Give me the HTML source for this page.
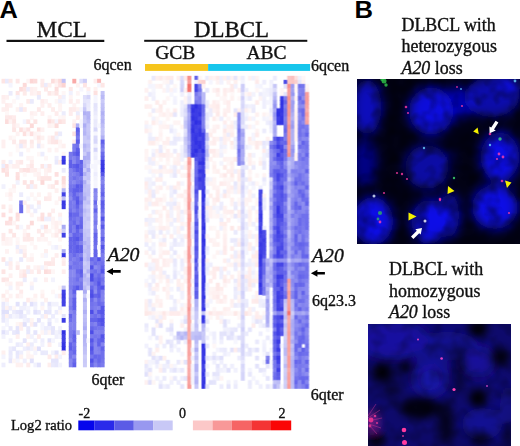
<!DOCTYPE html>
<html><head><meta charset="utf-8"><title>A20 loss</title><style>
html,body{margin:0;padding:0;background:#fff;width:520px;height:446px;overflow:hidden}
svg{position:absolute;left:0;top:0;display:block}
.s{font-family:"Liberation Serif",serif;fill:#111;stroke:#111;stroke-width:0.35px}
.b{font-family:"Liberation Sans",sans-serif;font-weight:bold;fill:#000}
</style></head><body>
<svg width="520" height="446" viewBox="0 0 520 446">
<defs>
<filter id="hb" x="-5%" y="-5%" width="110%" height="110%"><feGaussianBlur stdDeviation="0.75"/></filter>
<filter id="bl1" x="-30%" y="-30%" width="160%" height="160%"><feGaussianBlur stdDeviation="6"/></filter>
<filter id="bl2" x="-30%" y="-30%" width="160%" height="160%"><feGaussianBlur stdDeviation="7"/></filter>
<filter id="bl3" x="-30%" y="-30%" width="160%" height="160%"><feGaussianBlur stdDeviation="4.5"/></filter>
<filter id="dot" x="-100%" y="-100%" width="300%" height="300%"><feGaussianBlur stdDeviation="0.75"/></filter>
<filter id="tex" x="0" y="0" width="100%" height="100%"><feTurbulence type="fractalNoise" baseFrequency="0.07" numOctaves="2" seed="11"/><feColorMatrix type="matrix" values="0 0 0 0 0  0 0 0 0 0  0 0 0 0 0  1.8 0 0 0 -0.75"/></filter>
<clipPath id="c1"><rect x="357" y="79" width="163" height="165"/></clipPath>
<clipPath id="c2"><rect x="368" y="324" width="143" height="122"/></clipPath>
</defs>
<g filter="url(#hb)">
<g transform="translate(1.50,78.80) scale(3.5410,4.0549)">
<rect x="0" y="0" width="1.12" height="1.15" fill="#fde5e4"/>
<rect x="0" y="4" width="1.12" height="1.15" fill="#feeeee"/>
<rect x="0" y="5" width="1.12" height="1.15" fill="#fef1f1"/>
<rect x="0" y="7" width="1.12" height="1.15" fill="#feefef"/>
<rect x="0" y="15" width="1.12" height="2.15" fill="#fef0f0"/>
<rect x="0" y="20" width="1.12" height="1.15" fill="#feeceb"/>
<rect x="0" y="21" width="1.12" height="1.15" fill="#ececfc"/>
<rect x="0" y="22" width="1.12" height="1.15" fill="#fddfde"/>
<rect x="0" y="26" width="1.12" height="1.15" fill="#f1f1fd"/>
<rect x="0" y="31" width="1.12" height="1.15" fill="#fde9e8"/>
<rect x="0" y="33" width="1.12" height="1.15" fill="#fddede"/>
<rect x="0" y="38" width="1.12" height="1.15" fill="#fdeaea"/>
<rect x="0" y="39" width="1.12" height="1.15" fill="#fdeae9"/>
<rect x="0" y="40" width="1.12" height="1.15" fill="#fef6f6"/>
<rect x="0" y="44" width="1.12" height="1.15" fill="#fde5e4"/>
<rect x="0" y="47" width="1.12" height="1.15" fill="#fde5e4"/>
<rect x="0" y="49" width="1.12" height="1.15" fill="#fde5e5"/>
<rect x="0" y="53" width="1.12" height="1.15" fill="#fde9e8"/>
<rect x="0" y="54" width="1.12" height="1.15" fill="#fef8f7"/>
<rect x="0" y="55" width="1.12" height="1.15" fill="#e8e8fc"/>
<rect x="0" y="56" width="1.12" height="1.15" fill="#e9e9fc"/>
<rect x="0" y="57" width="1.12" height="1.15" fill="#e0e0fb"/>
<rect x="0" y="58" width="1.12" height="1.15" fill="#e7e7fc"/>
<rect x="0" y="59" width="1.12" height="1.15" fill="#e8e8fc"/>
<rect x="0" y="61" width="1.12" height="1.15" fill="#f5f5fe"/>
<rect x="0" y="62" width="1.12" height="1.15" fill="#e1e1fb"/>
<rect x="0" y="63" width="1.12" height="1.15" fill="#f2f2fd"/>
<rect x="0" y="67" width="1.12" height="1.15" fill="#fef0ef"/>
<rect x="0" y="68" width="1.12" height="1.15" fill="#f4f4fe"/>
<rect x="0" y="70" width="1.12" height="1.15" fill="#eeeefd"/>
<rect x="1" y="0" width="1.12" height="1.15" fill="#eaeafc"/>
<rect x="1" y="4" width="1.12" height="1.15" fill="#fef1f1"/>
<rect x="1" y="6" width="1.12" height="1.15" fill="#feecec"/>
<rect x="1" y="7" width="1.12" height="1.15" fill="#feeeed"/>
<rect x="1" y="8" width="1.12" height="1.15" fill="#fef7f7"/>
<rect x="1" y="9" width="1.12" height="1.15" fill="#fde9e9"/>
<rect x="1" y="10" width="1.12" height="1.15" fill="#fcdddc"/>
<rect x="1" y="21" width="1.12" height="1.15" fill="#fde1e1"/>
<rect x="1" y="22" width="1.12" height="1.15" fill="#fde7e7"/>
<rect x="1" y="23" width="1.12" height="1.15" fill="#fde1e0"/>
<rect x="1" y="28" width="1.12" height="1.15" fill="#fef7f7"/>
<rect x="1" y="35" width="1.12" height="1.15" fill="#fde0e0"/>
<rect x="1" y="39" width="1.12" height="1.15" fill="#fef2f2"/>
<rect x="1" y="40" width="1.12" height="1.15" fill="#fef3f3"/>
<rect x="1" y="42" width="1.12" height="1.15" fill="#fef2f2"/>
<rect x="1" y="45" width="1.12" height="1.15" fill="#f0f0fd"/>
<rect x="1" y="49" width="1.12" height="1.15" fill="#fde8e7"/>
<rect x="1" y="50" width="1.12" height="1.15" fill="#fef6f6"/>
<rect x="1" y="52" width="1.12" height="1.15" fill="#fef5f5"/>
<rect x="1" y="54" width="1.12" height="1.15" fill="#feefef"/>
<rect x="1" y="55" width="1.12" height="1.15" fill="#f5f5fe"/>
<rect x="1" y="56" width="1.12" height="1.15" fill="#fef2f1"/>
<rect x="1" y="57" width="1.12" height="1.15" fill="#e1e1fb"/>
<rect x="1" y="58" width="1.12" height="1.15" fill="#fef1f1"/>
<rect x="1" y="59" width="1.12" height="1.15" fill="#f3f3fd"/>
<rect x="1" y="60" width="1.12" height="1.15" fill="#f5f5fe"/>
<rect x="1" y="62" width="1.12" height="1.15" fill="#efeffd"/>
<rect x="2" y="0" width="1.12" height="1.15" fill="#fde9e8"/>
<rect x="2" y="1" width="1.12" height="1.15" fill="#f4f4fe"/>
<rect x="2" y="3" width="1.12" height="1.15" fill="#ebebfc"/>
<rect x="2" y="6" width="1.12" height="1.15" fill="#fef0f0"/>
<rect x="2" y="9" width="1.12" height="1.15" fill="#fde7e7"/>
<rect x="2" y="10" width="1.12" height="1.15" fill="#fef3f3"/>
<rect x="2" y="14" width="1.12" height="1.15" fill="#fef3f3"/>
<rect x="2" y="18" width="1.12" height="1.15" fill="#fef7f7"/>
<rect x="2" y="20" width="1.12" height="1.15" fill="#f1f1fd"/>
<rect x="2" y="21" width="1.12" height="1.15" fill="#fef7f7"/>
<rect x="2" y="27" width="1.12" height="1.15" fill="#fef6f5"/>
<rect x="2" y="28" width="1.12" height="1.15" fill="#feedec"/>
<rect x="2" y="29" width="1.12" height="1.15" fill="#fef4f4"/>
<rect x="2" y="31" width="1.12" height="1.15" fill="#fef3f2"/>
<rect x="2" y="32" width="1.12" height="1.15" fill="#feebeb"/>
<rect x="2" y="34" width="1.12" height="1.15" fill="#fcdad9"/>
<rect x="2" y="35" width="1.12" height="1.15" fill="#fde3e3"/>
<rect x="2" y="37" width="1.12" height="1.15" fill="#fde6e5"/>
<rect x="2" y="39" width="1.12" height="2.15" fill="#fef5f5"/>
<rect x="2" y="44" width="1.12" height="1.15" fill="#f2f2fd"/>
<rect x="2" y="45" width="1.12" height="1.15" fill="#feedec"/>
<rect x="2" y="46" width="1.12" height="1.15" fill="#feefef"/>
<rect x="2" y="48" width="1.12" height="1.15" fill="#fef0f0"/>
<rect x="2" y="50" width="1.12" height="1.15" fill="#fef2f2"/>
<rect x="2" y="51" width="1.12" height="1.15" fill="#f3f3fd"/>
<rect x="2" y="53" width="1.12" height="1.15" fill="#fef3f3"/>
<rect x="2" y="56" width="1.12" height="1.15" fill="#ededfd"/>
<rect x="2" y="58" width="1.12" height="1.15" fill="#ebebfc"/>
<rect x="2" y="61" width="1.12" height="1.15" fill="#eaeafc"/>
<rect x="2" y="64" width="1.12" height="1.15" fill="#f2f2fd"/>
<rect x="2" y="66" width="1.12" height="1.15" fill="#eeeefd"/>
<rect x="2" y="67" width="1.12" height="1.15" fill="#e9e9fc"/>
<rect x="2" y="68" width="1.12" height="1.15" fill="#ebebfc"/>
<rect x="2" y="69" width="1.12" height="1.15" fill="#e5e5fb"/>
<rect x="3" y="5" width="1.12" height="1.15" fill="#fef8f8"/>
<rect x="3" y="9" width="1.12" height="1.15" fill="#feebeb"/>
<rect x="3" y="10" width="1.12" height="1.15" fill="#fde5e4"/>
<rect x="3" y="11" width="1.12" height="1.15" fill="#feebeb"/>
<rect x="3" y="12" width="1.12" height="1.15" fill="#fde6e5"/>
<rect x="3" y="14" width="1.12" height="1.15" fill="#fef8f7"/>
<rect x="3" y="15" width="1.12" height="1.15" fill="#fdeaea"/>
<rect x="3" y="21" width="1.12" height="1.15" fill="#feefef"/>
<rect x="3" y="26" width="1.12" height="1.15" fill="#feeeee"/>
<rect x="3" y="27" width="1.12" height="1.15" fill="#fef7f7"/>
<rect x="3" y="35" width="1.12" height="1.15" fill="#fef4f4"/>
<rect x="3" y="38" width="1.12" height="1.15" fill="#fde6e5"/>
<rect x="3" y="56" width="1.12" height="1.15" fill="#fef7f7"/>
<rect x="3" y="57" width="1.12" height="1.15" fill="#ececfc"/>
<rect x="3" y="58" width="1.12" height="1.15" fill="#f5f5fe"/>
<rect x="3" y="62" width="1.12" height="1.15" fill="#e9e9fc"/>
<rect x="3" y="66" width="1.12" height="1.15" fill="#e7e7fc"/>
<rect x="3" y="69" width="1.12" height="1.15" fill="#fef6f5"/>
<rect x="4" y="0" width="1.12" height="1.15" fill="#fde7e7"/>
<rect x="4" y="3" width="1.12" height="1.15" fill="#fde5e5"/>
<rect x="4" y="4" width="1.12" height="1.15" fill="#f5f5fe"/>
<rect x="4" y="7" width="1.12" height="1.15" fill="#fef2f1"/>
<rect x="4" y="11" width="1.12" height="1.15" fill="#fef4f4"/>
<rect x="4" y="13" width="1.12" height="1.15" fill="#fef2f2"/>
<rect x="4" y="16" width="1.12" height="1.15" fill="#fef6f6"/>
<rect x="4" y="17" width="1.12" height="1.15" fill="#fef8f8"/>
<rect x="4" y="20" width="1.12" height="1.15" fill="#feeeee"/>
<rect x="4" y="21" width="1.12" height="1.15" fill="#feefee"/>
<rect x="4" y="23" width="1.12" height="1.15" fill="#fde1e0"/>
<rect x="4" y="24" width="1.12" height="1.15" fill="#fddedd"/>
<rect x="4" y="25" width="1.12" height="1.15" fill="#f2f2fd"/>
<rect x="4" y="33" width="1.12" height="1.15" fill="#fddedd"/>
<rect x="4" y="34" width="1.12" height="1.15" fill="#fde2e1"/>
<rect x="4" y="36" width="1.12" height="1.15" fill="#fde8e8"/>
<rect x="4" y="39" width="1.12" height="1.15" fill="#fef7f7"/>
<rect x="4" y="40" width="1.12" height="1.15" fill="#fef5f5"/>
<rect x="4" y="41" width="1.12" height="1.15" fill="#ededfd"/>
<rect x="4" y="42" width="1.12" height="1.15" fill="#fef2f2"/>
<rect x="4" y="45" width="1.12" height="1.15" fill="#fef4f4"/>
<rect x="4" y="46" width="1.12" height="1.15" fill="#fde7e7"/>
<rect x="4" y="50" width="1.12" height="1.15" fill="#feedec"/>
<rect x="4" y="51" width="1.12" height="1.15" fill="#fef2f2"/>
<rect x="4" y="53" width="1.12" height="1.15" fill="#feeeee"/>
<rect x="4" y="55" width="1.12" height="1.15" fill="#e2e2fb"/>
<rect x="4" y="57" width="1.12" height="1.15" fill="#e6e6fc"/>
<rect x="4" y="58" width="1.12" height="1.15" fill="#f1f1fd"/>
<rect x="4" y="60" width="1.12" height="1.15" fill="#fef6f5"/>
<rect x="4" y="61" width="1.12" height="1.15" fill="#e5e5fc"/>
<rect x="4" y="62" width="1.12" height="1.15" fill="#e4e4fb"/>
<rect x="4" y="63" width="1.12" height="1.15" fill="#feefef"/>
<rect x="4" y="65" width="1.12" height="1.15" fill="#ebebfc"/>
<rect x="4" y="67" width="1.12" height="1.15" fill="#e7e7fc"/>
<rect x="4" y="68" width="1.12" height="1.15" fill="#e9e9fc"/>
<rect x="4" y="69" width="1.12" height="1.15" fill="#f6f6fe"/>
<rect x="4" y="70" width="1.12" height="1.15" fill="#fef1f0"/>
<rect x="5" y="2" width="1.12" height="1.15" fill="#fcdddc"/>
<rect x="5" y="6" width="1.12" height="1.15" fill="#fef3f3"/>
<rect x="5" y="7" width="1.12" height="1.15" fill="#e9e9fc"/>
<rect x="5" y="12" width="1.12" height="1.15" fill="#fde0df"/>
<rect x="5" y="15" width="1.12" height="1.15" fill="#fde7e6"/>
<rect x="5" y="16" width="1.12" height="1.15" fill="#eaeafc"/>
<rect x="5" y="18" width="1.12" height="1.15" fill="#ececfc"/>
<rect x="5" y="20" width="1.12" height="1.15" fill="#fde9e9"/>
<rect x="5" y="22" width="1.12" height="1.15" fill="#fdeae9"/>
<rect x="5" y="28" width="1.12" height="1.15" fill="#ebebfc"/>
<rect x="5" y="30" width="1.12" height="1.15" fill="#7d7dee"/>
<rect x="5" y="31" width="1.12" height="2.15" fill="#6c6ceb"/>
<rect x="5" y="36" width="1.12" height="1.15" fill="#f6f6fe"/>
<rect x="5" y="41" width="1.12" height="1.15" fill="#fef5f5"/>
<rect x="5" y="42" width="1.12" height="1.15" fill="#ececfd"/>
<rect x="5" y="44" width="1.12" height="1.15" fill="#e9e9fc"/>
<rect x="5" y="47" width="1.12" height="1.15" fill="#fef1f1"/>
<rect x="5" y="48" width="1.12" height="1.15" fill="#feeded"/>
<rect x="5" y="50" width="1.12" height="1.15" fill="#feeeed"/>
<rect x="5" y="52" width="1.12" height="1.15" fill="#feebeb"/>
<rect x="5" y="53" width="1.12" height="1.15" fill="#fef5f5"/>
<rect x="5" y="56" width="1.12" height="1.15" fill="#f0f0fd"/>
<rect x="5" y="57" width="1.12" height="1.15" fill="#e2e2fb"/>
<rect x="5" y="58" width="1.12" height="1.15" fill="#e6e6fc"/>
<rect x="5" y="60" width="1.12" height="1.15" fill="#feeeed"/>
<rect x="5" y="61" width="1.12" height="1.15" fill="#feefef"/>
<rect x="5" y="65" width="1.12" height="1.15" fill="#efeffd"/>
<rect x="5" y="67" width="1.12" height="1.15" fill="#eeeefd"/>
<rect x="5" y="68" width="1.12" height="1.15" fill="#fef2f1"/>
<rect x="5" y="70" width="1.12" height="1.15" fill="#fef1f1"/>
<rect x="6" y="1" width="1.12" height="1.15" fill="#fcdad9"/>
<rect x="6" y="2" width="1.12" height="1.15" fill="#fde5e4"/>
<rect x="6" y="3" width="1.12" height="1.15" fill="#fdeae9"/>
<rect x="6" y="7" width="1.12" height="1.15" fill="#feeceb"/>
<rect x="6" y="10" width="1.12" height="1.15" fill="#f4f4fe"/>
<rect x="6" y="12" width="1.12" height="1.15" fill="#fef0f0"/>
<rect x="6" y="13" width="1.12" height="1.15" fill="#fde0df"/>
<rect x="6" y="15" width="1.12" height="1.15" fill="#fde8e7"/>
<rect x="6" y="16" width="1.12" height="1.15" fill="#feefef"/>
<rect x="6" y="22" width="1.12" height="1.15" fill="#fde2e2"/>
<rect x="6" y="23" width="1.12" height="1.15" fill="#fef7f7"/>
<rect x="6" y="25" width="1.12" height="1.15" fill="#fde4e3"/>
<rect x="6" y="30" width="1.12" height="1.15" fill="#feefef"/>
<rect x="6" y="37" width="1.12" height="1.15" fill="#fef5f5"/>
<rect x="6" y="38" width="1.12" height="1.15" fill="#fef0f0"/>
<rect x="6" y="39" width="1.12" height="1.15" fill="#fde9e9"/>
<rect x="6" y="41" width="1.12" height="1.15" fill="#fef5f4"/>
<rect x="6" y="42" width="1.12" height="1.15" fill="#fef0f0"/>
<rect x="6" y="43" width="1.12" height="1.15" fill="#fde9e8"/>
<rect x="6" y="47" width="1.12" height="1.15" fill="#fdeae9"/>
<rect x="6" y="48" width="1.12" height="1.15" fill="#fde3e3"/>
<rect x="6" y="49" width="1.12" height="1.15" fill="#ececfc"/>
<rect x="6" y="55" width="1.12" height="1.15" fill="#e8e8fc"/>
<rect x="6" y="56" width="1.12" height="1.15" fill="#f0f0fd"/>
<rect x="6" y="58" width="1.12" height="1.15" fill="#ededfd"/>
<rect x="6" y="59" width="1.12" height="1.15" fill="#f2f2fd"/>
<rect x="6" y="60" width="1.12" height="1.15" fill="#e1e1fb"/>
<rect x="6" y="64" width="1.12" height="1.15" fill="#e4e4fb"/>
<rect x="6" y="66" width="1.12" height="1.15" fill="#efeffd"/>
<rect x="6" y="69" width="1.12" height="1.15" fill="#efeffd"/>
<rect x="7" y="0" width="1.12" height="1.15" fill="#fef4f4"/>
<rect x="7" y="2" width="1.12" height="1.15" fill="#ededfd"/>
<rect x="7" y="5" width="1.12" height="1.15" fill="#fdeae9"/>
<rect x="7" y="10" width="1.12" height="1.15" fill="#fde5e4"/>
<rect x="7" y="12" width="1.12" height="1.15" fill="#fde3e3"/>
<rect x="7" y="13" width="1.12" height="1.15" fill="#fef7f7"/>
<rect x="7" y="17" width="1.12" height="1.15" fill="#fef6f5"/>
<rect x="7" y="19" width="1.12" height="1.15" fill="#fef4f4"/>
<rect x="7" y="21" width="1.12" height="1.15" fill="#fef2f2"/>
<rect x="7" y="22" width="1.12" height="1.15" fill="#fde2e1"/>
<rect x="7" y="26" width="1.12" height="1.15" fill="#fde5e5"/>
<rect x="7" y="29" width="1.12" height="1.15" fill="#f7f7fe"/>
<rect x="7" y="31" width="1.12" height="1.15" fill="#fdeaea"/>
<rect x="7" y="32" width="1.12" height="1.15" fill="#feefef"/>
<rect x="7" y="36" width="1.12" height="1.15" fill="#fde9e9"/>
<rect x="7" y="38" width="1.12" height="1.15" fill="#fde6e5"/>
<rect x="7" y="39" width="1.12" height="1.15" fill="#fde8e7"/>
<rect x="7" y="44" width="1.12" height="1.15" fill="#fef3f2"/>
<rect x="7" y="46" width="1.12" height="1.15" fill="#fdebea"/>
<rect x="7" y="47" width="1.12" height="1.15" fill="#efeffd"/>
<rect x="7" y="54" width="1.12" height="1.15" fill="#feebeb"/>
<rect x="7" y="56" width="1.12" height="1.15" fill="#f5f5fe"/>
<rect x="7" y="57" width="1.12" height="1.15" fill="#f0f0fd"/>
<rect x="7" y="59" width="1.12" height="1.15" fill="#ededfd"/>
<rect x="7" y="61" width="1.12" height="1.15" fill="#eaeafc"/>
<rect x="7" y="62" width="1.12" height="1.15" fill="#e7e7fc"/>
<rect x="7" y="63" width="1.12" height="1.15" fill="#fef2f2"/>
<rect x="7" y="65" width="1.12" height="1.15" fill="#feefef"/>
<rect x="7" y="66" width="1.12" height="1.15" fill="#e9e9fc"/>
<rect x="7" y="67" width="1.12" height="1.15" fill="#fef6f6"/>
<rect x="7" y="68" width="1.12" height="1.15" fill="#fef3f3"/>
<rect x="7" y="70" width="1.12" height="1.15" fill="#feecec"/>
<rect x="8" y="0" width="1.12" height="1.15" fill="#fcd6d5"/>
<rect x="8" y="2" width="1.12" height="2.15" fill="#feefef"/>
<rect x="8" y="5" width="1.12" height="1.15" fill="#eaeafc"/>
<rect x="8" y="8" width="1.12" height="1.15" fill="#feefef"/>
<rect x="8" y="9" width="1.12" height="1.15" fill="#fef6f6"/>
<rect x="8" y="11" width="1.12" height="1.15" fill="#fcdad9"/>
<rect x="8" y="13" width="1.12" height="1.15" fill="#fddfdf"/>
<rect x="8" y="15" width="1.12" height="1.15" fill="#fde9e8"/>
<rect x="8" y="16" width="1.12" height="1.15" fill="#feefee"/>
<rect x="8" y="19" width="1.12" height="1.15" fill="#fef6f6"/>
<rect x="8" y="20" width="1.12" height="1.15" fill="#feeeed"/>
<rect x="8" y="21" width="1.12" height="1.15" fill="#fde7e7"/>
<rect x="8" y="22" width="1.12" height="1.15" fill="#feeeee"/>
<rect x="8" y="25" width="1.12" height="1.15" fill="#fde4e4"/>
<rect x="8" y="26" width="1.12" height="1.15" fill="#f0f0fd"/>
<rect x="8" y="28" width="1.12" height="1.15" fill="#fef5f5"/>
<rect x="8" y="31" width="1.12" height="1.15" fill="#eeeefd"/>
<rect x="8" y="33" width="1.12" height="1.15" fill="#fef4f4"/>
<rect x="8" y="35" width="1.12" height="1.15" fill="#fcdad9"/>
<rect x="8" y="39" width="1.12" height="1.15" fill="#fdeae9"/>
<rect x="8" y="40" width="1.12" height="1.15" fill="#fef7f7"/>
<rect x="8" y="43" width="1.12" height="1.15" fill="#fef7f7"/>
<rect x="8" y="44" width="1.12" height="1.15" fill="#feeeee"/>
<rect x="8" y="47" width="1.12" height="1.15" fill="#feeeee"/>
<rect x="8" y="50" width="1.12" height="1.15" fill="#fef4f4"/>
<rect x="8" y="51" width="1.12" height="1.15" fill="#efeffd"/>
<rect x="8" y="54" width="1.12" height="1.15" fill="#fef6f6"/>
<rect x="8" y="55" width="1.12" height="1.15" fill="#e1e1fb"/>
<rect x="8" y="59" width="1.12" height="1.15" fill="#fef5f4"/>
<rect x="8" y="60" width="1.12" height="1.15" fill="#feefef"/>
<rect x="8" y="63" width="1.12" height="1.15" fill="#f2f2fd"/>
<rect x="8" y="65" width="1.12" height="1.15" fill="#ececfc"/>
<rect x="8" y="66" width="1.12" height="1.15" fill="#f2f2fd"/>
<rect x="8" y="68" width="1.12" height="1.15" fill="#fef3f3"/>
<rect x="8" y="69" width="1.12" height="1.15" fill="#e2e2fb"/>
<rect x="9" y="0" width="1.12" height="1.15" fill="#fcdcdb"/>
<rect x="9" y="2" width="1.12" height="1.15" fill="#fef2f1"/>
<rect x="9" y="3" width="1.12" height="1.15" fill="#fef3f3"/>
<rect x="9" y="8" width="1.12" height="1.15" fill="#fef3f3"/>
<rect x="9" y="10" width="1.12" height="1.15" fill="#fde5e4"/>
<rect x="9" y="13" width="1.12" height="1.15" fill="#fef4f4"/>
<rect x="9" y="14" width="1.12" height="1.15" fill="#fef6f6"/>
<rect x="9" y="22" width="1.12" height="1.15" fill="#feedec"/>
<rect x="9" y="23" width="1.12" height="1.15" fill="#fef5f5"/>
<rect x="9" y="26" width="1.12" height="1.15" fill="#feedec"/>
<rect x="9" y="29" width="1.12" height="1.15" fill="#fef8f8"/>
<rect x="9" y="32" width="1.12" height="1.15" fill="#ededfd"/>
<rect x="9" y="41" width="1.12" height="1.15" fill="#fef4f4"/>
<rect x="9" y="46" width="1.12" height="1.15" fill="#fef4f4"/>
<rect x="9" y="49" width="1.12" height="1.15" fill="#f1f1fd"/>
<rect x="9" y="53" width="1.12" height="1.15" fill="#fef1f1"/>
<rect x="9" y="54" width="1.12" height="1.15" fill="#fef8f7"/>
<rect x="9" y="55" width="1.12" height="1.15" fill="#ededfd"/>
<rect x="9" y="56" width="1.12" height="1.15" fill="#f2f2fd"/>
<rect x="9" y="57" width="1.12" height="1.15" fill="#e2e2fb"/>
<rect x="9" y="60" width="1.12" height="1.15" fill="#e5e5fc"/>
<rect x="9" y="62" width="1.12" height="1.15" fill="#e5e5fc"/>
<rect x="9" y="64" width="1.12" height="1.15" fill="#f2f2fd"/>
<rect x="9" y="66" width="1.12" height="1.15" fill="#fef4f4"/>
<rect x="9" y="67" width="1.12" height="1.15" fill="#f4f4fe"/>
<rect x="9" y="70" width="1.12" height="1.15" fill="#f2f2fd"/>
<rect x="10" y="3" width="1.12" height="1.15" fill="#fdeae9"/>
<rect x="10" y="4" width="1.12" height="1.15" fill="#eaeafc"/>
<rect x="10" y="7" width="1.12" height="1.15" fill="#fde9e9"/>
<rect x="10" y="12" width="1.12" height="1.15" fill="#fde0df"/>
<rect x="10" y="13" width="1.12" height="1.15" fill="#fef7f7"/>
<rect x="10" y="14" width="1.12" height="1.15" fill="#fde6e5"/>
<rect x="10" y="15" width="1.12" height="1.15" fill="#feefee"/>
<rect x="10" y="16" width="1.12" height="1.15" fill="#eaeafc"/>
<rect x="10" y="18" width="1.12" height="1.15" fill="#fef7f7"/>
<rect x="10" y="22" width="1.12" height="1.15" fill="#fef8f8"/>
<rect x="10" y="23" width="1.12" height="1.15" fill="#fef1f1"/>
<rect x="10" y="24" width="1.12" height="1.15" fill="#feeeed"/>
<rect x="10" y="28" width="1.12" height="1.15" fill="#fef3f2"/>
<rect x="10" y="30" width="1.12" height="1.15" fill="#fde9e9"/>
<rect x="10" y="31" width="1.12" height="1.15" fill="#f2f2fd"/>
<rect x="10" y="34" width="1.12" height="1.15" fill="#feefef"/>
<rect x="10" y="37" width="1.12" height="1.15" fill="#fdeaea"/>
<rect x="10" y="39" width="1.12" height="1.15" fill="#fef1f1"/>
<rect x="10" y="46" width="1.12" height="1.15" fill="#fef0ef"/>
<rect x="10" y="47" width="1.12" height="1.15" fill="#fde9e8"/>
<rect x="10" y="57" width="1.12" height="1.15" fill="#eaeafc"/>
<rect x="10" y="59" width="1.12" height="1.15" fill="#e3e3fb"/>
<rect x="10" y="63" width="1.12" height="1.15" fill="#feecec"/>
<rect x="10" y="66" width="1.12" height="1.15" fill="#e0e0fb"/>
<rect x="10" y="70" width="1.12" height="1.15" fill="#e3e3fb"/>
<rect x="11" y="0" width="1.12" height="1.15" fill="#feecec"/>
<rect x="11" y="1" width="1.12" height="1.15" fill="#fdeaea"/>
<rect x="11" y="5" width="1.12" height="1.15" fill="#feecec"/>
<rect x="11" y="6" width="1.12" height="1.15" fill="#fef0f0"/>
<rect x="11" y="8" width="1.12" height="1.15" fill="#feeeee"/>
<rect x="11" y="12" width="1.12" height="1.15" fill="#fef1f1"/>
<rect x="11" y="14" width="1.12" height="1.15" fill="#fef1f0"/>
<rect x="11" y="16" width="1.12" height="1.15" fill="#fef5f5"/>
<rect x="11" y="18" width="1.12" height="1.15" fill="#ededfd"/>
<rect x="11" y="21" width="1.12" height="1.15" fill="#fde6e5"/>
<rect x="11" y="24" width="1.12" height="1.15" fill="#fde5e4"/>
<rect x="11" y="25" width="1.12" height="1.15" fill="#fcd9d8"/>
<rect x="11" y="33" width="1.12" height="1.15" fill="#fde1e0"/>
<rect x="11" y="34" width="1.12" height="1.15" fill="#fddedd"/>
<rect x="11" y="36" width="1.12" height="1.15" fill="#f1f1fd"/>
<rect x="11" y="38" width="1.12" height="1.15" fill="#fde8e8"/>
<rect x="11" y="39" width="1.12" height="1.15" fill="#fef5f5"/>
<rect x="11" y="43" width="1.12" height="1.15" fill="#fef7f7"/>
<rect x="11" y="46" width="1.12" height="1.15" fill="#f4f4fd"/>
<rect x="11" y="52" width="1.12" height="1.15" fill="#fef6f5"/>
<rect x="11" y="53" width="1.12" height="1.15" fill="#feefee"/>
<rect x="11" y="55" width="1.12" height="1.15" fill="#efeffd"/>
<rect x="11" y="56" width="1.12" height="1.15" fill="#fef5f5"/>
<rect x="11" y="58" width="1.12" height="1.15" fill="#f0f0fd"/>
<rect x="11" y="60" width="1.12" height="1.15" fill="#f4f4fe"/>
<rect x="11" y="61" width="1.12" height="1.15" fill="#f5f5fe"/>
<rect x="11" y="62" width="1.12" height="1.15" fill="#fef5f5"/>
<rect x="11" y="64" width="1.12" height="1.15" fill="#eeeefd"/>
<rect x="11" y="65" width="1.12" height="1.15" fill="#f2f2fd"/>
<rect x="11" y="67" width="1.12" height="1.15" fill="#e9e9fc"/>
<rect x="12" y="1" width="1.12" height="1.15" fill="#ececfc"/>
<rect x="12" y="2" width="1.12" height="1.15" fill="#fdeaea"/>
<rect x="12" y="5" width="1.12" height="1.15" fill="#fef3f3"/>
<rect x="12" y="19" width="1.12" height="1.15" fill="#fef6f6"/>
<rect x="12" y="21" width="1.12" height="1.15" fill="#f5f5fe"/>
<rect x="12" y="22" width="1.12" height="1.15" fill="#fef2f1"/>
<rect x="12" y="23" width="1.12" height="1.15" fill="#fef3f3"/>
<rect x="12" y="24" width="1.12" height="1.15" fill="#fde6e5"/>
<rect x="12" y="29" width="1.12" height="1.15" fill="#fdeaea"/>
<rect x="12" y="34" width="1.12" height="1.15" fill="#efeffd"/>
<rect x="12" y="36" width="1.12" height="1.15" fill="#fddfde"/>
<rect x="12" y="37" width="1.12" height="1.15" fill="#fef1f0"/>
<rect x="12" y="39" width="1.12" height="1.15" fill="#fef3f3"/>
<rect x="12" y="42" width="1.12" height="1.15" fill="#feefee"/>
<rect x="12" y="43" width="1.12" height="1.15" fill="#f6f6fe"/>
<rect x="12" y="45" width="1.12" height="1.15" fill="#fde7e6"/>
<rect x="12" y="46" width="1.12" height="1.15" fill="#fef5f5"/>
<rect x="12" y="47" width="1.12" height="1.15" fill="#fcdddc"/>
<rect x="12" y="49" width="1.12" height="1.15" fill="#fef0f0"/>
<rect x="12" y="54" width="1.12" height="1.15" fill="#fef1f0"/>
<rect x="12" y="57" width="1.12" height="1.15" fill="#e5e5fb"/>
<rect x="12" y="58" width="1.12" height="1.15" fill="#feefef"/>
<rect x="12" y="61" width="1.12" height="1.15" fill="#ededfd"/>
<rect x="12" y="62" width="1.12" height="1.15" fill="#f1f1fd"/>
<rect x="12" y="67" width="1.12" height="1.15" fill="#eaeafc"/>
<rect x="13" y="1" width="1.12" height="1.15" fill="#feefee"/>
<rect x="13" y="3" width="1.12" height="1.15" fill="#fde8e7"/>
<rect x="13" y="6" width="1.12" height="1.15" fill="#feeeed"/>
<rect x="13" y="9" width="1.12" height="1.15" fill="#fef4f4"/>
<rect x="13" y="10" width="1.12" height="1.15" fill="#fcdddd"/>
<rect x="13" y="11" width="1.12" height="1.15" fill="#fef2f2"/>
<rect x="13" y="14" width="1.12" height="1.15" fill="#fef2f2"/>
<rect x="13" y="15" width="1.12" height="1.15" fill="#feefee"/>
<rect x="13" y="17" width="1.12" height="1.15" fill="#fef3f3"/>
<rect x="13" y="21" width="1.12" height="1.15" fill="#fde6e6"/>
<rect x="13" y="22" width="1.12" height="1.15" fill="#feeceb"/>
<rect x="13" y="24" width="1.12" height="1.15" fill="#fde5e4"/>
<rect x="13" y="26" width="1.12" height="1.15" fill="#fef1f1"/>
<rect x="13" y="28" width="1.12" height="1.15" fill="#fef0f0"/>
<rect x="13" y="29" width="1.12" height="1.15" fill="#feeceb"/>
<rect x="13" y="33" width="1.12" height="1.15" fill="#fde5e4"/>
<rect x="13" y="34" width="1.12" height="1.15" fill="#f0f0fd"/>
<rect x="13" y="37" width="1.12" height="1.15" fill="#fef6f5"/>
<rect x="13" y="40" width="1.12" height="1.15" fill="#fef7f7"/>
<rect x="13" y="45" width="1.12" height="1.15" fill="#fde6e5"/>
<rect x="13" y="47" width="1.12" height="1.15" fill="#fde3e2"/>
<rect x="13" y="55" width="1.12" height="1.15" fill="#e4e4fb"/>
<rect x="13" y="56" width="1.12" height="1.15" fill="#ececfc"/>
<rect x="13" y="57" width="1.12" height="1.15" fill="#e7e7fc"/>
<rect x="13" y="59" width="1.12" height="1.15" fill="#ececfc"/>
<rect x="13" y="60" width="1.12" height="1.15" fill="#e1e1fb"/>
<rect x="13" y="61" width="1.12" height="1.15" fill="#efeffd"/>
<rect x="13" y="62" width="1.12" height="1.15" fill="#fef5f5"/>
<rect x="13" y="64" width="1.12" height="1.15" fill="#e3e3fb"/>
<rect x="13" y="65" width="1.12" height="1.15" fill="#feeded"/>
<rect x="13" y="68" width="1.12" height="1.15" fill="#feebeb"/>
<rect x="13" y="70" width="1.12" height="1.15" fill="#feeeed"/>
<rect x="14" y="0" width="1.12" height="1.15" fill="#fcdddc"/>
<rect x="14" y="3" width="1.12" height="1.15" fill="#fef1f0"/>
<rect x="14" y="7" width="1.12" height="1.15" fill="#feedec"/>
<rect x="14" y="10" width="1.12" height="1.15" fill="#fde8e7"/>
<rect x="14" y="11" width="1.12" height="1.15" fill="#fef5f4"/>
<rect x="14" y="14" width="1.12" height="2.15" fill="#fde7e7"/>
<rect x="14" y="26" width="1.12" height="1.15" fill="#fdebea"/>
<rect x="14" y="32" width="1.12" height="1.15" fill="#feefef"/>
<rect x="14" y="34" width="1.12" height="2.15" fill="#fef4f4"/>
<rect x="14" y="36" width="1.12" height="1.15" fill="#fef7f7"/>
<rect x="14" y="38" width="1.12" height="1.15" fill="#fef5f4"/>
<rect x="14" y="41" width="1.12" height="1.15" fill="#f6f6fe"/>
<rect x="14" y="44" width="1.12" height="1.15" fill="#feecec"/>
<rect x="14" y="45" width="1.12" height="1.15" fill="#fdeae9"/>
<rect x="14" y="47" width="1.12" height="1.15" fill="#fef6f6"/>
<rect x="14" y="49" width="1.12" height="1.15" fill="#f3f3fd"/>
<rect x="14" y="52" width="1.12" height="1.15" fill="#fef7f7"/>
<rect x="14" y="55" width="1.12" height="1.15" fill="#f2f2fd"/>
<rect x="14" y="58" width="1.12" height="1.15" fill="#ededfd"/>
<rect x="14" y="61" width="1.12" height="2.15" fill="#e6e6fc"/>
<rect x="14" y="64" width="1.12" height="1.15" fill="#f5f5fe"/>
<rect x="14" y="67" width="1.12" height="1.15" fill="#f3f3fd"/>
<rect x="14" y="69" width="1.12" height="1.15" fill="#e5e5fc"/>
<rect x="14" y="70" width="1.12" height="1.15" fill="#eaeafc"/>
<rect x="15" y="0" width="1.12" height="1.15" fill="#feeceb"/>
<rect x="15" y="1" width="1.12" height="1.15" fill="#fef3f3"/>
<rect x="15" y="2" width="1.12" height="1.15" fill="#fcdedd"/>
<rect x="15" y="3" width="1.12" height="1.15" fill="#fde5e4"/>
<rect x="15" y="5" width="1.12" height="1.15" fill="#fef6f6"/>
<rect x="15" y="8" width="1.12" height="1.15" fill="#feecec"/>
<rect x="15" y="10" width="1.12" height="1.15" fill="#f5f5fe"/>
<rect x="15" y="11" width="1.12" height="1.15" fill="#fcdddc"/>
<rect x="15" y="13" width="1.12" height="1.15" fill="#fde8e8"/>
<rect x="15" y="14" width="1.12" height="1.15" fill="#f3f3fd"/>
<rect x="15" y="15" width="1.12" height="1.15" fill="#fde5e4"/>
<rect x="15" y="17" width="1.12" height="1.15" fill="#fef3f3"/>
<rect x="15" y="19" width="1.12" height="1.15" fill="#eeeefd"/>
<rect x="15" y="20" width="1.12" height="1.15" fill="#e9e9fc"/>
<rect x="15" y="23" width="1.12" height="1.15" fill="#fddfdf"/>
<rect x="15" y="25" width="1.12" height="1.15" fill="#fde1e0"/>
<rect x="15" y="27" width="1.12" height="1.15" fill="#fef0ef"/>
<rect x="15" y="30" width="1.12" height="1.15" fill="#fef5f5"/>
<rect x="15" y="35" width="1.12" height="1.15" fill="#feefef"/>
<rect x="15" y="36" width="1.12" height="1.15" fill="#feefee"/>
<rect x="15" y="37" width="1.12" height="1.15" fill="#fef3f3"/>
<rect x="15" y="38" width="1.12" height="1.15" fill="#fdeaea"/>
<rect x="15" y="41" width="1.12" height="1.15" fill="#efeffd"/>
<rect x="15" y="43" width="1.12" height="1.15" fill="#feeeee"/>
<rect x="15" y="53" width="1.12" height="1.15" fill="#f6f6fe"/>
<rect x="15" y="55" width="1.12" height="1.15" fill="#f2f2fd"/>
<rect x="15" y="57" width="1.12" height="1.15" fill="#ededfd"/>
<rect x="15" y="59" width="1.12" height="1.15" fill="#f6f6fe"/>
<rect x="15" y="62" width="1.12" height="1.15" fill="#f3f3fd"/>
<rect x="15" y="63" width="1.12" height="1.15" fill="#f0f0fd"/>
<rect x="15" y="67" width="1.12" height="1.15" fill="#e2e2fb"/>
<rect x="15" y="68" width="1.12" height="1.15" fill="#feeded"/>
<rect x="15" y="69" width="1.12" height="1.15" fill="#e5e5fc"/>
<rect x="15" y="70" width="1.12" height="1.15" fill="#e7e7fc"/>
<rect x="16" y="0" width="1.12" height="1.15" fill="#fcdbda"/>
<rect x="16" y="1" width="1.12" height="1.15" fill="#fde2e2"/>
<rect x="16" y="4" width="1.12" height="1.15" fill="#feeded"/>
<rect x="16" y="5" width="1.12" height="1.15" fill="#f0f0fd"/>
<rect x="16" y="6" width="1.12" height="1.15" fill="#fef3f2"/>
<rect x="16" y="7" width="1.12" height="1.15" fill="#fef4f4"/>
<rect x="16" y="9" width="1.12" height="1.15" fill="#fef7f7"/>
<rect x="16" y="10" width="1.12" height="1.15" fill="#fde1e0"/>
<rect x="16" y="13" width="1.12" height="1.15" fill="#ebebfc"/>
<rect x="16" y="15" width="1.12" height="1.15" fill="#fef5f4"/>
<rect x="16" y="16" width="1.12" height="1.15" fill="#fef7f7"/>
<rect x="16" y="20" width="1.12" height="1.15" fill="#feebeb"/>
<rect x="16" y="29" width="1.12" height="1.15" fill="#feeeee"/>
<rect x="16" y="33" width="1.12" height="1.15" fill="#feefef"/>
<rect x="16" y="34" width="1.12" height="1.15" fill="#f7f7fe"/>
<rect x="16" y="35" width="1.12" height="1.15" fill="#fef4f3"/>
<rect x="16" y="37" width="1.12" height="1.15" fill="#fde8e8"/>
<rect x="16" y="39" width="1.12" height="1.15" fill="#fef5f4"/>
<rect x="16" y="41" width="1.12" height="1.15" fill="#fef8f7"/>
<rect x="16" y="51" width="1.12" height="1.15" fill="#fef7f6"/>
<rect x="16" y="53" width="1.12" height="1.15" fill="#feedec"/>
<rect x="16" y="56" width="1.12" height="1.15" fill="#eeeefd"/>
<rect x="16" y="57" width="1.12" height="1.15" fill="#fef7f6"/>
<rect x="16" y="61" width="1.12" height="1.15" fill="#f1f1fd"/>
<rect x="16" y="62" width="1.12" height="1.15" fill="#ebebfc"/>
<rect x="16" y="63" width="1.12" height="1.15" fill="#f5f5fe"/>
<rect x="16" y="65" width="1.12" height="1.15" fill="#f0f0fd"/>
<rect x="16" y="68" width="1.12" height="1.15" fill="#f2f2fd"/>
<rect x="16" y="70" width="1.12" height="1.15" fill="#f3f3fd"/>
<rect x="17" y="0" width="1.12" height="1.15" fill="#c2c2f7"/>
<rect x="17" y="1" width="1.12" height="1.15" fill="#fcd4d2"/>
<rect x="17" y="3" width="1.12" height="1.15" fill="#fef6f6"/>
<rect x="17" y="4" width="1.12" height="1.15" fill="#f0f0fd"/>
<rect x="17" y="5" width="1.12" height="1.15" fill="#f6f6fe"/>
<rect x="17" y="8" width="1.12" height="1.15" fill="#ececfc"/>
<rect x="17" y="9" width="1.12" height="1.15" fill="#fef4f4"/>
<rect x="17" y="10" width="1.12" height="1.15" fill="#fde8e7"/>
<rect x="17" y="16" width="1.12" height="1.15" fill="#fef0ef"/>
<rect x="17" y="18" width="1.12" height="1.15" fill="#fef6f6"/>
<rect x="17" y="19" width="1.12" height="1.15" fill="#4141e6"/>
<rect x="17" y="20" width="1.12" height="1.15" fill="#3636e4"/>
<rect x="17" y="22" width="1.12" height="1.15" fill="#eaeafc"/>
<rect x="17" y="24" width="1.12" height="1.15" fill="#fcd9d8"/>
<rect x="17" y="25" width="1.12" height="1.15" fill="#fcdddc"/>
<rect x="17" y="26" width="1.12" height="1.15" fill="#fde8e7"/>
<rect x="17" y="27" width="1.12" height="1.15" fill="#b9b9f6"/>
<rect x="17" y="28" width="1.12" height="1.15" fill="#4343e6"/>
<rect x="17" y="29" width="1.12" height="1.15" fill="#bfbff6"/>
<rect x="17" y="30" width="1.12" height="1.15" fill="#3838e4"/>
<rect x="17" y="31" width="1.12" height="1.15" fill="#3c3ce5"/>
<rect x="17" y="36" width="1.12" height="1.15" fill="#aaaaf4"/>
<rect x="17" y="37" width="1.12" height="1.15" fill="#ccccf8"/>
<rect x="17" y="38" width="1.12" height="1.15" fill="#4343e6"/>
<rect x="17" y="42" width="1.12" height="1.15" fill="#afaff4"/>
<rect x="17" y="43" width="1.12" height="1.15" fill="#3939e5"/>
<rect x="17" y="44" width="1.12" height="1.15" fill="#feeeee"/>
<rect x="17" y="45" width="1.12" height="1.15" fill="#fdeaea"/>
<rect x="17" y="47" width="1.12" height="1.15" fill="#feeded"/>
<rect x="17" y="51" width="1.12" height="1.15" fill="#c3c3f7"/>
<rect x="17" y="52" width="1.12" height="1.15" fill="#4343e6"/>
<rect x="17" y="53" width="1.12" height="1.15" fill="#3a3ae5"/>
<rect x="17" y="54" width="1.12" height="1.15" fill="#4343e6"/>
<rect x="17" y="55" width="1.12" height="1.15" fill="#4242e6"/>
<rect x="17" y="58" width="1.12" height="1.15" fill="#e3e3fb"/>
<rect x="17" y="59" width="1.12" height="1.15" fill="#3b3be5"/>
<rect x="17" y="62" width="1.12" height="1.15" fill="#3232e4"/>
<rect x="17" y="63" width="1.12" height="1.15" fill="#4141e6"/>
<rect x="17" y="64" width="1.12" height="1.15" fill="#3f3fe5"/>
<rect x="17" y="65" width="1.12" height="1.15" fill="#3636e4"/>
<rect x="17" y="66" width="1.12" height="1.15" fill="#2f2fe3"/>
<rect x="17" y="67" width="1.12" height="1.15" fill="#feedec"/>
<rect x="19" y="2" width="1.12" height="1.15" fill="#fde8e7"/>
<rect x="19" y="3" width="1.12" height="1.15" fill="#f0f0fd"/>
<rect x="19" y="4" width="1.12" height="1.15" fill="#fef4f4"/>
<rect x="19" y="5" width="1.12" height="1.15" fill="#feeded"/>
<rect x="19" y="7" width="1.12" height="1.15" fill="#fdebea"/>
<rect x="19" y="8" width="1.12" height="1.15" fill="#feecec"/>
<rect x="19" y="18" width="1.12" height="1.15" fill="#7777ed"/>
<rect x="19" y="19" width="1.12" height="1.15" fill="#7a7aed"/>
<rect x="19" y="20" width="1.12" height="1.15" fill="#6262ea"/>
<rect x="19" y="21" width="1.12" height="1.15" fill="#5f5fea"/>
<rect x="19" y="22" width="1.12" height="1.15" fill="#8383ee"/>
<rect x="19" y="23" width="1.12" height="1.15" fill="#8282ee"/>
<rect x="19" y="24" width="1.12" height="1.15" fill="#8080ee"/>
<rect x="19" y="25" width="1.12" height="1.15" fill="#7f7fee"/>
<rect x="19" y="26" width="1.12" height="1.15" fill="#7474ec"/>
<rect x="19" y="27" width="1.12" height="1.15" fill="#6f6fec"/>
<rect x="19" y="28" width="1.12" height="1.15" fill="#7e7eee"/>
<rect x="19" y="29" width="1.12" height="1.15" fill="#8a8aef"/>
<rect x="19" y="30" width="1.12" height="1.15" fill="#7777ed"/>
<rect x="19" y="31" width="1.12" height="1.15" fill="#7979ed"/>
<rect x="19" y="32" width="1.12" height="1.15" fill="#7171ec"/>
<rect x="19" y="33" width="1.12" height="1.15" fill="#5f5fea"/>
<rect x="19" y="34" width="1.12" height="1.15" fill="#6b6beb"/>
<rect x="19" y="35" width="1.12" height="1.15" fill="#7373ec"/>
<rect x="19" y="36" width="1.12" height="1.15" fill="#6e6eec"/>
<rect x="19" y="37" width="1.12" height="1.15" fill="#6c6ceb"/>
<rect x="19" y="38" width="1.12" height="1.15" fill="#8888ef"/>
<rect x="19" y="39" width="1.12" height="1.15" fill="#6262ea"/>
<rect x="19" y="40" width="1.12" height="1.15" fill="#6767eb"/>
<rect x="19" y="41" width="1.12" height="1.15" fill="#6363ea"/>
<rect x="19" y="42" width="1.12" height="1.15" fill="#6666eb"/>
<rect x="19" y="43" width="1.12" height="2.15" fill="#7878ed"/>
<rect x="19" y="45" width="1.12" height="1.15" fill="#8585ef"/>
<rect x="19" y="46" width="1.12" height="1.15" fill="#6d6dec"/>
<rect x="19" y="47" width="1.12" height="2.15" fill="#8787ef"/>
<rect x="19" y="49" width="1.12" height="1.15" fill="#8181ee"/>
<rect x="19" y="50" width="1.12" height="1.15" fill="#8383ee"/>
<rect x="19" y="51" width="1.12" height="1.15" fill="#7b7bed"/>
<rect x="19" y="52" width="1.12" height="1.15" fill="#8888ef"/>
<rect x="19" y="53" width="1.12" height="1.15" fill="#8a8aef"/>
<rect x="19" y="54" width="1.12" height="1.15" fill="#8383ee"/>
<rect x="19" y="55" width="1.12" height="1.15" fill="#8585ef"/>
<rect x="19" y="56" width="1.12" height="1.15" fill="#7a7aed"/>
<rect x="19" y="57" width="1.12" height="1.15" fill="#8989ef"/>
<rect x="19" y="58" width="1.12" height="1.15" fill="#6363ea"/>
<rect x="19" y="59" width="1.12" height="1.15" fill="#6e6eec"/>
<rect x="19" y="60" width="1.12" height="1.15" fill="#8383ef"/>
<rect x="19" y="61" width="1.12" height="1.15" fill="#7f7fee"/>
<rect x="19" y="62" width="1.12" height="2.15" fill="#7a7aed"/>
<rect x="19" y="64" width="1.12" height="1.15" fill="#8484ef"/>
<rect x="19" y="65" width="1.12" height="1.15" fill="#6464ea"/>
<rect x="19" y="66" width="1.12" height="1.15" fill="#5d5de9"/>
<rect x="19" y="67" width="1.12" height="1.15" fill="#7575ed"/>
<rect x="19" y="68" width="1.12" height="1.15" fill="#7474ec"/>
<rect x="19" y="69" width="1.12" height="1.15" fill="#8686ef"/>
<rect x="19" y="70" width="1.12" height="1.15" fill="#8585ef"/>
<rect x="20" y="0" width="1.12" height="1.15" fill="#f9aaa8"/>
<rect x="20" y="6" width="1.12" height="1.15" fill="#fef3f3"/>
<rect x="20" y="7" width="1.12" height="1.15" fill="#feecec"/>
<rect x="20" y="10" width="1.12" height="1.15" fill="#fef2f1"/>
<rect x="20" y="11" width="1.12" height="1.15" fill="#fde3e3"/>
<rect x="20" y="13" width="1.12" height="1.15" fill="#fde1e0"/>
<rect x="20" y="15" width="1.12" height="1.15" fill="#feeceb"/>
<rect x="20" y="16" width="1.12" height="1.15" fill="#7b7bed"/>
<rect x="20" y="17" width="1.12" height="1.15" fill="#7e7eee"/>
<rect x="20" y="18" width="1.12" height="1.15" fill="#6565ea"/>
<rect x="20" y="19" width="1.12" height="1.15" fill="#8383ee"/>
<rect x="20" y="20" width="1.12" height="1.15" fill="#8989ef"/>
<rect x="20" y="21" width="1.12" height="1.15" fill="#5f5fea"/>
<rect x="20" y="22" width="1.12" height="1.15" fill="#7272ec"/>
<rect x="20" y="23" width="1.12" height="1.15" fill="#8383ef"/>
<rect x="20" y="24" width="1.12" height="1.15" fill="#7272ec"/>
<rect x="20" y="25" width="1.12" height="1.15" fill="#8989ef"/>
<rect x="20" y="26" width="1.12" height="1.15" fill="#7272ec"/>
<rect x="20" y="27" width="1.12" height="1.15" fill="#5e5eea"/>
<rect x="20" y="28" width="1.12" height="1.15" fill="#6363ea"/>
<rect x="20" y="29" width="1.12" height="1.15" fill="#6b6beb"/>
<rect x="20" y="30" width="1.12" height="1.15" fill="#7e7eee"/>
<rect x="20" y="31" width="1.12" height="1.15" fill="#7979ed"/>
<rect x="20" y="32" width="1.12" height="1.15" fill="#8282ee"/>
<rect x="20" y="33" width="1.12" height="1.15" fill="#6767eb"/>
<rect x="20" y="34" width="1.12" height="1.15" fill="#7272ec"/>
<rect x="20" y="35" width="1.12" height="1.15" fill="#6767eb"/>
<rect x="20" y="36" width="1.12" height="1.15" fill="#7b7bed"/>
<rect x="20" y="37" width="1.12" height="1.15" fill="#8080ee"/>
<rect x="20" y="38" width="1.12" height="1.15" fill="#6565eb"/>
<rect x="20" y="39" width="1.12" height="1.15" fill="#5e5ee9"/>
<rect x="20" y="40" width="1.12" height="1.15" fill="#6464ea"/>
<rect x="20" y="41" width="1.12" height="1.15" fill="#6666eb"/>
<rect x="20" y="42" width="1.12" height="1.15" fill="#6565ea"/>
<rect x="20" y="43" width="1.12" height="1.15" fill="#6969eb"/>
<rect x="20" y="44" width="1.12" height="1.15" fill="#8080ee"/>
<rect x="20" y="45" width="1.12" height="1.15" fill="#7373ec"/>
<rect x="20" y="46" width="1.12" height="1.15" fill="#7a7aed"/>
<rect x="20" y="47" width="1.12" height="2.15" fill="#8989ef"/>
<rect x="20" y="49" width="1.12" height="1.15" fill="#7d7dee"/>
<rect x="20" y="50" width="1.12" height="1.15" fill="#7e7eee"/>
<rect x="20" y="51" width="1.12" height="1.15" fill="#6b6beb"/>
<rect x="20" y="52" width="1.12" height="1.15" fill="#5f5fea"/>
<rect x="20" y="53" width="1.12" height="1.15" fill="#7676ed"/>
<rect x="20" y="54" width="1.12" height="1.15" fill="#6060ea"/>
<rect x="20" y="55" width="1.12" height="1.15" fill="#5e5ee9"/>
<rect x="20" y="56" width="1.12" height="1.15" fill="#5f5fea"/>
<rect x="20" y="57" width="1.12" height="1.15" fill="#7a7aed"/>
<rect x="20" y="58" width="1.12" height="2.15" fill="#8080ee"/>
<rect x="20" y="60" width="1.12" height="2.15" fill="#8181ee"/>
<rect x="20" y="62" width="1.12" height="1.15" fill="#6e6eec"/>
<rect x="20" y="63" width="1.12" height="1.15" fill="#6161ea"/>
<rect x="20" y="64" width="1.12" height="1.15" fill="#6464ea"/>
<rect x="20" y="65" width="1.12" height="1.15" fill="#7474ed"/>
<rect x="20" y="66" width="1.12" height="1.15" fill="#6d6deb"/>
<rect x="20" y="67" width="1.12" height="1.15" fill="#6666eb"/>
<rect x="20" y="68" width="1.12" height="1.15" fill="#8686ef"/>
<rect x="20" y="69" width="1.12" height="1.15" fill="#6c6ceb"/>
<rect x="20" y="70" width="1.12" height="1.15" fill="#6161ea"/>
<rect x="21" y="1" width="1.12" height="1.15" fill="#fef3f2"/>
<rect x="21" y="3" width="1.12" height="1.15" fill="#fef4f4"/>
<rect x="21" y="5" width="1.12" height="1.15" fill="#fef0f0"/>
<rect x="21" y="7" width="1.12" height="1.15" fill="#fef2f1"/>
<rect x="21" y="8" width="1.12" height="1.15" fill="#ececfc"/>
<rect x="21" y="9" width="1.12" height="1.15" fill="#feeceb"/>
<rect x="21" y="11" width="1.12" height="1.15" fill="#b1b1f5"/>
<rect x="21" y="12" width="1.12" height="1.15" fill="#5f5fea"/>
<rect x="21" y="13" width="1.12" height="1.15" fill="#6b6beb"/>
<rect x="21" y="14" width="1.12" height="1.15" fill="#7979ed"/>
<rect x="21" y="15" width="1.12" height="1.15" fill="#5d5de9"/>
<rect x="21" y="16" width="1.12" height="1.15" fill="#7272ec"/>
<rect x="21" y="17" width="1.12" height="1.15" fill="#5d5de9"/>
<rect x="21" y="18" width="1.12" height="1.15" fill="#5555e8"/>
<rect x="21" y="19" width="1.12" height="2.15" fill="#6f6fec"/>
<rect x="21" y="21" width="1.12" height="1.15" fill="#5656e9"/>
<rect x="21" y="22" width="1.12" height="1.15" fill="#6060ea"/>
<rect x="21" y="23" width="1.12" height="1.15" fill="#7979ed"/>
<rect x="21" y="24" width="1.12" height="1.15" fill="#7b7bed"/>
<rect x="21" y="25" width="1.12" height="1.15" fill="#7a7aed"/>
<rect x="21" y="26" width="1.12" height="1.15" fill="#5858e9"/>
<rect x="21" y="27" width="1.12" height="1.15" fill="#5d5de9"/>
<rect x="21" y="28" width="1.12" height="1.15" fill="#7a7aed"/>
<rect x="21" y="29" width="1.12" height="1.15" fill="#5c5ce9"/>
<rect x="21" y="30" width="1.12" height="1.15" fill="#5555e8"/>
<rect x="21" y="31" width="1.12" height="1.15" fill="#6363ea"/>
<rect x="21" y="32" width="1.12" height="1.15" fill="#7171ec"/>
<rect x="21" y="33" width="1.12" height="1.15" fill="#6868eb"/>
<rect x="21" y="34" width="1.12" height="1.15" fill="#7b7bed"/>
<rect x="21" y="35" width="1.12" height="1.15" fill="#8080ee"/>
<rect x="21" y="36" width="1.12" height="1.15" fill="#5555e8"/>
<rect x="21" y="37" width="1.12" height="1.15" fill="#6464ea"/>
<rect x="21" y="38" width="1.12" height="1.15" fill="#6969eb"/>
<rect x="21" y="39" width="1.12" height="1.15" fill="#5757e9"/>
<rect x="21" y="40" width="1.12" height="1.15" fill="#6d6dec"/>
<rect x="21" y="41" width="1.12" height="1.15" fill="#5a5ae9"/>
<rect x="21" y="42" width="1.12" height="1.15" fill="#5c5ce9"/>
<rect x="21" y="43" width="1.12" height="1.15" fill="#7878ed"/>
<rect x="21" y="44" width="1.12" height="1.15" fill="#7676ed"/>
<rect x="21" y="45" width="1.12" height="1.15" fill="#7474ec"/>
<rect x="21" y="46" width="1.12" height="1.15" fill="#7676ed"/>
<rect x="21" y="47" width="1.12" height="1.15" fill="#6767eb"/>
<rect x="21" y="48" width="1.12" height="1.15" fill="#7575ed"/>
<rect x="21" y="49" width="1.12" height="1.15" fill="#6e6eec"/>
<rect x="21" y="50" width="1.12" height="1.15" fill="#7b7bed"/>
<rect x="21" y="51" width="1.12" height="1.15" fill="#5858e9"/>
<rect x="21" y="62" width="1.12" height="1.15" fill="#bebef6"/>
<rect x="22" y="0" width="1.12" height="1.15" fill="#e0e0fb"/>
<rect x="22" y="2" width="1.12" height="1.15" fill="#f6f6fe"/>
<rect x="22" y="7" width="1.12" height="1.15" fill="#f6f6fe"/>
<rect x="22" y="10" width="1.12" height="1.15" fill="#f6f6fe"/>
<rect x="22" y="11" width="1.12" height="1.15" fill="#f5f5fe"/>
<rect x="22" y="16" width="1.12" height="1.15" fill="#f7f7fe"/>
<rect x="22" y="20" width="1.12" height="1.15" fill="#6060ea"/>
<rect x="22" y="21" width="1.12" height="1.15" fill="#6b6beb"/>
<rect x="22" y="22" width="1.12" height="1.15" fill="#6363ea"/>
<rect x="22" y="23" width="1.12" height="1.15" fill="#6060ea"/>
<rect x="22" y="24" width="1.12" height="1.15" fill="#7e7eee"/>
<rect x="22" y="25" width="1.12" height="1.15" fill="#7171ec"/>
<rect x="22" y="26" width="1.12" height="1.15" fill="#6060ea"/>
<rect x="22" y="27" width="1.12" height="1.15" fill="#6464ea"/>
<rect x="22" y="28" width="1.12" height="1.15" fill="#8484ef"/>
<rect x="22" y="29" width="1.12" height="1.15" fill="#8585ef"/>
<rect x="22" y="30" width="1.12" height="1.15" fill="#7676ed"/>
<rect x="22" y="31" width="1.12" height="1.15" fill="#8787ef"/>
<rect x="22" y="32" width="1.12" height="1.15" fill="#7f7fee"/>
<rect x="22" y="33" width="1.12" height="1.15" fill="#8787ef"/>
<rect x="22" y="34" width="1.12" height="1.15" fill="#6c6ceb"/>
<rect x="22" y="35" width="1.12" height="1.15" fill="#6767eb"/>
<rect x="22" y="36" width="1.12" height="1.15" fill="#6262ea"/>
<rect x="22" y="37" width="1.12" height="1.15" fill="#8383ee"/>
<rect x="22" y="38" width="1.12" height="1.15" fill="#6a6aeb"/>
<rect x="22" y="39" width="1.12" height="1.15" fill="#6c6ceb"/>
<rect x="22" y="40" width="1.12" height="1.15" fill="#8484ef"/>
<rect x="22" y="41" width="1.12" height="1.15" fill="#6262ea"/>
<rect x="22" y="42" width="1.12" height="1.15" fill="#5e5eea"/>
<rect x="22" y="43" width="1.12" height="1.15" fill="#8080ee"/>
<rect x="22" y="44" width="1.12" height="1.15" fill="#5f5fea"/>
<rect x="22" y="45" width="1.12" height="1.15" fill="#7878ed"/>
<rect x="22" y="46" width="1.12" height="1.15" fill="#7474ec"/>
<rect x="22" y="47" width="1.12" height="1.15" fill="#5d5de9"/>
<rect x="22" y="48" width="1.12" height="1.15" fill="#6565ea"/>
<rect x="22" y="49" width="1.12" height="1.15" fill="#8383ee"/>
<rect x="22" y="50" width="1.12" height="1.15" fill="#7777ed"/>
<rect x="22" y="51" width="1.12" height="1.15" fill="#7373ec"/>
<rect x="23" y="0" width="1.12" height="1.15" fill="#cdcdf8"/>
<rect x="23" y="1" width="1.12" height="1.15" fill="#fde4e4"/>
<rect x="23" y="4" width="1.12" height="1.15" fill="#dfdffb"/>
<rect x="23" y="5" width="1.12" height="1.15" fill="#e4e4fb"/>
<rect x="23" y="6" width="1.12" height="1.15" fill="#d9d9fa"/>
<rect x="23" y="7" width="1.12" height="1.15" fill="#c8c8f8"/>
<rect x="23" y="8" width="1.12" height="1.15" fill="#b0b0f4"/>
<rect x="23" y="9" width="1.12" height="1.15" fill="#c4c4f7"/>
<rect x="23" y="10" width="1.12" height="1.15" fill="#c8c8f8"/>
<rect x="23" y="11" width="1.12" height="1.15" fill="#acacf4"/>
<rect x="23" y="12" width="1.12" height="1.15" fill="#b9b9f6"/>
<rect x="23" y="13" width="1.12" height="1.15" fill="#b4b4f5"/>
<rect x="23" y="14" width="1.12" height="1.15" fill="#cacaf8"/>
<rect x="23" y="15" width="1.12" height="1.15" fill="#cbcbf8"/>
<rect x="23" y="16" width="1.12" height="1.15" fill="#b5b5f5"/>
<rect x="23" y="17" width="1.12" height="1.15" fill="#bebef6"/>
<rect x="23" y="18" width="1.12" height="1.15" fill="#cbcbf8"/>
<rect x="23" y="19" width="1.12" height="1.15" fill="#acacf4"/>
<rect x="23" y="20" width="1.12" height="1.15" fill="#b7b7f5"/>
<rect x="23" y="21" width="1.12" height="1.15" fill="#b1b1f5"/>
<rect x="23" y="22" width="1.12" height="1.15" fill="#cacaf8"/>
<rect x="23" y="23" width="1.12" height="1.15" fill="#afaff4"/>
<rect x="23" y="24" width="1.12" height="1.15" fill="#cbcbf8"/>
<rect x="23" y="25" width="1.12" height="1.15" fill="#aeaef4"/>
<rect x="23" y="26" width="1.12" height="1.15" fill="#bdbdf6"/>
<rect x="23" y="27" width="1.12" height="1.15" fill="#c1c1f7"/>
<rect x="23" y="28" width="1.12" height="1.15" fill="#babaf6"/>
<rect x="23" y="29" width="1.12" height="1.15" fill="#acacf4"/>
<rect x="23" y="30" width="1.12" height="1.15" fill="#c4c4f7"/>
<rect x="23" y="31" width="1.12" height="1.15" fill="#c9c9f8"/>
<rect x="23" y="32" width="1.12" height="1.15" fill="#bbbbf6"/>
<rect x="23" y="33" width="1.12" height="1.15" fill="#c5c5f7"/>
<rect x="23" y="34" width="1.12" height="1.15" fill="#cacaf8"/>
<rect x="23" y="35" width="1.12" height="1.15" fill="#c8c8f8"/>
<rect x="23" y="36" width="1.12" height="1.15" fill="#ccccf8"/>
<rect x="23" y="37" width="1.12" height="1.15" fill="#c6c6f7"/>
<rect x="23" y="38" width="1.12" height="1.15" fill="#c2c2f7"/>
<rect x="23" y="39" width="1.12" height="1.15" fill="#c3c3f7"/>
<rect x="23" y="40" width="1.12" height="1.15" fill="#b2b2f5"/>
<rect x="23" y="41" width="1.12" height="1.15" fill="#c3c3f7"/>
<rect x="23" y="42" width="1.12" height="1.15" fill="#bbbbf6"/>
<rect x="23" y="43" width="1.12" height="1.15" fill="#c7c7f8"/>
<rect x="23" y="44" width="1.12" height="1.15" fill="#c1c1f7"/>
<rect x="23" y="45" width="1.12" height="1.15" fill="#cdcdf8"/>
<rect x="23" y="46" width="1.12" height="1.15" fill="#c4c4f7"/>
<rect x="23" y="47" width="1.12" height="1.15" fill="#cdcdf8"/>
<rect x="23" y="48" width="1.12" height="1.15" fill="#b3b3f5"/>
<rect x="23" y="49" width="1.12" height="1.15" fill="#babaf6"/>
<rect x="23" y="50" width="1.12" height="1.15" fill="#c7c7f7"/>
<rect x="23" y="51" width="1.12" height="1.15" fill="#bcbcf6"/>
<rect x="23" y="52" width="1.12" height="1.15" fill="#acacf4"/>
<rect x="23" y="53" width="1.12" height="1.15" fill="#cacaf8"/>
<rect x="23" y="54" width="1.12" height="1.15" fill="#b0b0f4"/>
<rect x="23" y="55" width="1.12" height="1.15" fill="#bebef6"/>
<rect x="23" y="56" width="1.12" height="1.15" fill="#bcbcf6"/>
<rect x="23" y="57" width="1.12" height="1.15" fill="#afaff4"/>
<rect x="23" y="58" width="1.12" height="1.15" fill="#bfbff7"/>
<rect x="23" y="59" width="1.12" height="1.15" fill="#bbbbf6"/>
<rect x="23" y="60" width="1.12" height="1.15" fill="#b5b5f5"/>
<rect x="23" y="61" width="1.12" height="1.15" fill="#aaaaf4"/>
<rect x="23" y="62" width="1.12" height="1.15" fill="#c1c1f7"/>
<rect x="23" y="63" width="1.12" height="1.15" fill="#b0b0f4"/>
<rect x="23" y="64" width="1.12" height="1.15" fill="#b4b4f5"/>
<rect x="23" y="65" width="1.12" height="1.15" fill="#b7b7f5"/>
<rect x="23" y="66" width="1.12" height="1.15" fill="#bfbff6"/>
<rect x="23" y="67" width="1.12" height="1.15" fill="#c1c1f7"/>
<rect x="23" y="68" width="1.12" height="1.15" fill="#ccccf8"/>
<rect x="23" y="69" width="1.12" height="1.15" fill="#c9c9f8"/>
<rect x="23" y="70" width="1.12" height="1.15" fill="#cbcbf8"/>
<rect x="24" y="2" width="1.12" height="1.15" fill="#feeded"/>
<rect x="24" y="3" width="1.12" height="1.15" fill="#f4f4fe"/>
<rect x="24" y="4" width="1.12" height="1.15" fill="#d5d5f9"/>
<rect x="24" y="5" width="1.12" height="1.15" fill="#e6e6fc"/>
<rect x="24" y="6" width="1.12" height="1.15" fill="#e9e9fc"/>
<rect x="24" y="7" width="1.12" height="1.15" fill="#ececfc"/>
<rect x="24" y="8" width="1.12" height="1.15" fill="#b4b4f5"/>
<rect x="24" y="9" width="1.12" height="1.15" fill="#b3b3f5"/>
<rect x="24" y="10" width="1.12" height="1.15" fill="#babaf6"/>
<rect x="24" y="11" width="1.12" height="1.15" fill="#c8c8f8"/>
<rect x="24" y="12" width="1.12" height="1.15" fill="#c9c9f8"/>
<rect x="24" y="13" width="1.12" height="1.15" fill="#c7c7f8"/>
<rect x="24" y="14" width="1.12" height="1.15" fill="#c1c1f7"/>
<rect x="24" y="15" width="1.12" height="1.15" fill="#ccccf8"/>
<rect x="24" y="16" width="1.12" height="1.15" fill="#c2c2f7"/>
<rect x="24" y="17" width="1.12" height="1.15" fill="#c9c9f8"/>
<rect x="24" y="18" width="1.12" height="2.15" fill="#afaff4"/>
<rect x="24" y="20" width="1.12" height="1.15" fill="#bebef6"/>
<rect x="24" y="21" width="1.12" height="1.15" fill="#c9c9f8"/>
<rect x="24" y="22" width="1.12" height="1.15" fill="#afaff4"/>
<rect x="24" y="23" width="1.12" height="1.15" fill="#c7c7f8"/>
<rect x="24" y="24" width="1.12" height="1.15" fill="#c5c5f7"/>
<rect x="24" y="25" width="1.12" height="1.15" fill="#d2d2f9"/>
<rect x="24" y="26" width="1.12" height="1.15" fill="#c4c4f7"/>
<rect x="24" y="27" width="1.12" height="1.15" fill="#c1c1f7"/>
<rect x="24" y="28" width="1.12" height="1.15" fill="#c0c0f7"/>
<rect x="24" y="29" width="1.12" height="1.15" fill="#cbcbf8"/>
<rect x="24" y="30" width="1.12" height="1.15" fill="#c0c0f7"/>
<rect x="24" y="31" width="1.12" height="1.15" fill="#d2d2f9"/>
<rect x="24" y="32" width="1.12" height="1.15" fill="#c8c8f8"/>
<rect x="24" y="33" width="1.12" height="1.15" fill="#cfcff9"/>
<rect x="24" y="34" width="1.12" height="1.15" fill="#c4c4f7"/>
<rect x="24" y="35" width="1.12" height="1.15" fill="#d0d0f9"/>
<rect x="24" y="36" width="1.12" height="1.15" fill="#d1d1f9"/>
<rect x="24" y="37" width="1.12" height="1.15" fill="#c7c7f8"/>
<rect x="24" y="38" width="1.12" height="1.15" fill="#cacaf8"/>
<rect x="24" y="39" width="1.12" height="1.15" fill="#bdbdf6"/>
<rect x="24" y="40" width="1.12" height="1.15" fill="#bfbff6"/>
<rect x="24" y="41" width="1.12" height="1.15" fill="#b7b7f5"/>
<rect x="24" y="42" width="1.12" height="1.15" fill="#babaf6"/>
<rect x="24" y="43" width="1.12" height="1.15" fill="#b8b8f6"/>
<rect x="24" y="44" width="1.12" height="1.15" fill="#b2b2f5"/>
<rect x="24" y="45" width="1.12" height="1.15" fill="#c4c4f7"/>
<rect x="24" y="46" width="1.12" height="1.15" fill="#c6c6f7"/>
<rect x="24" y="47" width="1.12" height="1.15" fill="#afaff4"/>
<rect x="24" y="48" width="1.12" height="1.15" fill="#cdcdf8"/>
<rect x="24" y="49" width="1.12" height="1.15" fill="#b8b8f6"/>
<rect x="24" y="50" width="1.12" height="1.15" fill="#bbbbf6"/>
<rect x="24" y="51" width="1.12" height="1.15" fill="#d0d0f9"/>
<rect x="24" y="53" width="1.12" height="1.15" fill="#f7f7fe"/>
<rect x="24" y="64" width="1.12" height="1.15" fill="#f7f7fe"/>
<rect x="25" y="21" width="1.12" height="1.15" fill="#f6f6fe"/>
<rect x="25" y="44" width="1.12" height="1.15" fill="#6868eb"/>
<rect x="25" y="45" width="1.12" height="1.15" fill="#7b7bed"/>
<rect x="25" y="46" width="1.12" height="1.15" fill="#5151e8"/>
<rect x="25" y="47" width="1.12" height="1.15" fill="#7676ed"/>
<rect x="25" y="48" width="1.12" height="1.15" fill="#4c4ce7"/>
<rect x="25" y="49" width="1.12" height="1.15" fill="#4e4ee7"/>
<rect x="25" y="50" width="1.12" height="1.15" fill="#8080ee"/>
<rect x="25" y="51" width="1.12" height="1.15" fill="#6868eb"/>
<rect x="25" y="52" width="1.12" height="1.15" fill="#5555e8"/>
<rect x="25" y="53" width="1.12" height="1.15" fill="#4d4de7"/>
<rect x="25" y="54" width="1.12" height="1.15" fill="#6969eb"/>
<rect x="25" y="55" width="1.12" height="1.15" fill="#7272ec"/>
<rect x="25" y="56" width="1.12" height="1.15" fill="#7676ed"/>
<rect x="25" y="57" width="1.12" height="1.15" fill="#4e4ee7"/>
<rect x="25" y="58" width="1.12" height="1.15" fill="#7676ed"/>
<rect x="25" y="59" width="1.12" height="1.15" fill="#6262ea"/>
<rect x="25" y="60" width="1.12" height="1.15" fill="#7979ed"/>
<rect x="25" y="61" width="1.12" height="1.15" fill="#6565ea"/>
<rect x="25" y="62" width="1.12" height="1.15" fill="#4e4ee7"/>
<rect x="25" y="63" width="1.12" height="1.15" fill="#7a7aed"/>
<rect x="25" y="64" width="1.12" height="1.15" fill="#5555e8"/>
<rect x="25" y="65" width="1.12" height="1.15" fill="#6666eb"/>
<rect x="25" y="66" width="1.12" height="1.15" fill="#5151e8"/>
<rect x="25" y="67" width="1.12" height="1.15" fill="#5b5be9"/>
<rect x="25" y="68" width="1.12" height="1.15" fill="#7575ed"/>
<rect x="25" y="69" width="1.12" height="1.15" fill="#5151e8"/>
<rect x="25" y="70" width="1.12" height="1.15" fill="#6767eb"/>
<rect x="26" y="0" width="1.12" height="1.15" fill="#feeded"/>
<rect x="26" y="2" width="1.12" height="1.15" fill="#fef1f0"/>
<rect x="26" y="3" width="1.12" height="1.15" fill="#fde1e0"/>
<rect x="26" y="4" width="1.12" height="1.15" fill="#f5f5fe"/>
<rect x="26" y="5" width="1.12" height="1.15" fill="#f6f6fe"/>
<rect x="26" y="6" width="1.12" height="1.15" fill="#e4e4fb"/>
<rect x="26" y="7" width="1.12" height="1.15" fill="#e6e6fc"/>
<rect x="26" y="8" width="1.12" height="1.15" fill="#ebebfc"/>
<rect x="26" y="9" width="1.12" height="1.15" fill="#f1f1fd"/>
<rect x="26" y="10" width="1.12" height="1.15" fill="#eaeafc"/>
<rect x="26" y="11" width="1.12" height="1.15" fill="#ebebfc"/>
<rect x="26" y="12" width="1.12" height="1.15" fill="#d8d8fa"/>
<rect x="26" y="13" width="1.12" height="1.15" fill="#f6f6fe"/>
<rect x="26" y="14" width="1.12" height="1.15" fill="#dbdbfa"/>
<rect x="26" y="15" width="1.12" height="1.15" fill="#d8d8fa"/>
<rect x="26" y="16" width="1.12" height="1.15" fill="#f2f2fd"/>
<rect x="26" y="17" width="1.12" height="1.15" fill="#d5d5f9"/>
<rect x="26" y="18" width="1.12" height="1.15" fill="#f1f1fd"/>
<rect x="26" y="19" width="1.12" height="1.15" fill="#eeeefd"/>
<rect x="26" y="20" width="1.12" height="1.15" fill="#f7f7fe"/>
<rect x="26" y="21" width="1.12" height="2.15" fill="#f5f5fe"/>
<rect x="26" y="23" width="1.12" height="1.15" fill="#ededfd"/>
<rect x="26" y="24" width="1.12" height="1.15" fill="#f3f3fd"/>
<rect x="26" y="25" width="1.12" height="1.15" fill="#f6f6fe"/>
<rect x="26" y="26" width="1.12" height="1.15" fill="#f5f5fe"/>
<rect x="26" y="27" width="1.12" height="1.15" fill="#8282ee"/>
<rect x="26" y="28" width="1.12" height="1.15" fill="#8c8cf0"/>
<rect x="26" y="29" width="1.12" height="1.15" fill="#8a8aef"/>
<rect x="26" y="30" width="1.12" height="1.15" fill="#6969eb"/>
<rect x="26" y="31" width="1.12" height="1.15" fill="#8282ee"/>
<rect x="26" y="32" width="1.12" height="1.15" fill="#6464ea"/>
<rect x="26" y="33" width="1.12" height="1.15" fill="#8383ef"/>
<rect x="26" y="34" width="1.12" height="1.15" fill="#8383ee"/>
<rect x="26" y="35" width="1.12" height="1.15" fill="#7878ed"/>
<rect x="26" y="36" width="1.12" height="1.15" fill="#8686ef"/>
<rect x="26" y="37" width="1.12" height="1.15" fill="#7e7eee"/>
<rect x="26" y="38" width="1.12" height="1.15" fill="#6363ea"/>
<rect x="26" y="39" width="1.12" height="1.15" fill="#6767eb"/>
<rect x="26" y="40" width="1.12" height="1.15" fill="#6a6aeb"/>
<rect x="26" y="41" width="1.12" height="1.15" fill="#7272ec"/>
<rect x="26" y="42" width="1.12" height="1.15" fill="#6565eb"/>
<rect x="26" y="43" width="1.12" height="1.15" fill="#6464ea"/>
<rect x="26" y="44" width="1.12" height="1.15" fill="#7676ed"/>
<rect x="26" y="45" width="1.12" height="1.15" fill="#6e6eec"/>
<rect x="26" y="46" width="1.12" height="1.15" fill="#8c8cf0"/>
<rect x="26" y="47" width="1.12" height="1.15" fill="#6e6eec"/>
<rect x="26" y="48" width="1.12" height="1.15" fill="#7a7aed"/>
<rect x="26" y="49" width="1.12" height="1.15" fill="#6d6deb"/>
<rect x="26" y="50" width="1.12" height="1.15" fill="#7171ec"/>
<rect x="26" y="51" width="1.12" height="1.15" fill="#8282ee"/>
<rect x="26" y="52" width="1.12" height="1.15" fill="#8c8cf0"/>
<rect x="26" y="53" width="1.12" height="1.15" fill="#6565ea"/>
<rect x="26" y="54" width="1.12" height="1.15" fill="#8989ef"/>
<rect x="26" y="55" width="1.12" height="1.15" fill="#7979ed"/>
<rect x="26" y="56" width="1.12" height="1.15" fill="#7f7fee"/>
<rect x="26" y="57" width="1.12" height="1.15" fill="#8181ee"/>
<rect x="26" y="58" width="1.12" height="1.15" fill="#6d6dec"/>
<rect x="26" y="59" width="1.12" height="1.15" fill="#6363ea"/>
<rect x="26" y="60" width="1.12" height="1.15" fill="#8383ee"/>
<rect x="26" y="61" width="1.12" height="1.15" fill="#7171ec"/>
<rect x="26" y="62" width="1.12" height="1.15" fill="#8181ee"/>
<rect x="26" y="63" width="1.12" height="1.15" fill="#7575ed"/>
<rect x="26" y="64" width="1.12" height="1.15" fill="#7d7dee"/>
<rect x="26" y="65" width="1.12" height="2.15" fill="#8787ef"/>
<rect x="26" y="67" width="1.12" height="1.15" fill="#8585ef"/>
<rect x="26" y="68" width="1.12" height="1.15" fill="#6666eb"/>
<rect x="26" y="69" width="1.12" height="1.15" fill="#7878ed"/>
<rect x="26" y="70" width="1.12" height="1.15" fill="#8585ef"/>
<rect x="27" y="0" width="1.12" height="1.15" fill="#fab8b7"/>
<rect x="27" y="1" width="1.12" height="1.15" fill="#f6f6fe"/>
<rect x="27" y="11" width="1.12" height="1.15" fill="#f7f7fe"/>
<rect x="27" y="20" width="1.12" height="1.15" fill="#f6f6fe"/>
<rect x="27" y="30" width="1.12" height="1.15" fill="#f6f6fe"/>
<rect x="27" y="36" width="1.12" height="1.15" fill="#f7f7fe"/>
<rect x="27" y="41" width="1.12" height="1.15" fill="#f7f7fe"/>
<rect x="27" y="44" width="1.12" height="1.15" fill="#5151e8"/>
<rect x="27" y="45" width="1.12" height="1.15" fill="#7878ed"/>
<rect x="27" y="46" width="1.12" height="1.15" fill="#8080ee"/>
<rect x="27" y="47" width="1.12" height="1.15" fill="#7d7dee"/>
<rect x="27" y="48" width="1.12" height="1.15" fill="#6969eb"/>
<rect x="27" y="49" width="1.12" height="1.15" fill="#6161ea"/>
<rect x="27" y="50" width="1.12" height="1.15" fill="#5353e8"/>
<rect x="27" y="51" width="1.12" height="1.15" fill="#5f5fea"/>
<rect x="27" y="52" width="1.12" height="1.15" fill="#6363ea"/>
<rect x="27" y="53" width="1.12" height="1.15" fill="#5c5ce9"/>
<rect x="27" y="54" width="1.12" height="1.15" fill="#6d6dec"/>
<rect x="27" y="55" width="1.12" height="1.15" fill="#6868eb"/>
<rect x="27" y="56" width="1.12" height="1.15" fill="#8383ef"/>
<rect x="27" y="57" width="1.12" height="1.15" fill="#5b5be9"/>
<rect x="27" y="58" width="1.12" height="1.15" fill="#7979ed"/>
<rect x="27" y="59" width="1.12" height="1.15" fill="#5454e8"/>
<rect x="27" y="60" width="1.12" height="1.15" fill="#6363ea"/>
<rect x="27" y="61" width="1.12" height="1.15" fill="#7575ed"/>
<rect x="27" y="62" width="1.12" height="1.15" fill="#7f7fee"/>
<rect x="27" y="63" width="1.12" height="1.15" fill="#7878ed"/>
<rect x="27" y="64" width="1.12" height="1.15" fill="#6363ea"/>
<rect x="27" y="65" width="1.12" height="1.15" fill="#6060ea"/>
<rect x="27" y="66" width="1.12" height="1.15" fill="#7f7fee"/>
<rect x="27" y="67" width="1.12" height="1.15" fill="#8282ee"/>
<rect x="27" y="68" width="1.12" height="1.15" fill="#6969eb"/>
<rect x="27" y="69" width="1.12" height="1.15" fill="#6666eb"/>
<rect x="27" y="70" width="1.12" height="1.15" fill="#7171ec"/>
<rect x="28" y="1" width="1.12" height="1.15" fill="#fde7e6"/>
<rect x="28" y="3" width="1.12" height="1.15" fill="#c3c3f7"/>
<rect x="28" y="4" width="1.12" height="1.15" fill="#b9b9f6"/>
<rect x="28" y="5" width="1.12" height="1.15" fill="#c9c9f8"/>
<rect x="28" y="6" width="1.12" height="1.15" fill="#c1c1f7"/>
<rect x="28" y="7" width="1.12" height="1.15" fill="#bdbdf6"/>
<rect x="28" y="8" width="1.12" height="1.15" fill="#afaff4"/>
<rect x="28" y="9" width="1.12" height="1.15" fill="#b8b8f5"/>
<rect x="28" y="10" width="1.12" height="1.15" fill="#b1b1f5"/>
<rect x="28" y="11" width="1.12" height="1.15" fill="#bcbcf6"/>
<rect x="28" y="12" width="1.12" height="1.15" fill="#c3c3f7"/>
<rect x="28" y="13" width="1.12" height="1.15" fill="#c2c2f7"/>
<rect x="28" y="14" width="1.12" height="1.15" fill="#afaff4"/>
<rect x="28" y="15" width="1.12" height="1.15" fill="#5f5fea"/>
<rect x="28" y="16" width="1.12" height="1.15" fill="#7575ed"/>
<rect x="28" y="17" width="1.12" height="1.15" fill="#8484ef"/>
<rect x="28" y="18" width="1.12" height="1.15" fill="#6b6beb"/>
<rect x="28" y="19" width="1.12" height="1.15" fill="#6161ea"/>
<rect x="28" y="20" width="1.12" height="1.15" fill="#3d3de5"/>
<rect x="28" y="21" width="1.12" height="1.15" fill="#3838e5"/>
<rect x="28" y="22" width="1.12" height="1.15" fill="#3737e4"/>
<rect x="28" y="23" width="1.12" height="1.15" fill="#5454e8"/>
<rect x="28" y="24" width="1.12" height="1.15" fill="#7979ed"/>
<rect x="28" y="25" width="1.12" height="1.15" fill="#8484ef"/>
<rect x="28" y="26" width="1.12" height="1.15" fill="#7373ec"/>
<rect x="28" y="27" width="1.12" height="1.15" fill="#6f6fec"/>
<rect x="28" y="28" width="1.12" height="1.15" fill="#6161ea"/>
<rect x="28" y="29" width="1.12" height="1.15" fill="#7b7bed"/>
<rect x="28" y="30" width="1.12" height="1.15" fill="#5a5ae9"/>
<rect x="28" y="31" width="1.12" height="1.15" fill="#5e5ee9"/>
<rect x="28" y="32" width="1.12" height="1.15" fill="#6a6aeb"/>
<rect x="28" y="33" width="1.12" height="1.15" fill="#7a7aed"/>
<rect x="28" y="34" width="1.12" height="1.15" fill="#5151e8"/>
<rect x="28" y="35" width="1.12" height="1.15" fill="#7575ed"/>
<rect x="28" y="36" width="1.12" height="1.15" fill="#5959e9"/>
<rect x="28" y="37" width="1.12" height="1.15" fill="#7979ed"/>
<rect x="28" y="38" width="1.12" height="1.15" fill="#7a7aed"/>
<rect x="28" y="39" width="1.12" height="1.15" fill="#5c5ce9"/>
<rect x="28" y="40" width="1.12" height="1.15" fill="#7676ed"/>
<rect x="28" y="41" width="1.12" height="1.15" fill="#5252e8"/>
<rect x="28" y="42" width="1.12" height="1.15" fill="#6b6beb"/>
<rect x="28" y="43" width="1.12" height="1.15" fill="#7b7bed"/>
<rect x="28" y="44" width="1.12" height="1.15" fill="#7979ed"/>
<rect x="28" y="45" width="1.12" height="1.15" fill="#6f6fec"/>
<rect x="28" y="46" width="1.12" height="1.15" fill="#6262ea"/>
<rect x="28" y="47" width="1.12" height="1.15" fill="#5252e8"/>
<rect x="28" y="48" width="1.12" height="1.15" fill="#7e7eee"/>
<rect x="28" y="49" width="1.12" height="1.15" fill="#7070ec"/>
<rect x="28" y="50" width="1.12" height="1.15" fill="#7a7aed"/>
<rect x="28" y="51" width="1.12" height="1.15" fill="#5151e8"/>
<rect x="28" y="52" width="1.12" height="1.15" fill="#7e7eee"/>
<rect x="28" y="53" width="1.12" height="1.15" fill="#8383ee"/>
<rect x="28" y="54" width="1.12" height="1.15" fill="#8282ee"/>
<rect x="28" y="55" width="1.12" height="1.15" fill="#7070ec"/>
<rect x="28" y="56" width="1.12" height="1.15" fill="#5555e8"/>
<rect x="28" y="57" width="1.12" height="1.15" fill="#5656e8"/>
<rect x="28" y="58" width="1.12" height="1.15" fill="#5e5eea"/>
<rect x="28" y="59" width="1.12" height="1.15" fill="#5050e8"/>
<rect x="28" y="60" width="1.12" height="1.15" fill="#5353e8"/>
<rect x="28" y="61" width="1.12" height="1.15" fill="#7474ec"/>
<rect x="28" y="62" width="1.12" height="1.15" fill="#7b7bed"/>
<rect x="28" y="63" width="1.12" height="1.15" fill="#5353e8"/>
<rect x="28" y="64" width="1.12" height="1.15" fill="#5d5de9"/>
<rect x="28" y="65" width="1.12" height="1.15" fill="#8484ef"/>
<rect x="28" y="66" width="1.12" height="1.15" fill="#6262ea"/>
<rect x="28" y="67" width="1.12" height="2.15" fill="#7171ec"/>
<rect x="28" y="69" width="1.12" height="1.15" fill="#7474ec"/>
<rect x="28" y="70" width="1.12" height="1.15" fill="#7c7cee"/>
</g>
<g transform="translate(144.50,75.80) scale(3.5670,4.0571)">
<rect x="0" y="3" width="1.12" height="1.15" fill="#fef1f1"/>
<rect x="0" y="5" width="1.12" height="1.15" fill="#feefef"/>
<rect x="0" y="7" width="1.12" height="1.15" fill="#feefee"/>
<rect x="0" y="11" width="1.12" height="1.15" fill="#fef3f3"/>
<rect x="0" y="12" width="1.12" height="1.15" fill="#f2f2fd"/>
<rect x="0" y="13" width="1.12" height="1.15" fill="#feeeee"/>
<rect x="0" y="18" width="1.12" height="1.15" fill="#fef4f3"/>
<rect x="0" y="19" width="1.12" height="1.15" fill="#fef5f5"/>
<rect x="0" y="20" width="1.12" height="1.15" fill="#fef4f4"/>
<rect x="0" y="22" width="1.12" height="1.15" fill="#fef7f7"/>
<rect x="0" y="25" width="1.12" height="1.15" fill="#f4f4fe"/>
<rect x="0" y="26" width="1.12" height="1.15" fill="#feebeb"/>
<rect x="0" y="27" width="1.12" height="1.15" fill="#feefef"/>
<rect x="0" y="28" width="1.12" height="1.15" fill="#f5f5fe"/>
<rect x="0" y="30" width="1.12" height="1.15" fill="#feeeee"/>
<rect x="0" y="31" width="1.12" height="1.15" fill="#fef5f4"/>
<rect x="0" y="32" width="1.12" height="1.15" fill="#fef1f1"/>
<rect x="0" y="35" width="1.12" height="1.15" fill="#ededfd"/>
<rect x="0" y="36" width="1.12" height="1.15" fill="#fef2f2"/>
<rect x="0" y="38" width="1.12" height="1.15" fill="#fef6f5"/>
<rect x="0" y="39" width="1.12" height="1.15" fill="#feeeed"/>
<rect x="0" y="40" width="1.12" height="1.15" fill="#fef4f4"/>
<rect x="0" y="41" width="1.12" height="1.15" fill="#ededfd"/>
<rect x="0" y="43" width="1.12" height="1.15" fill="#fef1f1"/>
<rect x="0" y="46" width="1.12" height="1.15" fill="#feebeb"/>
<rect x="0" y="50" width="1.12" height="1.15" fill="#f6f6fe"/>
<rect x="0" y="51" width="1.12" height="1.15" fill="#fef4f4"/>
<rect x="0" y="55" width="1.12" height="1.15" fill="#fef1f1"/>
<rect x="0" y="56" width="1.12" height="2.15" fill="#feefee"/>
<rect x="0" y="58" width="1.12" height="1.15" fill="#fde9e8"/>
<rect x="0" y="61" width="1.12" height="1.15" fill="#eaeafc"/>
<rect x="0" y="62" width="1.12" height="1.15" fill="#f0f0fd"/>
<rect x="0" y="66" width="1.12" height="1.15" fill="#f1f1fd"/>
<rect x="0" y="70" width="1.12" height="1.15" fill="#fef2f2"/>
<rect x="0" y="71" width="1.12" height="1.15" fill="#e7e7fc"/>
<rect x="0" y="72" width="1.12" height="1.15" fill="#eeeefd"/>
<rect x="0" y="73" width="1.12" height="1.15" fill="#e1e1fb"/>
<rect x="0" y="75" width="1.12" height="1.15" fill="#fef1f1"/>
<rect x="1" y="1" width="1.12" height="1.15" fill="#fef2f1"/>
<rect x="1" y="2" width="1.12" height="1.15" fill="#f4f4fe"/>
<rect x="1" y="4" width="1.12" height="1.15" fill="#ededfd"/>
<rect x="1" y="7" width="1.12" height="1.15" fill="#fef0f0"/>
<rect x="1" y="9" width="1.12" height="1.15" fill="#fef4f3"/>
<rect x="1" y="12" width="1.12" height="1.15" fill="#f7f7fe"/>
<rect x="1" y="13" width="1.12" height="1.15" fill="#fef6f6"/>
<rect x="1" y="14" width="1.12" height="1.15" fill="#f1f1fd"/>
<rect x="1" y="15" width="1.12" height="1.15" fill="#ededfd"/>
<rect x="1" y="16" width="1.12" height="1.15" fill="#feedec"/>
<rect x="1" y="20" width="1.12" height="2.15" fill="#efeffd"/>
<rect x="1" y="22" width="1.12" height="1.15" fill="#fef7f7"/>
<rect x="1" y="23" width="1.12" height="1.15" fill="#f5f5fe"/>
<rect x="1" y="25" width="1.12" height="1.15" fill="#f2f2fd"/>
<rect x="1" y="26" width="1.12" height="1.15" fill="#f3f3fd"/>
<rect x="1" y="27" width="1.12" height="1.15" fill="#f2f2fd"/>
<rect x="1" y="28" width="1.12" height="1.15" fill="#feeded"/>
<rect x="1" y="29" width="1.12" height="1.15" fill="#feeeed"/>
<rect x="1" y="30" width="1.12" height="1.15" fill="#fef2f2"/>
<rect x="1" y="31" width="1.12" height="1.15" fill="#f1f1fd"/>
<rect x="1" y="34" width="1.12" height="1.15" fill="#fef3f3"/>
<rect x="1" y="35" width="1.12" height="2.15" fill="#f1f1fd"/>
<rect x="1" y="37" width="1.12" height="1.15" fill="#f6f6fe"/>
<rect x="1" y="38" width="1.12" height="1.15" fill="#ededfd"/>
<rect x="1" y="40" width="1.12" height="1.15" fill="#fef8f7"/>
<rect x="1" y="42" width="1.12" height="1.15" fill="#eeeefd"/>
<rect x="1" y="44" width="1.12" height="1.15" fill="#fef4f3"/>
<rect x="1" y="46" width="1.12" height="1.15" fill="#f5f5fe"/>
<rect x="1" y="47" width="1.12" height="1.15" fill="#eeeefd"/>
<rect x="1" y="49" width="1.12" height="1.15" fill="#f5f5fe"/>
<rect x="1" y="51" width="1.12" height="1.15" fill="#ebebfc"/>
<rect x="1" y="52" width="1.12" height="1.15" fill="#eeeefd"/>
<rect x="1" y="53" width="1.12" height="1.15" fill="#f5f5fe"/>
<rect x="1" y="55" width="1.12" height="1.15" fill="#eaeafc"/>
<rect x="1" y="56" width="1.12" height="1.15" fill="#eeeefd"/>
<rect x="1" y="57" width="1.12" height="1.15" fill="#f7f7fe"/>
<rect x="1" y="58" width="1.12" height="1.15" fill="#fdebea"/>
<rect x="1" y="59" width="1.12" height="1.15" fill="#f7f7fe"/>
<rect x="1" y="64" width="1.12" height="1.15" fill="#f5f5fe"/>
<rect x="1" y="67" width="1.12" height="1.15" fill="#e6e6fc"/>
<rect x="1" y="68" width="1.12" height="1.15" fill="#e4e4fb"/>
<rect x="1" y="70" width="1.12" height="1.15" fill="#f4f4fe"/>
<rect x="1" y="71" width="1.12" height="1.15" fill="#f6f6fe"/>
<rect x="1" y="72" width="1.12" height="1.15" fill="#e3e3fb"/>
<rect x="1" y="73" width="1.12" height="1.15" fill="#fef4f4"/>
<rect x="1" y="74" width="1.12" height="1.15" fill="#f4f4fd"/>
<rect x="1" y="75" width="1.12" height="1.15" fill="#e1e1fb"/>
<rect x="2" y="0" width="1.12" height="1.15" fill="#e9e9fc"/>
<rect x="2" y="2" width="1.12" height="1.15" fill="#f5f5fe"/>
<rect x="2" y="3" width="1.12" height="1.15" fill="#f6f6fe"/>
<rect x="2" y="4" width="1.12" height="1.15" fill="#f3f3fd"/>
<rect x="2" y="5" width="1.12" height="1.15" fill="#f0f0fd"/>
<rect x="2" y="8" width="1.12" height="1.15" fill="#ececfc"/>
<rect x="2" y="10" width="1.12" height="1.15" fill="#f3f3fd"/>
<rect x="2" y="11" width="1.12" height="1.15" fill="#feeceb"/>
<rect x="2" y="15" width="1.12" height="1.15" fill="#eeeefd"/>
<rect x="2" y="16" width="1.12" height="1.15" fill="#feeceb"/>
<rect x="2" y="18" width="1.12" height="1.15" fill="#f5f5fe"/>
<rect x="2" y="19" width="1.12" height="1.15" fill="#ebebfc"/>
<rect x="2" y="20" width="1.12" height="1.15" fill="#fef1f1"/>
<rect x="2" y="21" width="1.12" height="1.15" fill="#efeffd"/>
<rect x="2" y="23" width="1.12" height="1.15" fill="#fef2f2"/>
<rect x="2" y="24" width="1.12" height="1.15" fill="#f7f7fe"/>
<rect x="2" y="26" width="1.12" height="1.15" fill="#eeeefd"/>
<rect x="2" y="28" width="1.12" height="1.15" fill="#ececfd"/>
<rect x="2" y="29" width="1.12" height="1.15" fill="#e9e9fc"/>
<rect x="2" y="31" width="1.12" height="1.15" fill="#feeded"/>
<rect x="2" y="33" width="1.12" height="1.15" fill="#f0f0fd"/>
<rect x="2" y="35" width="1.12" height="1.15" fill="#f1f1fd"/>
<rect x="2" y="37" width="1.12" height="1.15" fill="#f5f5fe"/>
<rect x="2" y="38" width="1.12" height="1.15" fill="#ececfc"/>
<rect x="2" y="39" width="1.12" height="1.15" fill="#e8e8fc"/>
<rect x="2" y="41" width="1.12" height="1.15" fill="#f2f2fd"/>
<rect x="2" y="42" width="1.12" height="1.15" fill="#f6f6fe"/>
<rect x="2" y="43" width="1.12" height="1.15" fill="#ebebfc"/>
<rect x="2" y="45" width="1.12" height="1.15" fill="#feebeb"/>
<rect x="2" y="46" width="1.12" height="1.15" fill="#f5f5fe"/>
<rect x="2" y="47" width="1.12" height="1.15" fill="#f2f2fd"/>
<rect x="2" y="48" width="1.12" height="1.15" fill="#feefee"/>
<rect x="2" y="49" width="1.12" height="1.15" fill="#f2f2fd"/>
<rect x="2" y="50" width="1.12" height="1.15" fill="#eeeefd"/>
<rect x="2" y="52" width="1.12" height="1.15" fill="#fef2f2"/>
<rect x="2" y="53" width="1.12" height="1.15" fill="#ececfc"/>
<rect x="2" y="56" width="1.12" height="1.15" fill="#fef2f1"/>
<rect x="2" y="57" width="1.12" height="1.15" fill="#ebebfc"/>
<rect x="2" y="58" width="1.12" height="1.15" fill="#fef2f2"/>
<rect x="2" y="59" width="1.12" height="1.15" fill="#f1f1fd"/>
<rect x="2" y="62" width="1.12" height="1.15" fill="#e2e2fb"/>
<rect x="2" y="63" width="1.12" height="1.15" fill="#e3e3fb"/>
<rect x="2" y="68" width="1.12" height="1.15" fill="#fef3f2"/>
<rect x="2" y="69" width="1.12" height="1.15" fill="#e3e3fb"/>
<rect x="2" y="70" width="1.12" height="1.15" fill="#f3f3fd"/>
<rect x="2" y="75" width="1.12" height="1.15" fill="#fef6f5"/>
<rect x="3" y="0" width="1.12" height="1.15" fill="#feefef"/>
<rect x="3" y="2" width="1.12" height="1.15" fill="#fef3f3"/>
<rect x="3" y="6" width="1.12" height="1.15" fill="#feeceb"/>
<rect x="3" y="8" width="1.12" height="1.15" fill="#fef3f2"/>
<rect x="3" y="10" width="1.12" height="1.15" fill="#fef7f6"/>
<rect x="3" y="11" width="1.12" height="1.15" fill="#fef6f6"/>
<rect x="3" y="15" width="1.12" height="1.15" fill="#feeded"/>
<rect x="3" y="16" width="1.12" height="1.15" fill="#fef7f7"/>
<rect x="3" y="18" width="1.12" height="1.15" fill="#fef0f0"/>
<rect x="3" y="19" width="1.12" height="1.15" fill="#fef6f6"/>
<rect x="3" y="21" width="1.12" height="1.15" fill="#fef8f7"/>
<rect x="3" y="23" width="1.12" height="1.15" fill="#fef4f3"/>
<rect x="3" y="25" width="1.12" height="1.15" fill="#feeeee"/>
<rect x="3" y="27" width="1.12" height="1.15" fill="#fef3f3"/>
<rect x="3" y="28" width="1.12" height="1.15" fill="#fef3f2"/>
<rect x="3" y="30" width="1.12" height="1.15" fill="#feefee"/>
<rect x="3" y="31" width="1.12" height="1.15" fill="#feecec"/>
<rect x="3" y="33" width="1.12" height="1.15" fill="#fef1f0"/>
<rect x="3" y="35" width="1.12" height="1.15" fill="#fef1f0"/>
<rect x="3" y="37" width="1.12" height="1.15" fill="#fef8f7"/>
<rect x="3" y="39" width="1.12" height="1.15" fill="#fef8f8"/>
<rect x="3" y="45" width="1.12" height="1.15" fill="#feeded"/>
<rect x="3" y="46" width="1.12" height="1.15" fill="#feeeee"/>
<rect x="3" y="47" width="1.12" height="1.15" fill="#feeded"/>
<rect x="3" y="49" width="1.12" height="1.15" fill="#fef6f6"/>
<rect x="3" y="51" width="1.12" height="1.15" fill="#feebeb"/>
<rect x="3" y="52" width="1.12" height="1.15" fill="#fef2f1"/>
<rect x="3" y="54" width="1.12" height="1.15" fill="#fef5f5"/>
<rect x="3" y="55" width="1.12" height="1.15" fill="#fef1f0"/>
<rect x="3" y="56" width="1.12" height="1.15" fill="#fef7f6"/>
<rect x="3" y="58" width="1.12" height="1.15" fill="#fef7f7"/>
<rect x="3" y="59" width="1.12" height="1.15" fill="#fef4f3"/>
<rect x="3" y="60" width="1.12" height="1.15" fill="#e6e6fc"/>
<rect x="3" y="61" width="1.12" height="1.15" fill="#fef3f3"/>
<rect x="3" y="64" width="1.12" height="1.15" fill="#e9e9fc"/>
<rect x="3" y="66" width="1.12" height="1.15" fill="#efeffd"/>
<rect x="3" y="67" width="1.12" height="1.15" fill="#feeeed"/>
<rect x="3" y="69" width="1.12" height="1.15" fill="#efeffd"/>
<rect x="3" y="70" width="1.12" height="1.15" fill="#e6e6fc"/>
<rect x="3" y="71" width="1.12" height="1.15" fill="#f0f0fd"/>
<rect x="3" y="74" width="1.12" height="1.15" fill="#f2f2fd"/>
<rect x="4" y="0" width="1.12" height="1.15" fill="#fdeaea"/>
<rect x="4" y="2" width="1.12" height="1.15" fill="#fef0ef"/>
<rect x="4" y="7" width="1.12" height="1.15" fill="#fdebea"/>
<rect x="4" y="8" width="1.12" height="1.15" fill="#feeeed"/>
<rect x="4" y="9" width="1.12" height="1.15" fill="#fef3f3"/>
<rect x="4" y="11" width="1.12" height="1.15" fill="#f6f6fe"/>
<rect x="4" y="12" width="1.12" height="1.15" fill="#fef3f3"/>
<rect x="4" y="13" width="1.12" height="1.15" fill="#fef6f6"/>
<rect x="4" y="14" width="1.12" height="1.15" fill="#fef2f2"/>
<rect x="4" y="15" width="1.12" height="1.15" fill="#fef5f5"/>
<rect x="4" y="17" width="1.12" height="1.15" fill="#ebebfc"/>
<rect x="4" y="18" width="1.12" height="1.15" fill="#e9e9fc"/>
<rect x="4" y="19" width="1.12" height="1.15" fill="#feecec"/>
<rect x="4" y="20" width="1.12" height="1.15" fill="#fef6f5"/>
<rect x="4" y="22" width="1.12" height="1.15" fill="#e9e9fc"/>
<rect x="4" y="23" width="1.12" height="1.15" fill="#fef1f0"/>
<rect x="4" y="24" width="1.12" height="1.15" fill="#eeeefd"/>
<rect x="4" y="25" width="1.12" height="1.15" fill="#feeeee"/>
<rect x="4" y="27" width="1.12" height="1.15" fill="#feeeee"/>
<rect x="4" y="30" width="1.12" height="1.15" fill="#feecec"/>
<rect x="4" y="31" width="1.12" height="1.15" fill="#fef7f7"/>
<rect x="4" y="33" width="1.12" height="1.15" fill="#fef6f6"/>
<rect x="4" y="34" width="1.12" height="1.15" fill="#fef0ef"/>
<rect x="4" y="35" width="1.12" height="1.15" fill="#fef4f4"/>
<rect x="4" y="36" width="1.12" height="1.15" fill="#fef5f5"/>
<rect x="4" y="37" width="1.12" height="1.15" fill="#feeeed"/>
<rect x="4" y="38" width="1.12" height="1.15" fill="#eaeafc"/>
<rect x="4" y="40" width="1.12" height="1.15" fill="#f6f6fe"/>
<rect x="4" y="41" width="1.12" height="1.15" fill="#feedec"/>
<rect x="4" y="42" width="1.12" height="1.15" fill="#fef7f7"/>
<rect x="4" y="43" width="1.12" height="1.15" fill="#fef6f6"/>
<rect x="4" y="44" width="1.12" height="1.15" fill="#fef1f1"/>
<rect x="4" y="47" width="1.12" height="1.15" fill="#fef1f1"/>
<rect x="4" y="48" width="1.12" height="1.15" fill="#fef0f0"/>
<rect x="4" y="49" width="1.12" height="1.15" fill="#fef0ef"/>
<rect x="4" y="50" width="1.12" height="1.15" fill="#fef5f4"/>
<rect x="4" y="55" width="1.12" height="1.15" fill="#fef2f2"/>
<rect x="4" y="56" width="1.12" height="1.15" fill="#feeeee"/>
<rect x="4" y="58" width="1.12" height="1.15" fill="#fef4f3"/>
<rect x="4" y="59" width="1.12" height="1.15" fill="#f0f0fd"/>
<rect x="4" y="60" width="1.12" height="1.15" fill="#feefee"/>
<rect x="4" y="61" width="1.12" height="1.15" fill="#e0e0fb"/>
<rect x="4" y="64" width="1.12" height="2.15" fill="#fef2f2"/>
<rect x="4" y="69" width="1.12" height="1.15" fill="#e0e0fb"/>
<rect x="4" y="71" width="1.12" height="1.15" fill="#fef7f6"/>
<rect x="4" y="72" width="1.12" height="1.15" fill="#feeeed"/>
<rect x="4" y="75" width="1.12" height="1.15" fill="#f0f0fd"/>
<rect x="4" y="76" width="1.12" height="1.15" fill="#e2e2fb"/>
<rect x="5" y="0" width="1.12" height="1.15" fill="#fef2f2"/>
<rect x="5" y="1" width="1.12" height="1.15" fill="#fef7f7"/>
<rect x="5" y="3" width="1.12" height="1.15" fill="#fef4f4"/>
<rect x="5" y="6" width="1.12" height="1.15" fill="#fef2f2"/>
<rect x="5" y="9" width="1.12" height="1.15" fill="#feefee"/>
<rect x="5" y="11" width="1.12" height="1.15" fill="#fef8f8"/>
<rect x="5" y="12" width="1.12" height="1.15" fill="#fef2f2"/>
<rect x="5" y="16" width="1.12" height="1.15" fill="#feefef"/>
<rect x="5" y="17" width="1.12" height="1.15" fill="#fef8f7"/>
<rect x="5" y="19" width="1.12" height="1.15" fill="#feeceb"/>
<rect x="5" y="22" width="1.12" height="1.15" fill="#feefef"/>
<rect x="5" y="23" width="1.12" height="1.15" fill="#fef5f5"/>
<rect x="5" y="26" width="1.12" height="1.15" fill="#f2f2fd"/>
<rect x="5" y="29" width="1.12" height="1.15" fill="#fef8f8"/>
<rect x="5" y="30" width="1.12" height="1.15" fill="#fef5f5"/>
<rect x="5" y="32" width="1.12" height="1.15" fill="#feeceb"/>
<rect x="5" y="37" width="1.12" height="1.15" fill="#feeded"/>
<rect x="5" y="39" width="1.12" height="1.15" fill="#fef3f3"/>
<rect x="5" y="40" width="1.12" height="1.15" fill="#ebebfc"/>
<rect x="5" y="41" width="1.12" height="1.15" fill="#fef0f0"/>
<rect x="5" y="43" width="1.12" height="1.15" fill="#feeeee"/>
<rect x="5" y="45" width="1.12" height="1.15" fill="#feeded"/>
<rect x="5" y="46" width="1.12" height="1.15" fill="#feeeee"/>
<rect x="5" y="48" width="1.12" height="1.15" fill="#ededfd"/>
<rect x="5" y="49" width="1.12" height="1.15" fill="#fef5f4"/>
<rect x="5" y="52" width="1.12" height="1.15" fill="#feedec"/>
<rect x="5" y="58" width="1.12" height="1.15" fill="#fde7e6"/>
<rect x="5" y="59" width="1.12" height="1.15" fill="#feeeed"/>
<rect x="5" y="66" width="1.12" height="1.15" fill="#ededfd"/>
<rect x="5" y="69" width="1.12" height="1.15" fill="#fef0ef"/>
<rect x="5" y="71" width="1.12" height="1.15" fill="#f0f0fd"/>
<rect x="5" y="72" width="1.12" height="1.15" fill="#e9e9fc"/>
<rect x="5" y="74" width="1.12" height="1.15" fill="#ebebfc"/>
<rect x="5" y="76" width="1.12" height="1.15" fill="#f1f1fd"/>
<rect x="6" y="0" width="1.12" height="1.15" fill="#feeceb"/>
<rect x="6" y="1" width="1.12" height="1.15" fill="#fef4f3"/>
<rect x="6" y="2" width="1.12" height="2.15" fill="#f3f3fd"/>
<rect x="6" y="5" width="1.12" height="1.15" fill="#fef6f6"/>
<rect x="6" y="8" width="1.12" height="1.15" fill="#fef4f4"/>
<rect x="6" y="9" width="1.12" height="1.15" fill="#fef5f5"/>
<rect x="6" y="10" width="1.12" height="1.15" fill="#fef5f4"/>
<rect x="6" y="12" width="1.12" height="1.15" fill="#fef0f0"/>
<rect x="6" y="15" width="1.12" height="1.15" fill="#fef0ef"/>
<rect x="6" y="16" width="1.12" height="1.15" fill="#feefef"/>
<rect x="6" y="18" width="1.12" height="1.15" fill="#feefef"/>
<rect x="6" y="19" width="1.12" height="1.15" fill="#fef0f0"/>
<rect x="6" y="20" width="1.12" height="1.15" fill="#fef1f1"/>
<rect x="6" y="21" width="1.12" height="1.15" fill="#fef7f6"/>
<rect x="6" y="23" width="1.12" height="1.15" fill="#fef2f2"/>
<rect x="6" y="27" width="1.12" height="1.15" fill="#fef3f3"/>
<rect x="6" y="31" width="1.12" height="1.15" fill="#f0f0fd"/>
<rect x="6" y="33" width="1.12" height="1.15" fill="#fef2f1"/>
<rect x="6" y="34" width="1.12" height="1.15" fill="#feecec"/>
<rect x="6" y="35" width="1.12" height="1.15" fill="#fef2f1"/>
<rect x="6" y="36" width="1.12" height="1.15" fill="#fef7f7"/>
<rect x="6" y="37" width="1.12" height="1.15" fill="#fef1f1"/>
<rect x="6" y="38" width="1.12" height="1.15" fill="#f3f3fd"/>
<rect x="6" y="43" width="1.12" height="1.15" fill="#feeeed"/>
<rect x="6" y="45" width="1.12" height="1.15" fill="#fef2f2"/>
<rect x="6" y="46" width="1.12" height="1.15" fill="#fef1f1"/>
<rect x="6" y="49" width="1.12" height="1.15" fill="#ececfc"/>
<rect x="6" y="50" width="1.12" height="1.15" fill="#feeceb"/>
<rect x="6" y="51" width="1.12" height="1.15" fill="#fef3f3"/>
<rect x="6" y="52" width="1.12" height="1.15" fill="#fef5f5"/>
<rect x="6" y="53" width="1.12" height="1.15" fill="#fef1f1"/>
<rect x="6" y="54" width="1.12" height="1.15" fill="#fef4f3"/>
<rect x="6" y="58" width="1.12" height="1.15" fill="#fef4f4"/>
<rect x="6" y="62" width="1.12" height="1.15" fill="#e8e8fc"/>
<rect x="6" y="65" width="1.12" height="1.15" fill="#e3e3fb"/>
<rect x="6" y="70" width="1.12" height="1.15" fill="#e6e6fc"/>
<rect x="6" y="71" width="1.12" height="1.15" fill="#efeffd"/>
<rect x="6" y="76" width="1.12" height="1.15" fill="#eaeafc"/>
<rect x="7" y="0" width="1.12" height="1.15" fill="#feebeb"/>
<rect x="7" y="1" width="1.12" height="1.15" fill="#ececfc"/>
<rect x="7" y="3" width="1.12" height="1.15" fill="#fef2f2"/>
<rect x="7" y="4" width="1.12" height="1.15" fill="#f7f7fe"/>
<rect x="7" y="9" width="1.12" height="1.15" fill="#fef0ef"/>
<rect x="7" y="12" width="1.12" height="1.15" fill="#f3f3fd"/>
<rect x="7" y="13" width="1.12" height="1.15" fill="#e9e9fc"/>
<rect x="7" y="16" width="1.12" height="1.15" fill="#ededfd"/>
<rect x="7" y="19" width="1.12" height="1.15" fill="#fef4f4"/>
<rect x="7" y="22" width="1.12" height="1.15" fill="#f6f6fe"/>
<rect x="7" y="23" width="1.12" height="1.15" fill="#fef0ef"/>
<rect x="7" y="24" width="1.12" height="1.15" fill="#f6f6fe"/>
<rect x="7" y="27" width="1.12" height="1.15" fill="#efeffd"/>
<rect x="7" y="28" width="1.12" height="1.15" fill="#f2f2fd"/>
<rect x="7" y="29" width="1.12" height="1.15" fill="#efeffd"/>
<rect x="7" y="30" width="1.12" height="1.15" fill="#fef4f3"/>
<rect x="7" y="31" width="1.12" height="1.15" fill="#efeffd"/>
<rect x="7" y="32" width="1.12" height="1.15" fill="#ededfd"/>
<rect x="7" y="33" width="1.12" height="1.15" fill="#f3f3fd"/>
<rect x="7" y="34" width="1.12" height="1.15" fill="#f2f2fd"/>
<rect x="7" y="35" width="1.12" height="1.15" fill="#fef6f6"/>
<rect x="7" y="36" width="1.12" height="1.15" fill="#f0f0fd"/>
<rect x="7" y="39" width="1.12" height="1.15" fill="#feeded"/>
<rect x="7" y="41" width="1.12" height="1.15" fill="#f5f5fe"/>
<rect x="7" y="42" width="1.12" height="1.15" fill="#ededfd"/>
<rect x="7" y="44" width="1.12" height="1.15" fill="#f4f4fd"/>
<rect x="7" y="45" width="1.12" height="1.15" fill="#fef3f3"/>
<rect x="7" y="50" width="1.12" height="1.15" fill="#f5f5fe"/>
<rect x="7" y="52" width="1.12" height="1.15" fill="#f4f4fe"/>
<rect x="7" y="54" width="1.12" height="1.15" fill="#efeffd"/>
<rect x="7" y="57" width="1.12" height="1.15" fill="#ececfc"/>
<rect x="7" y="58" width="1.12" height="1.15" fill="#feebeb"/>
<rect x="7" y="60" width="1.12" height="1.15" fill="#fef6f5"/>
<rect x="7" y="61" width="1.12" height="1.15" fill="#e6e6fc"/>
<rect x="7" y="62" width="1.12" height="1.15" fill="#e0e0fb"/>
<rect x="7" y="63" width="1.12" height="1.15" fill="#f0f0fd"/>
<rect x="7" y="65" width="1.12" height="1.15" fill="#eaeafc"/>
<rect x="7" y="66" width="1.12" height="1.15" fill="#e4e4fb"/>
<rect x="7" y="67" width="1.12" height="1.15" fill="#eeeefd"/>
<rect x="7" y="71" width="1.12" height="1.15" fill="#fef5f4"/>
<rect x="7" y="72" width="1.12" height="1.15" fill="#ededfd"/>
<rect x="7" y="74" width="1.12" height="1.15" fill="#fef7f7"/>
<rect x="7" y="75" width="1.12" height="1.15" fill="#f1f1fd"/>
<rect x="8" y="2" width="1.12" height="1.15" fill="#fef7f6"/>
<rect x="8" y="3" width="1.12" height="1.15" fill="#f4f4fe"/>
<rect x="8" y="5" width="1.12" height="1.15" fill="#f4f4fe"/>
<rect x="8" y="6" width="1.12" height="1.15" fill="#f2f2fd"/>
<rect x="8" y="8" width="1.12" height="1.15" fill="#feecec"/>
<rect x="8" y="9" width="1.12" height="1.15" fill="#e6e6fc"/>
<rect x="8" y="11" width="1.12" height="1.15" fill="#fef4f4"/>
<rect x="8" y="13" width="1.12" height="1.15" fill="#f4f4fe"/>
<rect x="8" y="14" width="1.12" height="1.15" fill="#f6f6fe"/>
<rect x="8" y="15" width="1.12" height="1.15" fill="#e9e9fc"/>
<rect x="8" y="16" width="1.12" height="1.15" fill="#ebebfc"/>
<rect x="8" y="18" width="1.12" height="1.15" fill="#ebebfc"/>
<rect x="8" y="20" width="1.12" height="1.15" fill="#fef4f3"/>
<rect x="8" y="21" width="1.12" height="1.15" fill="#fef0ef"/>
<rect x="8" y="22" width="1.12" height="1.15" fill="#ececfc"/>
<rect x="8" y="23" width="1.12" height="1.15" fill="#ececfd"/>
<rect x="8" y="24" width="1.12" height="1.15" fill="#e8e8fc"/>
<rect x="8" y="27" width="1.12" height="1.15" fill="#feeded"/>
<rect x="8" y="28" width="1.12" height="1.15" fill="#e6e6fc"/>
<rect x="8" y="30" width="1.12" height="1.15" fill="#f5f5fe"/>
<rect x="8" y="31" width="1.12" height="1.15" fill="#e9e9fc"/>
<rect x="8" y="32" width="1.12" height="1.15" fill="#fef3f3"/>
<rect x="8" y="35" width="1.12" height="1.15" fill="#ededfd"/>
<rect x="8" y="37" width="1.12" height="1.15" fill="#f5f5fe"/>
<rect x="8" y="38" width="1.12" height="1.15" fill="#f3f3fd"/>
<rect x="8" y="40" width="1.12" height="1.15" fill="#e7e7fc"/>
<rect x="8" y="41" width="1.12" height="1.15" fill="#eaeafc"/>
<rect x="8" y="43" width="1.12" height="1.15" fill="#e7e7fc"/>
<rect x="8" y="45" width="1.12" height="1.15" fill="#e8e8fc"/>
<rect x="8" y="46" width="1.12" height="1.15" fill="#eaeafc"/>
<rect x="8" y="47" width="1.12" height="1.15" fill="#f1f1fd"/>
<rect x="8" y="48" width="1.12" height="1.15" fill="#e9e9fc"/>
<rect x="8" y="49" width="1.12" height="1.15" fill="#e6e6fc"/>
<rect x="8" y="55" width="1.12" height="1.15" fill="#ececfc"/>
<rect x="8" y="56" width="1.12" height="1.15" fill="#f1f1fd"/>
<rect x="8" y="57" width="1.12" height="1.15" fill="#ebebfc"/>
<rect x="8" y="58" width="1.12" height="1.15" fill="#feecec"/>
<rect x="8" y="64" width="1.12" height="1.15" fill="#e4e4fb"/>
<rect x="8" y="66" width="1.12" height="1.15" fill="#f4f4fd"/>
<rect x="8" y="71" width="1.12" height="1.15" fill="#f6f6fe"/>
<rect x="8" y="72" width="1.12" height="1.15" fill="#e4e4fb"/>
<rect x="8" y="74" width="1.12" height="1.15" fill="#e9e9fc"/>
<rect x="9" y="0" width="1.12" height="1.15" fill="#fef0f0"/>
<rect x="9" y="11" width="1.12" height="1.15" fill="#fef4f4"/>
<rect x="9" y="14" width="1.12" height="1.15" fill="#fef7f6"/>
<rect x="9" y="15" width="1.12" height="1.15" fill="#eaeafc"/>
<rect x="9" y="19" width="1.12" height="1.15" fill="#feefef"/>
<rect x="9" y="20" width="1.12" height="1.15" fill="#fef1f1"/>
<rect x="9" y="21" width="1.12" height="1.15" fill="#feefef"/>
<rect x="9" y="23" width="1.12" height="1.15" fill="#fef1f1"/>
<rect x="9" y="26" width="1.12" height="1.15" fill="#feebeb"/>
<rect x="9" y="27" width="1.12" height="1.15" fill="#fef2f1"/>
<rect x="9" y="29" width="1.12" height="1.15" fill="#fef2f2"/>
<rect x="9" y="31" width="1.12" height="1.15" fill="#fef4f4"/>
<rect x="9" y="32" width="1.12" height="1.15" fill="#feeeee"/>
<rect x="9" y="33" width="1.12" height="1.15" fill="#fef2f1"/>
<rect x="9" y="34" width="1.12" height="2.15" fill="#feefef"/>
<rect x="9" y="37" width="1.12" height="1.15" fill="#fef4f3"/>
<rect x="9" y="38" width="1.12" height="1.15" fill="#fef2f2"/>
<rect x="9" y="39" width="1.12" height="1.15" fill="#f5f5fe"/>
<rect x="9" y="41" width="1.12" height="1.15" fill="#efeffd"/>
<rect x="9" y="44" width="1.12" height="1.15" fill="#fef6f6"/>
<rect x="9" y="48" width="1.12" height="1.15" fill="#f6f6fe"/>
<rect x="9" y="50" width="1.12" height="1.15" fill="#feefee"/>
<rect x="9" y="51" width="1.12" height="1.15" fill="#feefef"/>
<rect x="9" y="52" width="1.12" height="1.15" fill="#eaeafc"/>
<rect x="9" y="55" width="1.12" height="1.15" fill="#fef8f8"/>
<rect x="9" y="58" width="1.12" height="1.15" fill="#feebeb"/>
<rect x="9" y="63" width="1.12" height="1.15" fill="#b8b8f6"/>
<rect x="9" y="64" width="1.12" height="1.15" fill="#c6c6f7"/>
<rect x="9" y="65" width="1.12" height="1.15" fill="#e1e1fb"/>
<rect x="9" y="67" width="1.12" height="1.15" fill="#efeffd"/>
<rect x="9" y="70" width="1.12" height="1.15" fill="#e9e9fc"/>
<rect x="9" y="72" width="1.12" height="1.15" fill="#f3f3fd"/>
<rect x="9" y="75" width="1.12" height="1.15" fill="#ededfd"/>
<rect x="10" y="0" width="1.12" height="1.15" fill="#dcdcfa"/>
<rect x="10" y="1" width="1.12" height="1.15" fill="#d6d6fa"/>
<rect x="10" y="2" width="1.12" height="1.15" fill="#d2d2f9"/>
<rect x="10" y="3" width="1.12" height="1.15" fill="#cdcdf8"/>
<rect x="10" y="4" width="1.12" height="1.15" fill="#efeffd"/>
<rect x="10" y="6" width="1.12" height="1.15" fill="#eeeefd"/>
<rect x="10" y="7" width="1.12" height="1.15" fill="#f0f0fd"/>
<rect x="10" y="8" width="1.12" height="1.15" fill="#ededfd"/>
<rect x="10" y="9" width="1.12" height="1.15" fill="#ececfc"/>
<rect x="10" y="12" width="1.12" height="1.15" fill="#fef4f4"/>
<rect x="10" y="15" width="1.12" height="1.15" fill="#f2f2fd"/>
<rect x="10" y="17" width="1.12" height="1.15" fill="#f3f3fd"/>
<rect x="10" y="18" width="1.12" height="1.15" fill="#f1f1fd"/>
<rect x="10" y="19" width="1.12" height="1.15" fill="#eeeefd"/>
<rect x="10" y="20" width="1.12" height="1.15" fill="#f0f0fd"/>
<rect x="10" y="22" width="1.12" height="1.15" fill="#f0f0fd"/>
<rect x="10" y="24" width="1.12" height="1.15" fill="#fef4f4"/>
<rect x="10" y="26" width="1.12" height="1.15" fill="#f4f4fd"/>
<rect x="10" y="29" width="1.12" height="1.15" fill="#feeeee"/>
<rect x="10" y="33" width="1.12" height="1.15" fill="#ececfc"/>
<rect x="10" y="34" width="1.12" height="1.15" fill="#f6f6fe"/>
<rect x="10" y="35" width="1.12" height="1.15" fill="#f4f4fe"/>
<rect x="10" y="36" width="1.12" height="1.15" fill="#fef1f1"/>
<rect x="10" y="37" width="1.12" height="1.15" fill="#ededfd"/>
<rect x="10" y="39" width="1.12" height="1.15" fill="#f3f3fd"/>
<rect x="10" y="40" width="1.12" height="1.15" fill="#ececfd"/>
<rect x="10" y="41" width="1.12" height="1.15" fill="#f2f2fd"/>
<rect x="10" y="45" width="1.12" height="1.15" fill="#ebebfc"/>
<rect x="10" y="46" width="1.12" height="1.15" fill="#ececfd"/>
<rect x="10" y="47" width="1.12" height="1.15" fill="#efeffd"/>
<rect x="10" y="49" width="1.12" height="1.15" fill="#f1f1fd"/>
<rect x="10" y="51" width="1.12" height="1.15" fill="#fef1f0"/>
<rect x="10" y="52" width="1.12" height="1.15" fill="#fef2f1"/>
<rect x="10" y="53" width="1.12" height="1.15" fill="#f0f0fd"/>
<rect x="10" y="54" width="1.12" height="1.15" fill="#f1f1fd"/>
<rect x="10" y="56" width="1.12" height="1.15" fill="#f3f3fd"/>
<rect x="10" y="57" width="1.12" height="1.15" fill="#feeceb"/>
<rect x="10" y="58" width="1.12" height="1.15" fill="#fef4f3"/>
<rect x="10" y="60" width="1.12" height="1.15" fill="#f4f4fe"/>
<rect x="10" y="61" width="1.12" height="1.15" fill="#feeeee"/>
<rect x="10" y="63" width="1.12" height="1.15" fill="#c9c9f8"/>
<rect x="10" y="64" width="1.12" height="1.15" fill="#b6b6f5"/>
<rect x="10" y="68" width="1.12" height="1.15" fill="#f5f5fe"/>
<rect x="10" y="70" width="1.12" height="1.15" fill="#fef6f6"/>
<rect x="10" y="72" width="1.12" height="1.15" fill="#e8e8fc"/>
<rect x="10" y="74" width="1.12" height="1.15" fill="#eeeefd"/>
<rect x="10" y="76" width="1.12" height="1.15" fill="#e6e6fc"/>
<rect x="11" y="0" width="1.12" height="1.15" fill="#feebeb"/>
<rect x="11" y="3" width="1.12" height="1.15" fill="#fef1f0"/>
<rect x="11" y="5" width="1.12" height="1.15" fill="#fef3f3"/>
<rect x="11" y="6" width="1.12" height="1.15" fill="#fef6f6"/>
<rect x="11" y="7" width="1.12" height="1.15" fill="#e4e4fb"/>
<rect x="11" y="8" width="1.12" height="1.15" fill="#d8d8fa"/>
<rect x="11" y="9" width="1.12" height="1.15" fill="#dfdffb"/>
<rect x="11" y="10" width="1.12" height="1.15" fill="#d2d2f9"/>
<rect x="11" y="11" width="1.12" height="1.15" fill="#c5c5f7"/>
<rect x="11" y="12" width="1.12" height="1.15" fill="#c7c7f8"/>
<rect x="11" y="13" width="1.12" height="1.15" fill="#e3e3fb"/>
<rect x="11" y="14" width="1.12" height="1.15" fill="#ddddfb"/>
<rect x="11" y="15" width="1.12" height="1.15" fill="#c7c7f7"/>
<rect x="11" y="16" width="1.12" height="1.15" fill="#ccccf8"/>
<rect x="11" y="17" width="1.12" height="1.15" fill="#d6d6fa"/>
<rect x="11" y="18" width="1.12" height="1.15" fill="#d3d3f9"/>
<rect x="11" y="19" width="1.12" height="1.15" fill="#dedefb"/>
<rect x="11" y="21" width="1.12" height="1.15" fill="#fef7f6"/>
<rect x="11" y="22" width="1.12" height="1.15" fill="#fef0ef"/>
<rect x="11" y="24" width="1.12" height="1.15" fill="#fef3f2"/>
<rect x="11" y="28" width="1.12" height="1.15" fill="#feeeed"/>
<rect x="11" y="29" width="1.12" height="1.15" fill="#fef6f6"/>
<rect x="11" y="30" width="1.12" height="1.15" fill="#feeeed"/>
<rect x="11" y="31" width="1.12" height="1.15" fill="#fef3f2"/>
<rect x="11" y="32" width="1.12" height="1.15" fill="#fef7f6"/>
<rect x="11" y="33" width="1.12" height="1.15" fill="#feefef"/>
<rect x="11" y="36" width="1.12" height="1.15" fill="#fef6f6"/>
<rect x="11" y="39" width="1.12" height="1.15" fill="#fef0f0"/>
<rect x="11" y="43" width="1.12" height="1.15" fill="#fef0f0"/>
<rect x="11" y="44" width="1.12" height="1.15" fill="#fef4f3"/>
<rect x="11" y="45" width="1.12" height="1.15" fill="#fef4f4"/>
<rect x="11" y="47" width="1.12" height="1.15" fill="#feefee"/>
<rect x="11" y="48" width="1.12" height="1.15" fill="#feefef"/>
<rect x="11" y="49" width="1.12" height="1.15" fill="#fef8f7"/>
<rect x="11" y="50" width="1.12" height="1.15" fill="#fef2f2"/>
<rect x="11" y="56" width="1.12" height="1.15" fill="#fef5f5"/>
<rect x="11" y="57" width="1.12" height="1.15" fill="#fef7f7"/>
<rect x="11" y="58" width="1.12" height="1.15" fill="#fef4f4"/>
<rect x="11" y="59" width="1.12" height="1.15" fill="#ececfc"/>
<rect x="11" y="60" width="1.12" height="1.15" fill="#e0e0fb"/>
<rect x="11" y="62" width="1.12" height="1.15" fill="#f3f3fd"/>
<rect x="11" y="63" width="1.12" height="1.15" fill="#b6b6f5"/>
<rect x="11" y="64" width="1.12" height="1.15" fill="#c5c5f7"/>
<rect x="11" y="65" width="1.12" height="1.15" fill="#ededfd"/>
<rect x="11" y="70" width="1.12" height="1.15" fill="#e3e3fb"/>
<rect x="11" y="74" width="1.12" height="1.15" fill="#e5e5fc"/>
<rect x="12" y="0" width="1.12" height="1.15" fill="#f7908d"/>
<rect x="12" y="1" width="1.12" height="1.15" fill="#f89e9c"/>
<rect x="12" y="2" width="1.12" height="1.15" fill="#f4716d"/>
<rect x="12" y="3" width="1.12" height="1.15" fill="#f57572"/>
<rect x="12" y="4" width="1.12" height="1.15" fill="#ededfd"/>
<rect x="12" y="5" width="1.12" height="1.15" fill="#e3e3fb"/>
<rect x="12" y="6" width="1.12" height="1.15" fill="#e7e7fc"/>
<rect x="12" y="7" width="1.12" height="1.15" fill="#8c8cf0"/>
<rect x="12" y="8" width="1.12" height="1.15" fill="#9797f1"/>
<rect x="12" y="9" width="1.12" height="1.15" fill="#aaaaf4"/>
<rect x="12" y="10" width="1.12" height="1.15" fill="#a6a6f3"/>
<rect x="12" y="11" width="1.12" height="1.15" fill="#9f9ff2"/>
<rect x="12" y="12" width="1.12" height="1.15" fill="#9b9bf2"/>
<rect x="12" y="13" width="1.12" height="1.15" fill="#9797f1"/>
<rect x="12" y="14" width="1.12" height="1.15" fill="#9e9ef2"/>
<rect x="12" y="15" width="1.12" height="1.15" fill="#9f9ff2"/>
<rect x="12" y="16" width="1.12" height="1.15" fill="#acacf4"/>
<rect x="12" y="17" width="1.12" height="1.15" fill="#9797f1"/>
<rect x="12" y="18" width="1.12" height="1.15" fill="#a0a0f2"/>
<rect x="12" y="19" width="1.12" height="1.15" fill="#ababf4"/>
<rect x="12" y="20" width="1.12" height="1.15" fill="#f8a6a4"/>
<rect x="12" y="21" width="1.12" height="1.15" fill="#f79997"/>
<rect x="12" y="22" width="1.12" height="1.15" fill="#f9b0ae"/>
<rect x="12" y="23" width="1.12" height="1.15" fill="#f9aeab"/>
<rect x="12" y="24" width="1.12" height="1.15" fill="#f8a19f"/>
<rect x="12" y="25" width="1.12" height="2.15" fill="#f9aaa8"/>
<rect x="12" y="27" width="1.12" height="1.15" fill="#f8a5a3"/>
<rect x="12" y="28" width="1.12" height="1.15" fill="#f9aba9"/>
<rect x="12" y="29" width="1.12" height="1.15" fill="#f8a3a1"/>
<rect x="12" y="30" width="1.12" height="1.15" fill="#f8a4a2"/>
<rect x="12" y="31" width="1.12" height="1.15" fill="#f79a98"/>
<rect x="12" y="32" width="1.12" height="1.15" fill="#f79997"/>
<rect x="12" y="33" width="1.12" height="1.15" fill="#f9b0ae"/>
<rect x="12" y="34" width="1.12" height="1.15" fill="#f8a4a1"/>
<rect x="12" y="35" width="1.12" height="1.15" fill="#f89e9c"/>
<rect x="12" y="36" width="1.12" height="1.15" fill="#f89c9a"/>
<rect x="12" y="37" width="1.12" height="1.15" fill="#f89e9c"/>
<rect x="12" y="38" width="1.12" height="2.15" fill="#f8a29f"/>
<rect x="12" y="40" width="1.12" height="1.15" fill="#f8a8a6"/>
<rect x="12" y="41" width="1.12" height="1.15" fill="#f9aaa8"/>
<rect x="12" y="42" width="1.12" height="1.15" fill="#f89e9b"/>
<rect x="12" y="43" width="1.12" height="1.15" fill="#f89c9a"/>
<rect x="12" y="44" width="1.12" height="1.15" fill="#f79a98"/>
<rect x="12" y="45" width="1.12" height="1.15" fill="#f8a19e"/>
<rect x="12" y="46" width="1.12" height="1.15" fill="#f9aaa8"/>
<rect x="12" y="47" width="1.12" height="1.15" fill="#f89f9c"/>
<rect x="12" y="48" width="1.12" height="1.15" fill="#f89f9d"/>
<rect x="12" y="49" width="1.12" height="1.15" fill="#f8a5a3"/>
<rect x="12" y="50" width="1.12" height="1.15" fill="#f8a29f"/>
<rect x="12" y="51" width="1.12" height="1.15" fill="#f9a9a6"/>
<rect x="12" y="52" width="1.12" height="1.15" fill="#f8a4a2"/>
<rect x="12" y="53" width="1.12" height="1.15" fill="#f8a7a5"/>
<rect x="12" y="54" width="1.12" height="1.15" fill="#f9b0ae"/>
<rect x="12" y="55" width="1.12" height="2.15" fill="#f9a9a7"/>
<rect x="12" y="57" width="1.12" height="1.15" fill="#f79997"/>
<rect x="12" y="58" width="1.12" height="1.15" fill="#f8a5a3"/>
<rect x="12" y="59" width="1.12" height="1.15" fill="#f8a8a6"/>
<rect x="12" y="60" width="1.12" height="2.15" fill="#f9aba9"/>
<rect x="12" y="62" width="1.12" height="1.15" fill="#f9a9a6"/>
<rect x="12" y="63" width="1.12" height="1.15" fill="#f9aeac"/>
<rect x="12" y="64" width="1.12" height="1.15" fill="#f9b1af"/>
<rect x="12" y="65" width="1.12" height="1.15" fill="#f89c9a"/>
<rect x="12" y="66" width="1.12" height="2.15" fill="#f8a6a4"/>
<rect x="12" y="68" width="1.12" height="1.15" fill="#f8a3a1"/>
<rect x="12" y="69" width="1.12" height="1.15" fill="#f9aaa8"/>
<rect x="12" y="70" width="1.12" height="1.15" fill="#f9adab"/>
<rect x="12" y="71" width="1.12" height="1.15" fill="#f9afad"/>
<rect x="12" y="72" width="1.12" height="1.15" fill="#f9aaa8"/>
<rect x="12" y="73" width="1.12" height="1.15" fill="#f9aaa7"/>
<rect x="12" y="74" width="1.12" height="1.15" fill="#f8a09d"/>
<rect x="12" y="75" width="1.12" height="1.15" fill="#f8a4a1"/>
<rect x="12" y="76" width="1.12" height="1.15" fill="#f79b98"/>
<rect x="13" y="7" width="1.12" height="1.15" fill="#3c3ce5"/>
<rect x="13" y="8" width="1.12" height="1.15" fill="#3333e4"/>
<rect x="13" y="9" width="1.12" height="1.15" fill="#3b3be5"/>
<rect x="13" y="10" width="1.12" height="1.15" fill="#3131e3"/>
<rect x="13" y="11" width="1.12" height="1.15" fill="#4343e6"/>
<rect x="13" y="12" width="1.12" height="1.15" fill="#3939e5"/>
<rect x="13" y="13" width="1.12" height="1.15" fill="#3030e3"/>
<rect x="13" y="14" width="1.12" height="2.15" fill="#3e3ee5"/>
<rect x="13" y="16" width="1.12" height="1.15" fill="#4444e6"/>
<rect x="13" y="17" width="1.12" height="1.15" fill="#4141e6"/>
<rect x="13" y="18" width="1.12" height="1.15" fill="#3e3ee5"/>
<rect x="13" y="19" width="1.12" height="1.15" fill="#3434e4"/>
<rect x="13" y="23" width="1.12" height="1.15" fill="#f4f4fe"/>
<rect x="13" y="24" width="1.12" height="1.15" fill="#efeffd"/>
<rect x="13" y="25" width="1.12" height="1.15" fill="#f3f3fd"/>
<rect x="13" y="27" width="1.12" height="1.15" fill="#f2f2fd"/>
<rect x="13" y="28" width="1.12" height="1.15" fill="#eeeefd"/>
<rect x="13" y="29" width="1.12" height="1.15" fill="#f4f4fe"/>
<rect x="13" y="31" width="1.12" height="1.15" fill="#f0f0fd"/>
<rect x="13" y="32" width="1.12" height="1.15" fill="#efeffd"/>
<rect x="13" y="36" width="1.12" height="1.15" fill="#f5f5fe"/>
<rect x="13" y="37" width="1.12" height="1.15" fill="#efeffd"/>
<rect x="13" y="38" width="1.12" height="1.15" fill="#f3f3fd"/>
<rect x="13" y="39" width="1.12" height="1.15" fill="#eeeefd"/>
<rect x="13" y="42" width="1.12" height="1.15" fill="#f2f2fd"/>
<rect x="13" y="43" width="1.12" height="1.15" fill="#f3f3fd"/>
<rect x="13" y="45" width="1.12" height="1.15" fill="#f3f3fd"/>
<rect x="13" y="50" width="1.12" height="1.15" fill="#f4f4fd"/>
<rect x="13" y="52" width="1.12" height="1.15" fill="#f6f6fe"/>
<rect x="13" y="53" width="1.12" height="1.15" fill="#f4f4fe"/>
<rect x="13" y="55" width="1.12" height="1.15" fill="#f7f7fe"/>
<rect x="13" y="57" width="1.12" height="1.15" fill="#eeeefd"/>
<rect x="13" y="58" width="1.12" height="1.15" fill="#f5f5fe"/>
<rect x="13" y="59" width="1.12" height="1.15" fill="#ededfd"/>
<rect x="13" y="61" width="1.12" height="1.15" fill="#f4f4fe"/>
<rect x="13" y="62" width="1.12" height="1.15" fill="#f2f2fd"/>
<rect x="13" y="63" width="1.12" height="1.15" fill="#c6c6f7"/>
<rect x="13" y="64" width="1.12" height="1.15" fill="#c2c2f7"/>
<rect x="13" y="67" width="1.12" height="1.15" fill="#f1f1fd"/>
<rect x="13" y="69" width="1.12" height="1.15" fill="#f0f0fd"/>
<rect x="13" y="71" width="1.12" height="1.15" fill="#f5f5fe"/>
<rect x="13" y="72" width="1.12" height="1.15" fill="#f4f4fe"/>
<rect x="13" y="73" width="1.12" height="1.15" fill="#f5f5fe"/>
<rect x="13" y="74" width="1.12" height="1.15" fill="#f3f3fd"/>
<rect x="13" y="75" width="1.12" height="1.15" fill="#f4f4fe"/>
<rect x="14" y="0" width="1.12" height="1.15" fill="#6464ea"/>
<rect x="14" y="1" width="1.12" height="1.15" fill="#f1f1fd"/>
<rect x="14" y="2" width="1.12" height="1.15" fill="#4343e6"/>
<rect x="14" y="3" width="1.12" height="1.15" fill="#4242e6"/>
<rect x="14" y="4" width="1.12" height="1.15" fill="#7979ed"/>
<rect x="14" y="5" width="1.12" height="1.15" fill="#8a8aef"/>
<rect x="14" y="6" width="1.12" height="1.15" fill="#7979ed"/>
<rect x="14" y="7" width="1.12" height="1.15" fill="#2e2ee3"/>
<rect x="14" y="8" width="1.12" height="1.15" fill="#3a3ae5"/>
<rect x="14" y="9" width="1.12" height="1.15" fill="#3e3ee5"/>
<rect x="14" y="10" width="1.12" height="1.15" fill="#3838e5"/>
<rect x="14" y="11" width="1.12" height="1.15" fill="#2f2fe3"/>
<rect x="14" y="12" width="1.12" height="1.15" fill="#4141e6"/>
<rect x="14" y="13" width="1.12" height="1.15" fill="#4444e6"/>
<rect x="14" y="14" width="1.12" height="1.15" fill="#3a3ae5"/>
<rect x="14" y="15" width="1.12" height="1.15" fill="#3636e4"/>
<rect x="14" y="16" width="1.12" height="1.15" fill="#3333e4"/>
<rect x="14" y="17" width="1.12" height="1.15" fill="#3c3ce5"/>
<rect x="14" y="18" width="1.12" height="1.15" fill="#2e2ee3"/>
<rect x="14" y="19" width="1.12" height="1.15" fill="#3f3fe5"/>
<rect x="14" y="20" width="1.12" height="1.15" fill="#5454e8"/>
<rect x="14" y="21" width="1.12" height="1.15" fill="#6c6ceb"/>
<rect x="14" y="22" width="1.12" height="1.15" fill="#6e6eec"/>
<rect x="14" y="23" width="1.12" height="1.15" fill="#6a6aeb"/>
<rect x="14" y="24" width="1.12" height="1.15" fill="#6d6dec"/>
<rect x="14" y="25" width="1.12" height="1.15" fill="#5d5de9"/>
<rect x="14" y="26" width="1.12" height="1.15" fill="#5b5be9"/>
<rect x="14" y="27" width="1.12" height="1.15" fill="#6868eb"/>
<rect x="14" y="28" width="1.12" height="1.15" fill="#4d4de7"/>
<rect x="14" y="29" width="1.12" height="1.15" fill="#6262ea"/>
<rect x="14" y="30" width="1.12" height="1.15" fill="#6a6aeb"/>
<rect x="14" y="31" width="1.12" height="1.15" fill="#6969eb"/>
<rect x="14" y="32" width="1.12" height="1.15" fill="#5454e8"/>
<rect x="14" y="33" width="1.12" height="1.15" fill="#4e4ee7"/>
<rect x="14" y="34" width="1.12" height="1.15" fill="#6969eb"/>
<rect x="14" y="35" width="1.12" height="1.15" fill="#6e6eec"/>
<rect x="14" y="36" width="1.12" height="1.15" fill="#5353e8"/>
<rect x="14" y="37" width="1.12" height="1.15" fill="#6666eb"/>
<rect x="14" y="38" width="1.12" height="1.15" fill="#4c4ce7"/>
<rect x="14" y="39" width="1.12" height="1.15" fill="#5d5de9"/>
<rect x="14" y="40" width="1.12" height="1.15" fill="#5858e9"/>
<rect x="14" y="41" width="1.12" height="1.15" fill="#6363ea"/>
<rect x="14" y="42" width="1.12" height="1.15" fill="#5252e8"/>
<rect x="14" y="43" width="1.12" height="1.15" fill="#5e5eea"/>
<rect x="14" y="44" width="1.12" height="1.15" fill="#6363ea"/>
<rect x="14" y="45" width="1.12" height="1.15" fill="#4e4ee7"/>
<rect x="14" y="46" width="1.12" height="1.15" fill="#6b6beb"/>
<rect x="14" y="47" width="1.12" height="1.15" fill="#5555e8"/>
<rect x="14" y="48" width="1.12" height="1.15" fill="#6d6deb"/>
<rect x="14" y="49" width="1.12" height="1.15" fill="#5858e9"/>
<rect x="14" y="50" width="1.12" height="1.15" fill="#6161ea"/>
<rect x="14" y="51" width="1.12" height="1.15" fill="#5050e8"/>
<rect x="14" y="52" width="1.12" height="1.15" fill="#6d6dec"/>
<rect x="14" y="53" width="1.12" height="1.15" fill="#5b5be9"/>
<rect x="14" y="54" width="1.12" height="1.15" fill="#6060ea"/>
<rect x="14" y="55" width="1.12" height="1.15" fill="#b1b1f5"/>
<rect x="14" y="56" width="1.12" height="1.15" fill="#b0b0f4"/>
<rect x="14" y="57" width="1.12" height="1.15" fill="#bbbbf6"/>
<rect x="14" y="58" width="1.12" height="1.15" fill="#cacaf8"/>
<rect x="14" y="59" width="1.12" height="2.15" fill="#c9c9f8"/>
<rect x="14" y="61" width="1.12" height="1.15" fill="#c2c2f7"/>
<rect x="14" y="62" width="1.12" height="1.15" fill="#cacaf8"/>
<rect x="14" y="63" width="1.12" height="1.15" fill="#c3c3f7"/>
<rect x="14" y="64" width="1.12" height="1.15" fill="#b7b7f5"/>
<rect x="14" y="65" width="1.12" height="1.15" fill="#bbbbf6"/>
<rect x="14" y="66" width="1.12" height="1.15" fill="#c7c7f8"/>
<rect x="14" y="67" width="1.12" height="1.15" fill="#aeaef4"/>
<rect x="14" y="68" width="1.12" height="1.15" fill="#cacaf8"/>
<rect x="14" y="69" width="1.12" height="1.15" fill="#bdbdf6"/>
<rect x="14" y="70" width="1.12" height="1.15" fill="#ccccf8"/>
<rect x="14" y="71" width="1.12" height="2.15" fill="#b3b3f5"/>
<rect x="14" y="73" width="1.12" height="1.15" fill="#c8c8f8"/>
<rect x="14" y="74" width="1.12" height="1.15" fill="#b7b7f5"/>
<rect x="14" y="75" width="1.12" height="1.15" fill="#b4b4f5"/>
<rect x="14" y="76" width="1.12" height="1.15" fill="#c8c8f8"/>
<rect x="15" y="0" width="1.12" height="1.15" fill="#fef6f6"/>
<rect x="15" y="1" width="1.12" height="1.15" fill="#fcd8d7"/>
<rect x="15" y="2" width="1.12" height="1.15" fill="#8484ef"/>
<rect x="15" y="3" width="1.12" height="1.15" fill="#7575ed"/>
<rect x="15" y="4" width="1.12" height="1.15" fill="#8f8ff0"/>
<rect x="15" y="5" width="1.12" height="1.15" fill="#7d7dee"/>
<rect x="15" y="6" width="1.12" height="1.15" fill="#8080ee"/>
<rect x="15" y="7" width="1.12" height="1.15" fill="#4141e6"/>
<rect x="15" y="8" width="1.12" height="1.15" fill="#3e3ee5"/>
<rect x="15" y="9" width="1.12" height="1.15" fill="#3535e4"/>
<rect x="15" y="10" width="1.12" height="1.15" fill="#4848e7"/>
<rect x="15" y="11" width="1.12" height="1.15" fill="#3535e4"/>
<rect x="15" y="12" width="1.12" height="1.15" fill="#4444e6"/>
<rect x="15" y="13" width="1.12" height="1.15" fill="#3838e4"/>
<rect x="15" y="14" width="1.12" height="1.15" fill="#3636e4"/>
<rect x="15" y="15" width="1.12" height="1.15" fill="#4848e7"/>
<rect x="15" y="16" width="1.12" height="1.15" fill="#3636e4"/>
<rect x="15" y="17" width="1.12" height="1.15" fill="#3232e4"/>
<rect x="15" y="18" width="1.12" height="1.15" fill="#4545e6"/>
<rect x="15" y="19" width="1.12" height="1.15" fill="#4d4de7"/>
<rect x="15" y="20" width="1.12" height="1.15" fill="#4a4ae7"/>
<rect x="15" y="21" width="1.12" height="1.15" fill="#3333e4"/>
<rect x="15" y="22" width="1.12" height="1.15" fill="#4d4de7"/>
<rect x="15" y="23" width="1.12" height="1.15" fill="#3535e4"/>
<rect x="15" y="24" width="1.12" height="1.15" fill="#4949e7"/>
<rect x="15" y="25" width="1.12" height="1.15" fill="#3939e5"/>
<rect x="15" y="26" width="1.12" height="1.15" fill="#4b4be7"/>
<rect x="15" y="27" width="1.12" height="1.15" fill="#4949e7"/>
<rect x="15" y="31" width="1.12" height="1.15" fill="#f7f7fe"/>
<rect x="15" y="33" width="1.12" height="1.15" fill="#f7f7fe"/>
<rect x="15" y="34" width="1.12" height="1.15" fill="#f6f6fe"/>
<rect x="15" y="45" width="1.12" height="1.15" fill="#f6f6fe"/>
<rect x="15" y="47" width="1.12" height="1.15" fill="#f7f7fe"/>
<rect x="15" y="60" width="1.12" height="1.15" fill="#f7f7fe"/>
<rect x="15" y="63" width="1.12" height="1.15" fill="#bebef6"/>
<rect x="15" y="64" width="1.12" height="1.15" fill="#b7b7f5"/>
<rect x="16" y="1" width="1.12" height="1.15" fill="#fcd2d1"/>
<rect x="16" y="2" width="1.12" height="1.15" fill="#fef2f2"/>
<rect x="16" y="4" width="1.12" height="2.15" fill="#babaf6"/>
<rect x="16" y="6" width="1.12" height="1.15" fill="#b5b5f5"/>
<rect x="16" y="7" width="1.12" height="1.15" fill="#6767eb"/>
<rect x="16" y="8" width="1.12" height="1.15" fill="#6b6beb"/>
<rect x="16" y="9" width="1.12" height="1.15" fill="#7070ec"/>
<rect x="16" y="10" width="1.12" height="1.15" fill="#7c7ced"/>
<rect x="16" y="11" width="1.12" height="1.15" fill="#7f7fee"/>
<rect x="16" y="12" width="1.12" height="1.15" fill="#7b7bed"/>
<rect x="16" y="13" width="1.12" height="1.15" fill="#6767eb"/>
<rect x="16" y="14" width="1.12" height="2.15" fill="#3c3ce5"/>
<rect x="16" y="16" width="1.12" height="1.15" fill="#3b3be5"/>
<rect x="16" y="17" width="1.12" height="1.15" fill="#4141e6"/>
<rect x="16" y="18" width="1.12" height="1.15" fill="#2e2ee3"/>
<rect x="16" y="19" width="1.12" height="1.15" fill="#4444e6"/>
<rect x="16" y="20" width="1.12" height="1.15" fill="#3737e4"/>
<rect x="16" y="21" width="1.12" height="1.15" fill="#2f2fe3"/>
<rect x="16" y="22" width="1.12" height="1.15" fill="#3f3fe5"/>
<rect x="16" y="23" width="1.12" height="1.15" fill="#3737e4"/>
<rect x="16" y="24" width="1.12" height="1.15" fill="#3c3ce5"/>
<rect x="16" y="25" width="1.12" height="1.15" fill="#3f3fe5"/>
<rect x="16" y="26" width="1.12" height="1.15" fill="#4040e6"/>
<rect x="16" y="27" width="1.12" height="1.15" fill="#4242e6"/>
<rect x="16" y="28" width="1.12" height="1.15" fill="#3131e4"/>
<rect x="16" y="29" width="1.12" height="1.15" fill="#3333e4"/>
<rect x="16" y="30" width="1.12" height="1.15" fill="#3030e3"/>
<rect x="16" y="31" width="1.12" height="1.15" fill="#4343e6"/>
<rect x="16" y="32" width="1.12" height="1.15" fill="#3535e4"/>
<rect x="16" y="33" width="1.12" height="1.15" fill="#3d3de5"/>
<rect x="16" y="34" width="1.12" height="1.15" fill="#3636e4"/>
<rect x="16" y="35" width="1.12" height="1.15" fill="#3838e4"/>
<rect x="16" y="36" width="1.12" height="1.15" fill="#3d3de5"/>
<rect x="16" y="37" width="1.12" height="1.15" fill="#2e2ee3"/>
<rect x="16" y="38" width="1.12" height="1.15" fill="#4444e6"/>
<rect x="16" y="39" width="1.12" height="1.15" fill="#3333e4"/>
<rect x="16" y="40" width="1.12" height="1.15" fill="#3131e4"/>
<rect x="16" y="41" width="1.12" height="1.15" fill="#3939e5"/>
<rect x="16" y="42" width="1.12" height="1.15" fill="#3737e4"/>
<rect x="16" y="43" width="1.12" height="1.15" fill="#2e2ee3"/>
<rect x="16" y="44" width="1.12" height="1.15" fill="#3f3fe5"/>
<rect x="16" y="45" width="1.12" height="1.15" fill="#3636e4"/>
<rect x="16" y="46" width="1.12" height="1.15" fill="#3434e4"/>
<rect x="16" y="47" width="1.12" height="1.15" fill="#3c3ce5"/>
<rect x="16" y="48" width="1.12" height="1.15" fill="#3434e4"/>
<rect x="16" y="49" width="1.12" height="1.15" fill="#3b3be5"/>
<rect x="16" y="50" width="1.12" height="1.15" fill="#3838e5"/>
<rect x="16" y="51" width="1.12" height="1.15" fill="#3636e4"/>
<rect x="16" y="52" width="1.12" height="1.15" fill="#3535e4"/>
<rect x="16" y="53" width="1.12" height="1.15" fill="#3d3de5"/>
<rect x="16" y="54" width="1.12" height="1.15" fill="#3636e4"/>
<rect x="16" y="55" width="1.12" height="1.15" fill="#3838e4"/>
<rect x="16" y="56" width="1.12" height="1.15" fill="#3f3fe5"/>
<rect x="16" y="57" width="1.12" height="1.15" fill="#3636e4"/>
<rect x="16" y="58" width="1.12" height="1.15" fill="#c4c4f7"/>
<rect x="16" y="59" width="1.12" height="1.15" fill="#3232e4"/>
<rect x="16" y="60" width="1.12" height="1.15" fill="#3939e5"/>
<rect x="16" y="61" width="1.12" height="1.15" fill="#b4b4f5"/>
<rect x="16" y="62" width="1.12" height="1.15" fill="#bbbbf6"/>
<rect x="16" y="63" width="1.12" height="1.15" fill="#cacaf8"/>
<rect x="16" y="64" width="1.12" height="1.15" fill="#c7c7f8"/>
<rect x="16" y="65" width="1.12" height="1.15" fill="#c8c8f8"/>
<rect x="16" y="66" width="1.12" height="1.15" fill="#3131e4"/>
<rect x="16" y="67" width="1.12" height="1.15" fill="#3838e5"/>
<rect x="16" y="68" width="1.12" height="2.15" fill="#3939e5"/>
<rect x="16" y="70" width="1.12" height="1.15" fill="#3333e4"/>
<rect x="16" y="71" width="1.12" height="1.15" fill="#3e3ee5"/>
<rect x="16" y="72" width="1.12" height="1.15" fill="#3f3fe5"/>
<rect x="16" y="73" width="1.12" height="1.15" fill="#3333e4"/>
<rect x="16" y="74" width="1.12" height="1.15" fill="#3a3ae5"/>
<rect x="16" y="75" width="1.12" height="1.15" fill="#3636e4"/>
<rect x="16" y="76" width="1.12" height="1.15" fill="#3333e4"/>
<rect x="17" y="0" width="1.12" height="1.15" fill="#ededfd"/>
<rect x="17" y="3" width="1.12" height="1.15" fill="#e6e6fc"/>
<rect x="17" y="6" width="1.12" height="1.15" fill="#ececfc"/>
<rect x="17" y="7" width="1.12" height="1.15" fill="#e6e6fc"/>
<rect x="17" y="8" width="1.12" height="1.15" fill="#f7f7fe"/>
<rect x="17" y="9" width="1.12" height="1.15" fill="#e5e5fb"/>
<rect x="17" y="10" width="1.12" height="1.15" fill="#e6e6fc"/>
<rect x="17" y="11" width="1.12" height="1.15" fill="#f1f1fd"/>
<rect x="17" y="12" width="1.12" height="1.15" fill="#e9e9fc"/>
<rect x="17" y="14" width="1.12" height="1.15" fill="#b9b9f6"/>
<rect x="17" y="15" width="1.12" height="1.15" fill="#babaf6"/>
<rect x="17" y="16" width="1.12" height="1.15" fill="#d7d7fa"/>
<rect x="17" y="17" width="1.12" height="1.15" fill="#cbcbf8"/>
<rect x="17" y="18" width="1.12" height="2.15" fill="#bbbbf6"/>
<rect x="17" y="20" width="1.12" height="1.15" fill="#d4d4f9"/>
<rect x="17" y="21" width="1.12" height="1.15" fill="#e8e8fc"/>
<rect x="17" y="22" width="1.12" height="1.15" fill="#e4e4fb"/>
<rect x="17" y="23" width="1.12" height="1.15" fill="#fef6f5"/>
<rect x="17" y="25" width="1.12" height="1.15" fill="#eaeafc"/>
<rect x="17" y="26" width="1.12" height="1.15" fill="#f2f2fd"/>
<rect x="17" y="28" width="1.12" height="1.15" fill="#e6e6fc"/>
<rect x="17" y="30" width="1.12" height="1.15" fill="#efeffd"/>
<rect x="17" y="31" width="1.12" height="1.15" fill="#e9e9fc"/>
<rect x="17" y="32" width="1.12" height="1.15" fill="#feedec"/>
<rect x="17" y="33" width="1.12" height="1.15" fill="#f0f0fd"/>
<rect x="17" y="34" width="1.12" height="1.15" fill="#ededfd"/>
<rect x="17" y="35" width="1.12" height="1.15" fill="#e4e4fb"/>
<rect x="17" y="39" width="1.12" height="1.15" fill="#fef4f4"/>
<rect x="17" y="42" width="1.12" height="1.15" fill="#e7e7fc"/>
<rect x="17" y="43" width="1.12" height="1.15" fill="#efeffd"/>
<rect x="17" y="45" width="1.12" height="1.15" fill="#fef1f1"/>
<rect x="17" y="46" width="1.12" height="1.15" fill="#f2f2fd"/>
<rect x="17" y="47" width="1.12" height="1.15" fill="#ebebfc"/>
<rect x="17" y="48" width="1.12" height="1.15" fill="#f1f1fd"/>
<rect x="17" y="51" width="1.12" height="1.15" fill="#f2f2fd"/>
<rect x="17" y="52" width="1.12" height="1.15" fill="#f3f3fd"/>
<rect x="17" y="53" width="1.12" height="1.15" fill="#f6f6fe"/>
<rect x="17" y="55" width="1.12" height="1.15" fill="#fef5f5"/>
<rect x="17" y="56" width="1.12" height="1.15" fill="#eeeefd"/>
<rect x="17" y="58" width="1.12" height="1.15" fill="#fef5f5"/>
<rect x="17" y="59" width="1.12" height="1.15" fill="#f6f6fe"/>
<rect x="17" y="60" width="1.12" height="1.15" fill="#e4e4fb"/>
<rect x="17" y="62" width="1.12" height="1.15" fill="#f3f3fd"/>
<rect x="17" y="64" width="1.12" height="1.15" fill="#ededfd"/>
<rect x="17" y="66" width="1.12" height="1.15" fill="#e5e5fc"/>
<rect x="17" y="69" width="1.12" height="1.15" fill="#e5e5fc"/>
<rect x="17" y="71" width="1.12" height="1.15" fill="#f1f1fd"/>
<rect x="17" y="73" width="1.12" height="1.15" fill="#e9e9fc"/>
<rect x="17" y="76" width="1.12" height="1.15" fill="#e3e3fb"/>
<rect x="18" y="0" width="1.12" height="1.15" fill="#fef0ef"/>
<rect x="18" y="1" width="1.12" height="1.15" fill="#f5f5fe"/>
<rect x="18" y="7" width="1.12" height="1.15" fill="#fef1f1"/>
<rect x="18" y="8" width="1.12" height="1.15" fill="#ebebfc"/>
<rect x="18" y="9" width="1.12" height="1.15" fill="#ececfd"/>
<rect x="18" y="13" width="1.12" height="1.15" fill="#fef7f7"/>
<rect x="18" y="14" width="1.12" height="1.15" fill="#feeeed"/>
<rect x="18" y="16" width="1.12" height="1.15" fill="#fef2f2"/>
<rect x="18" y="18" width="1.12" height="1.15" fill="#feebeb"/>
<rect x="18" y="20" width="1.12" height="1.15" fill="#fef2f2"/>
<rect x="18" y="25" width="1.12" height="1.15" fill="#f3f3fd"/>
<rect x="18" y="26" width="1.12" height="1.15" fill="#fef3f3"/>
<rect x="18" y="29" width="1.12" height="1.15" fill="#feefee"/>
<rect x="18" y="32" width="1.12" height="1.15" fill="#fef0ef"/>
<rect x="18" y="33" width="1.12" height="2.15" fill="#fef2f2"/>
<rect x="18" y="37" width="1.12" height="1.15" fill="#fef5f5"/>
<rect x="18" y="40" width="1.12" height="1.15" fill="#fef1f1"/>
<rect x="18" y="46" width="1.12" height="1.15" fill="#eeeefd"/>
<rect x="18" y="48" width="1.12" height="1.15" fill="#fef2f1"/>
<rect x="18" y="50" width="1.12" height="1.15" fill="#feeded"/>
<rect x="18" y="52" width="1.12" height="1.15" fill="#fef5f4"/>
<rect x="18" y="53" width="1.12" height="1.15" fill="#fef3f3"/>
<rect x="18" y="54" width="1.12" height="1.15" fill="#fef7f7"/>
<rect x="18" y="55" width="1.12" height="1.15" fill="#f4f4fe"/>
<rect x="18" y="58" width="1.12" height="1.15" fill="#fde5e5"/>
<rect x="18" y="59" width="1.12" height="1.15" fill="#fef8f7"/>
<rect x="18" y="63" width="1.12" height="1.15" fill="#f6f6fe"/>
<rect x="18" y="69" width="1.12" height="1.15" fill="#efeffd"/>
<rect x="18" y="75" width="1.12" height="1.15" fill="#e2e2fb"/>
<rect x="19" y="0" width="1.12" height="1.15" fill="#fef4f3"/>
<rect x="19" y="3" width="1.12" height="1.15" fill="#fef2f2"/>
<rect x="19" y="6" width="1.12" height="1.15" fill="#feeded"/>
<rect x="19" y="7" width="1.12" height="1.15" fill="#feeeed"/>
<rect x="19" y="8" width="1.12" height="1.15" fill="#fef2f2"/>
<rect x="19" y="10" width="1.12" height="1.15" fill="#feeceb"/>
<rect x="19" y="12" width="1.12" height="1.15" fill="#fef4f4"/>
<rect x="19" y="13" width="1.12" height="1.15" fill="#fef0f0"/>
<rect x="19" y="15" width="1.12" height="1.15" fill="#feeeee"/>
<rect x="19" y="16" width="1.12" height="1.15" fill="#feeded"/>
<rect x="19" y="18" width="1.12" height="1.15" fill="#feebeb"/>
<rect x="19" y="19" width="1.12" height="1.15" fill="#feefee"/>
<rect x="19" y="21" width="1.12" height="1.15" fill="#fef5f5"/>
<rect x="19" y="22" width="1.12" height="1.15" fill="#feefee"/>
<rect x="19" y="23" width="1.12" height="1.15" fill="#fef4f3"/>
<rect x="19" y="25" width="1.12" height="1.15" fill="#fef4f4"/>
<rect x="19" y="26" width="1.12" height="1.15" fill="#fef5f5"/>
<rect x="19" y="27" width="1.12" height="1.15" fill="#fef2f2"/>
<rect x="19" y="30" width="1.12" height="1.15" fill="#feeeee"/>
<rect x="19" y="31" width="1.12" height="1.15" fill="#fef1f1"/>
<rect x="19" y="32" width="1.12" height="1.15" fill="#f1f1fd"/>
<rect x="19" y="33" width="1.12" height="2.15" fill="#fef7f7"/>
<rect x="19" y="37" width="1.12" height="1.15" fill="#fef8f7"/>
<rect x="19" y="40" width="1.12" height="1.15" fill="#fef5f5"/>
<rect x="19" y="41" width="1.12" height="1.15" fill="#fef2f1"/>
<rect x="19" y="44" width="1.12" height="1.15" fill="#fef7f7"/>
<rect x="19" y="47" width="1.12" height="1.15" fill="#feebeb"/>
<rect x="19" y="48" width="1.12" height="1.15" fill="#feedec"/>
<rect x="19" y="49" width="1.12" height="1.15" fill="#feecec"/>
<rect x="19" y="52" width="1.12" height="1.15" fill="#fef3f3"/>
<rect x="19" y="53" width="1.12" height="1.15" fill="#fef1f1"/>
<rect x="19" y="54" width="1.12" height="1.15" fill="#feefee"/>
<rect x="19" y="57" width="1.12" height="1.15" fill="#fef6f6"/>
<rect x="19" y="58" width="1.12" height="1.15" fill="#fef0f0"/>
<rect x="19" y="63" width="1.12" height="2.15" fill="#eeeefd"/>
<rect x="19" y="65" width="1.12" height="1.15" fill="#f4f4fe"/>
<rect x="19" y="66" width="1.12" height="1.15" fill="#fef7f7"/>
<rect x="19" y="68" width="1.12" height="1.15" fill="#f0f0fd"/>
<rect x="19" y="69" width="1.12" height="1.15" fill="#e0e0fb"/>
<rect x="19" y="70" width="1.12" height="1.15" fill="#f0f0fd"/>
<rect x="19" y="73" width="1.12" height="1.15" fill="#e4e4fb"/>
<rect x="19" y="74" width="1.12" height="1.15" fill="#f3f3fd"/>
<rect x="19" y="75" width="1.12" height="1.15" fill="#e4e4fb"/>
<rect x="20" y="0" width="1.12" height="1.15" fill="#fdeae9"/>
<rect x="20" y="1" width="1.12" height="1.15" fill="#fef2f2"/>
<rect x="20" y="3" width="1.12" height="1.15" fill="#fde8e8"/>
<rect x="20" y="4" width="1.12" height="1.15" fill="#fef1f1"/>
<rect x="20" y="6" width="1.12" height="1.15" fill="#fef3f3"/>
<rect x="20" y="7" width="1.12" height="1.15" fill="#fdeae9"/>
<rect x="20" y="8" width="1.12" height="1.15" fill="#feedec"/>
<rect x="20" y="9" width="1.12" height="1.15" fill="#fde9e8"/>
<rect x="20" y="10" width="1.12" height="1.15" fill="#fef8f8"/>
<rect x="20" y="12" width="1.12" height="1.15" fill="#fef0f0"/>
<rect x="20" y="15" width="1.12" height="1.15" fill="#fef2f1"/>
<rect x="20" y="18" width="1.12" height="1.15" fill="#fef5f5"/>
<rect x="20" y="19" width="1.12" height="1.15" fill="#fef3f3"/>
<rect x="20" y="23" width="1.12" height="1.15" fill="#fef0ef"/>
<rect x="20" y="27" width="1.12" height="1.15" fill="#fef3f3"/>
<rect x="20" y="28" width="1.12" height="1.15" fill="#feeded"/>
<rect x="20" y="29" width="1.12" height="1.15" fill="#feeceb"/>
<rect x="20" y="30" width="1.12" height="1.15" fill="#fde9e9"/>
<rect x="20" y="32" width="1.12" height="1.15" fill="#f4f4fe"/>
<rect x="20" y="33" width="1.12" height="1.15" fill="#f4f4fd"/>
<rect x="20" y="34" width="1.12" height="1.15" fill="#fef4f4"/>
<rect x="20" y="38" width="1.12" height="1.15" fill="#fef3f2"/>
<rect x="20" y="39" width="1.12" height="1.15" fill="#fef1f0"/>
<rect x="20" y="41" width="1.12" height="1.15" fill="#fef1f0"/>
<rect x="20" y="43" width="1.12" height="1.15" fill="#fef3f2"/>
<rect x="20" y="47" width="1.12" height="1.15" fill="#fde9e9"/>
<rect x="20" y="51" width="1.12" height="1.15" fill="#fde8e7"/>
<rect x="20" y="52" width="1.12" height="1.15" fill="#fde9e8"/>
<rect x="20" y="53" width="1.12" height="1.15" fill="#fef0f0"/>
<rect x="20" y="54" width="1.12" height="1.15" fill="#fdeaea"/>
<rect x="20" y="55" width="1.12" height="1.15" fill="#fef2f1"/>
<rect x="20" y="58" width="1.12" height="1.15" fill="#feebeb"/>
<rect x="20" y="59" width="1.12" height="1.15" fill="#fef0ef"/>
<rect x="20" y="67" width="1.12" height="1.15" fill="#f4f4fe"/>
<rect x="20" y="69" width="1.12" height="1.15" fill="#ececfc"/>
<rect x="20" y="71" width="1.12" height="1.15" fill="#e4e4fb"/>
<rect x="20" y="72" width="1.12" height="1.15" fill="#eaeafc"/>
<rect x="20" y="73" width="1.12" height="1.15" fill="#e6e6fc"/>
<rect x="20" y="74" width="1.12" height="1.15" fill="#eeeefd"/>
<rect x="21" y="0" width="1.12" height="1.15" fill="#f0f0fd"/>
<rect x="21" y="1" width="1.12" height="1.15" fill="#f2f2fd"/>
<rect x="21" y="5" width="1.12" height="1.15" fill="#fef8f8"/>
<rect x="21" y="10" width="1.12" height="1.15" fill="#eeeefd"/>
<rect x="21" y="15" width="1.12" height="1.15" fill="#ececfd"/>
<rect x="21" y="16" width="1.12" height="1.15" fill="#f3f3fd"/>
<rect x="21" y="17" width="1.12" height="1.15" fill="#efeffd"/>
<rect x="21" y="18" width="1.12" height="1.15" fill="#f5f5fe"/>
<rect x="21" y="19" width="1.12" height="1.15" fill="#f0f0fd"/>
<rect x="21" y="21" width="1.12" height="1.15" fill="#f4f4fd"/>
<rect x="21" y="24" width="1.12" height="1.15" fill="#fef3f3"/>
<rect x="21" y="26" width="1.12" height="1.15" fill="#feebeb"/>
<rect x="21" y="29" width="1.12" height="1.15" fill="#f7f7fe"/>
<rect x="21" y="31" width="1.12" height="1.15" fill="#ededfd"/>
<rect x="21" y="32" width="1.12" height="1.15" fill="#ebebfc"/>
<rect x="21" y="34" width="1.12" height="1.15" fill="#f7f7fe"/>
<rect x="21" y="35" width="1.12" height="1.15" fill="#ededfd"/>
<rect x="21" y="36" width="1.12" height="1.15" fill="#feeded"/>
<rect x="21" y="37" width="1.12" height="1.15" fill="#f0f0fd"/>
<rect x="21" y="43" width="1.12" height="1.15" fill="#f5f5fe"/>
<rect x="21" y="47" width="1.12" height="1.15" fill="#f1f1fd"/>
<rect x="21" y="48" width="1.12" height="1.15" fill="#eeeefd"/>
<rect x="21" y="49" width="1.12" height="1.15" fill="#efeffd"/>
<rect x="21" y="52" width="1.12" height="1.15" fill="#feedec"/>
<rect x="21" y="53" width="1.12" height="1.15" fill="#fef4f4"/>
<rect x="21" y="55" width="1.12" height="1.15" fill="#feecec"/>
<rect x="21" y="58" width="1.12" height="1.15" fill="#feedec"/>
<rect x="21" y="59" width="1.12" height="1.15" fill="#f7f7fe"/>
<rect x="21" y="60" width="1.12" height="1.15" fill="#fef2f2"/>
<rect x="21" y="63" width="1.12" height="1.15" fill="#e3e3fb"/>
<rect x="21" y="64" width="1.12" height="1.15" fill="#e6e6fc"/>
<rect x="21" y="65" width="1.12" height="1.15" fill="#f0f0fd"/>
<rect x="21" y="67" width="1.12" height="1.15" fill="#ececfd"/>
<rect x="21" y="69" width="1.12" height="1.15" fill="#e0e0fb"/>
<rect x="21" y="70" width="1.12" height="1.15" fill="#efeffd"/>
<rect x="21" y="72" width="1.12" height="1.15" fill="#f1f1fd"/>
<rect x="21" y="74" width="1.12" height="1.15" fill="#fef4f4"/>
<rect x="21" y="76" width="1.12" height="1.15" fill="#ededfd"/>
<rect x="22" y="0" width="1.12" height="1.15" fill="#fef0ef"/>
<rect x="22" y="3" width="1.12" height="1.15" fill="#feecec"/>
<rect x="22" y="4" width="1.12" height="1.15" fill="#feeeed"/>
<rect x="22" y="5" width="1.12" height="1.15" fill="#fef5f5"/>
<rect x="22" y="6" width="1.12" height="1.15" fill="#fef3f3"/>
<rect x="22" y="8" width="1.12" height="1.15" fill="#fef1f1"/>
<rect x="22" y="9" width="1.12" height="1.15" fill="#feecec"/>
<rect x="22" y="11" width="1.12" height="1.15" fill="#feeded"/>
<rect x="22" y="12" width="1.12" height="1.15" fill="#f4f4fe"/>
<rect x="22" y="13" width="1.12" height="1.15" fill="#fde8e8"/>
<rect x="22" y="14" width="1.12" height="1.15" fill="#fef0ef"/>
<rect x="22" y="15" width="1.12" height="1.15" fill="#feefee"/>
<rect x="22" y="16" width="1.12" height="1.15" fill="#feefef"/>
<rect x="22" y="17" width="1.12" height="1.15" fill="#f2f2fd"/>
<rect x="22" y="18" width="1.12" height="1.15" fill="#fef7f7"/>
<rect x="22" y="20" width="1.12" height="1.15" fill="#fef1f1"/>
<rect x="22" y="22" width="1.12" height="1.15" fill="#fdeae9"/>
<rect x="22" y="24" width="1.12" height="1.15" fill="#fde8e8"/>
<rect x="22" y="25" width="1.12" height="1.15" fill="#fef7f7"/>
<rect x="22" y="26" width="1.12" height="1.15" fill="#feefef"/>
<rect x="22" y="28" width="1.12" height="1.15" fill="#ebebfc"/>
<rect x="22" y="29" width="1.12" height="1.15" fill="#fde9e8"/>
<rect x="22" y="32" width="1.12" height="1.15" fill="#fef1f1"/>
<rect x="22" y="33" width="1.12" height="1.15" fill="#fef0f0"/>
<rect x="22" y="34" width="1.12" height="1.15" fill="#fef7f7"/>
<rect x="22" y="36" width="1.12" height="1.15" fill="#feeceb"/>
<rect x="22" y="37" width="1.12" height="1.15" fill="#fef2f2"/>
<rect x="22" y="38" width="1.12" height="1.15" fill="#fef5f4"/>
<rect x="22" y="39" width="1.12" height="1.15" fill="#fef0f0"/>
<rect x="22" y="40" width="1.12" height="2.15" fill="#feeeee"/>
<rect x="22" y="42" width="1.12" height="1.15" fill="#fdeaea"/>
<rect x="22" y="43" width="1.12" height="1.15" fill="#feebeb"/>
<rect x="22" y="45" width="1.12" height="1.15" fill="#feefee"/>
<rect x="22" y="47" width="1.12" height="1.15" fill="#feebeb"/>
<rect x="22" y="49" width="1.12" height="1.15" fill="#feefee"/>
<rect x="22" y="50" width="1.12" height="1.15" fill="#fde9e8"/>
<rect x="22" y="51" width="1.12" height="1.15" fill="#fef4f4"/>
<rect x="22" y="54" width="1.12" height="1.15" fill="#feedec"/>
<rect x="22" y="55" width="1.12" height="1.15" fill="#fef3f3"/>
<rect x="22" y="57" width="1.12" height="1.15" fill="#feefee"/>
<rect x="22" y="58" width="1.12" height="1.15" fill="#fef3f3"/>
<rect x="22" y="60" width="1.12" height="1.15" fill="#e1e1fb"/>
<rect x="22" y="61" width="1.12" height="1.15" fill="#e2e2fb"/>
<rect x="22" y="62" width="1.12" height="1.15" fill="#f1f1fd"/>
<rect x="22" y="63" width="1.12" height="1.15" fill="#e2e2fb"/>
<rect x="22" y="67" width="1.12" height="1.15" fill="#eaeafc"/>
<rect x="22" y="68" width="1.12" height="1.15" fill="#eeeefd"/>
<rect x="22" y="71" width="1.12" height="1.15" fill="#ebebfc"/>
<rect x="22" y="72" width="1.12" height="1.15" fill="#f4f4fe"/>
<rect x="23" y="0" width="1.12" height="1.15" fill="#ededfd"/>
<rect x="23" y="1" width="1.12" height="1.15" fill="#fef2f2"/>
<rect x="23" y="3" width="1.12" height="1.15" fill="#fef2f2"/>
<rect x="23" y="6" width="1.12" height="1.15" fill="#feeded"/>
<rect x="23" y="7" width="1.12" height="2.15" fill="#feefef"/>
<rect x="23" y="10" width="1.12" height="1.15" fill="#fef6f6"/>
<rect x="23" y="12" width="1.12" height="1.15" fill="#fef1f0"/>
<rect x="23" y="13" width="1.12" height="1.15" fill="#fef4f3"/>
<rect x="23" y="14" width="1.12" height="1.15" fill="#ededfd"/>
<rect x="23" y="15" width="1.12" height="1.15" fill="#fef2f2"/>
<rect x="23" y="20" width="1.12" height="1.15" fill="#fef3f3"/>
<rect x="23" y="21" width="1.12" height="1.15" fill="#fef7f7"/>
<rect x="23" y="23" width="1.12" height="1.15" fill="#feefee"/>
<rect x="23" y="25" width="1.12" height="1.15" fill="#fef8f8"/>
<rect x="23" y="26" width="1.12" height="1.15" fill="#fef4f4"/>
<rect x="23" y="27" width="1.12" height="1.15" fill="#fef3f3"/>
<rect x="23" y="28" width="1.12" height="1.15" fill="#fef0ef"/>
<rect x="23" y="29" width="1.12" height="1.15" fill="#fef5f5"/>
<rect x="23" y="33" width="1.12" height="1.15" fill="#feefee"/>
<rect x="23" y="35" width="1.12" height="1.15" fill="#feeeee"/>
<rect x="23" y="45" width="1.12" height="1.15" fill="#f1f1fd"/>
<rect x="23" y="46" width="1.12" height="1.15" fill="#fef6f6"/>
<rect x="23" y="48" width="1.12" height="1.15" fill="#f4f4fe"/>
<rect x="23" y="50" width="1.12" height="1.15" fill="#fef1f1"/>
<rect x="23" y="57" width="1.12" height="1.15" fill="#fef1f1"/>
<rect x="23" y="58" width="1.12" height="1.15" fill="#fef6f6"/>
<rect x="23" y="60" width="1.12" height="1.15" fill="#f3f3fd"/>
<rect x="23" y="62" width="1.12" height="1.15" fill="#f0f0fd"/>
<rect x="23" y="63" width="1.12" height="1.15" fill="#efeffd"/>
<rect x="23" y="64" width="1.12" height="1.15" fill="#e1e1fb"/>
<rect x="23" y="68" width="1.12" height="1.15" fill="#f4f4fe"/>
<rect x="23" y="72" width="1.12" height="1.15" fill="#e2e2fb"/>
<rect x="23" y="75" width="1.12" height="1.15" fill="#f3f3fd"/>
<rect x="23" y="76" width="1.12" height="1.15" fill="#e5e5fc"/>
<rect x="24" y="0" width="1.12" height="1.15" fill="#fef2f2"/>
<rect x="24" y="2" width="1.12" height="1.15" fill="#fdebea"/>
<rect x="24" y="3" width="1.12" height="1.15" fill="#fdeaea"/>
<rect x="24" y="4" width="1.12" height="1.15" fill="#fef7f7"/>
<rect x="24" y="5" width="1.12" height="1.15" fill="#fef2f1"/>
<rect x="24" y="11" width="1.12" height="1.15" fill="#fef3f3"/>
<rect x="24" y="12" width="1.12" height="1.15" fill="#feeceb"/>
<rect x="24" y="13" width="1.12" height="1.15" fill="#fef2f2"/>
<rect x="24" y="14" width="1.12" height="1.15" fill="#feeceb"/>
<rect x="24" y="16" width="1.12" height="1.15" fill="#fde9e8"/>
<rect x="24" y="17" width="1.12" height="1.15" fill="#fef2f2"/>
<rect x="24" y="20" width="1.12" height="1.15" fill="#fef5f4"/>
<rect x="24" y="21" width="1.12" height="1.15" fill="#feeeee"/>
<rect x="24" y="22" width="1.12" height="1.15" fill="#fef0f0"/>
<rect x="24" y="23" width="1.12" height="1.15" fill="#feefef"/>
<rect x="24" y="24" width="1.12" height="1.15" fill="#fde9e8"/>
<rect x="24" y="25" width="1.12" height="1.15" fill="#fef4f4"/>
<rect x="24" y="27" width="1.12" height="1.15" fill="#feeded"/>
<rect x="24" y="28" width="1.12" height="1.15" fill="#fef5f5"/>
<rect x="24" y="30" width="1.12" height="1.15" fill="#fef0ef"/>
<rect x="24" y="31" width="1.12" height="1.15" fill="#fef2f2"/>
<rect x="24" y="33" width="1.12" height="1.15" fill="#feedec"/>
<rect x="24" y="34" width="1.12" height="1.15" fill="#fef5f5"/>
<rect x="24" y="37" width="1.12" height="1.15" fill="#fde8e7"/>
<rect x="24" y="40" width="1.12" height="1.15" fill="#eaeafc"/>
<rect x="24" y="42" width="1.12" height="1.15" fill="#feecec"/>
<rect x="24" y="44" width="1.12" height="1.15" fill="#feeeee"/>
<rect x="24" y="46" width="1.12" height="1.15" fill="#fef3f3"/>
<rect x="24" y="49" width="1.12" height="1.15" fill="#feefee"/>
<rect x="24" y="55" width="1.12" height="1.15" fill="#fef0f0"/>
<rect x="24" y="56" width="1.12" height="1.15" fill="#fef2f2"/>
<rect x="24" y="58" width="1.12" height="1.15" fill="#fef7f7"/>
<rect x="24" y="62" width="1.12" height="1.15" fill="#eaeafc"/>
<rect x="24" y="63" width="1.12" height="1.15" fill="#e0e0fb"/>
<rect x="24" y="64" width="1.12" height="1.15" fill="#e6e6fc"/>
<rect x="24" y="67" width="1.12" height="1.15" fill="#e3e3fb"/>
<rect x="24" y="71" width="1.12" height="1.15" fill="#efeffd"/>
<rect x="25" y="0" width="1.12" height="1.15" fill="#e5e5fc"/>
<rect x="25" y="1" width="1.12" height="1.15" fill="#fef0ef"/>
<rect x="25" y="2" width="1.12" height="1.15" fill="#f0f0fd"/>
<rect x="25" y="8" width="1.12" height="1.15" fill="#e6e6fc"/>
<rect x="25" y="9" width="1.12" height="1.15" fill="#feeceb"/>
<rect x="25" y="11" width="1.12" height="1.15" fill="#ececfc"/>
<rect x="25" y="12" width="1.12" height="1.15" fill="#f1f1fd"/>
<rect x="25" y="15" width="1.12" height="1.15" fill="#ededfd"/>
<rect x="25" y="16" width="1.12" height="1.15" fill="#f2f2fd"/>
<rect x="25" y="17" width="1.12" height="1.15" fill="#efeffd"/>
<rect x="25" y="20" width="1.12" height="1.15" fill="#feeceb"/>
<rect x="25" y="23" width="1.12" height="1.15" fill="#f0f0fd"/>
<rect x="25" y="26" width="1.12" height="1.15" fill="#e7e7fc"/>
<rect x="25" y="27" width="1.12" height="1.15" fill="#ececfd"/>
<rect x="25" y="28" width="1.12" height="1.15" fill="#f3f3fd"/>
<rect x="25" y="31" width="1.12" height="1.15" fill="#ededfd"/>
<rect x="25" y="32" width="1.12" height="1.15" fill="#ebebfc"/>
<rect x="25" y="34" width="1.12" height="1.15" fill="#e7e7fc"/>
<rect x="25" y="38" width="1.12" height="1.15" fill="#eaeafc"/>
<rect x="25" y="40" width="1.12" height="1.15" fill="#e9e9fc"/>
<rect x="25" y="41" width="1.12" height="1.15" fill="#f0f0fd"/>
<rect x="25" y="43" width="1.12" height="2.15" fill="#ededfd"/>
<rect x="25" y="45" width="1.12" height="1.15" fill="#fef4f4"/>
<rect x="25" y="46" width="1.12" height="1.15" fill="#e8e8fc"/>
<rect x="25" y="47" width="1.12" height="1.15" fill="#ececfd"/>
<rect x="25" y="50" width="1.12" height="1.15" fill="#eaeafc"/>
<rect x="25" y="51" width="1.12" height="1.15" fill="#f6f6fe"/>
<rect x="25" y="52" width="1.12" height="1.15" fill="#e9e9fc"/>
<rect x="25" y="53" width="1.12" height="1.15" fill="#ededfd"/>
<rect x="25" y="54" width="1.12" height="1.15" fill="#ebebfc"/>
<rect x="25" y="56" width="1.12" height="1.15" fill="#ebebfc"/>
<rect x="25" y="58" width="1.12" height="1.15" fill="#fde8e7"/>
<rect x="25" y="62" width="1.12" height="1.15" fill="#e7e7fc"/>
<rect x="25" y="64" width="1.12" height="1.15" fill="#f3f3fd"/>
<rect x="25" y="65" width="1.12" height="1.15" fill="#f6f6fe"/>
<rect x="25" y="67" width="1.12" height="1.15" fill="#feeded"/>
<rect x="25" y="72" width="1.12" height="1.15" fill="#f1f1fd"/>
<rect x="25" y="75" width="1.12" height="1.15" fill="#f2f2fd"/>
<rect x="25" y="76" width="1.12" height="1.15" fill="#ebebfc"/>
<rect x="26" y="0" width="1.12" height="1.15" fill="#fef7f7"/>
<rect x="26" y="3" width="1.12" height="1.15" fill="#fef1f1"/>
<rect x="26" y="5" width="1.12" height="1.15" fill="#fef8f8"/>
<rect x="26" y="8" width="1.12" height="1.15" fill="#fef1f1"/>
<rect x="26" y="9" width="1.12" height="1.15" fill="#9090f0"/>
<rect x="26" y="10" width="1.12" height="1.15" fill="#8c8cf0"/>
<rect x="26" y="11" width="1.12" height="1.15" fill="#9292f0"/>
<rect x="26" y="12" width="1.12" height="1.15" fill="#8888ef"/>
<rect x="26" y="13" width="1.12" height="1.15" fill="#7878ed"/>
<rect x="26" y="14" width="1.12" height="1.15" fill="#8282ee"/>
<rect x="26" y="15" width="1.12" height="1.15" fill="#8585ef"/>
<rect x="26" y="16" width="1.12" height="1.15" fill="#9292f0"/>
<rect x="26" y="17" width="1.12" height="1.15" fill="#8787ef"/>
<rect x="26" y="18" width="1.12" height="1.15" fill="#7171ec"/>
<rect x="26" y="19" width="1.12" height="1.15" fill="#7c7cee"/>
<rect x="26" y="20" width="1.12" height="1.15" fill="#8585ef"/>
<rect x="26" y="21" width="1.12" height="1.15" fill="#8484ef"/>
<rect x="26" y="23" width="1.12" height="1.15" fill="#feefee"/>
<rect x="26" y="24" width="1.12" height="1.15" fill="#feeded"/>
<rect x="26" y="25" width="1.12" height="1.15" fill="#feeceb"/>
<rect x="26" y="26" width="1.12" height="1.15" fill="#fef5f4"/>
<rect x="26" y="27" width="1.12" height="1.15" fill="#fef2f1"/>
<rect x="26" y="28" width="1.12" height="1.15" fill="#fef1f0"/>
<rect x="26" y="30" width="1.12" height="1.15" fill="#fef8f8"/>
<rect x="26" y="31" width="1.12" height="1.15" fill="#fef5f5"/>
<rect x="26" y="33" width="1.12" height="1.15" fill="#feefee"/>
<rect x="26" y="34" width="1.12" height="1.15" fill="#feefef"/>
<rect x="26" y="35" width="1.12" height="1.15" fill="#f7f7fe"/>
<rect x="26" y="37" width="1.12" height="1.15" fill="#feeeed"/>
<rect x="26" y="40" width="1.12" height="1.15" fill="#fef3f3"/>
<rect x="26" y="41" width="1.12" height="1.15" fill="#feeceb"/>
<rect x="26" y="43" width="1.12" height="1.15" fill="#fef4f4"/>
<rect x="26" y="44" width="1.12" height="1.15" fill="#feecec"/>
<rect x="26" y="45" width="1.12" height="1.15" fill="#fef7f6"/>
<rect x="26" y="46" width="1.12" height="1.15" fill="#feefef"/>
<rect x="26" y="48" width="1.12" height="1.15" fill="#fef5f4"/>
<rect x="26" y="49" width="1.12" height="1.15" fill="#fef1f0"/>
<rect x="26" y="50" width="1.12" height="1.15" fill="#feeeee"/>
<rect x="26" y="51" width="1.12" height="1.15" fill="#feeceb"/>
<rect x="26" y="52" width="1.12" height="1.15" fill="#fef2f1"/>
<rect x="26" y="53" width="1.12" height="1.15" fill="#f2f2fd"/>
<rect x="26" y="54" width="1.12" height="1.15" fill="#fef6f5"/>
<rect x="26" y="55" width="1.12" height="1.15" fill="#fef2f2"/>
<rect x="26" y="56" width="1.12" height="1.15" fill="#f1f1fd"/>
<rect x="26" y="58" width="1.12" height="1.15" fill="#fef5f4"/>
<rect x="26" y="59" width="1.12" height="1.15" fill="#fef7f7"/>
<rect x="26" y="61" width="1.12" height="1.15" fill="#eeeefd"/>
<rect x="26" y="64" width="1.12" height="1.15" fill="#e0e0fb"/>
<rect x="26" y="67" width="1.12" height="1.15" fill="#e8e8fc"/>
<rect x="26" y="69" width="1.12" height="1.15" fill="#ededfd"/>
<rect x="27" y="0" width="1.12" height="1.15" fill="#efeffd"/>
<rect x="27" y="1" width="1.12" height="1.15" fill="#f3f3fd"/>
<rect x="27" y="2" width="1.12" height="1.15" fill="#ccccf8"/>
<rect x="27" y="3" width="1.12" height="1.15" fill="#cdcdf8"/>
<rect x="27" y="4" width="1.12" height="1.15" fill="#e3e3fb"/>
<rect x="27" y="5" width="1.12" height="1.15" fill="#d0d0f9"/>
<rect x="27" y="6" width="1.12" height="1.15" fill="#dbdbfa"/>
<rect x="27" y="7" width="1.12" height="1.15" fill="#d6d6fa"/>
<rect x="27" y="8" width="1.12" height="1.15" fill="#e0e0fb"/>
<rect x="27" y="9" width="1.12" height="1.15" fill="#dbdbfa"/>
<rect x="27" y="10" width="1.12" height="1.15" fill="#dcdcfa"/>
<rect x="27" y="11" width="1.12" height="1.15" fill="#dbdbfa"/>
<rect x="27" y="12" width="1.12" height="1.15" fill="#e8e8fc"/>
<rect x="27" y="13" width="1.12" height="1.15" fill="#b0b0f4"/>
<rect x="27" y="14" width="1.12" height="1.15" fill="#a2a2f3"/>
<rect x="27" y="15" width="1.12" height="1.15" fill="#b5b5f5"/>
<rect x="27" y="16" width="1.12" height="1.15" fill="#b1b1f5"/>
<rect x="27" y="17" width="1.12" height="1.15" fill="#9d9df2"/>
<rect x="27" y="18" width="1.12" height="1.15" fill="#adadf4"/>
<rect x="27" y="19" width="1.12" height="1.15" fill="#ababf4"/>
<rect x="27" y="20" width="1.12" height="1.15" fill="#aeaef4"/>
<rect x="27" y="21" width="1.12" height="1.15" fill="#9999f1"/>
<rect x="27" y="22" width="1.12" height="1.15" fill="#e6e6fc"/>
<rect x="27" y="23" width="1.12" height="1.15" fill="#d7d7fa"/>
<rect x="27" y="24" width="1.12" height="1.15" fill="#d1d1f9"/>
<rect x="27" y="25" width="1.12" height="1.15" fill="#e3e3fb"/>
<rect x="27" y="26" width="1.12" height="1.15" fill="#ddddfa"/>
<rect x="27" y="27" width="1.12" height="1.15" fill="#d3d3f9"/>
<rect x="27" y="28" width="1.12" height="1.15" fill="#d8d8fa"/>
<rect x="27" y="29" width="1.12" height="1.15" fill="#dedefb"/>
<rect x="27" y="30" width="1.12" height="1.15" fill="#e7e7fc"/>
<rect x="27" y="31" width="1.12" height="1.15" fill="#ddddfa"/>
<rect x="27" y="32" width="1.12" height="1.15" fill="#dfdffb"/>
<rect x="27" y="33" width="1.12" height="1.15" fill="#d5d5f9"/>
<rect x="27" y="34" width="1.12" height="1.15" fill="#e1e1fb"/>
<rect x="27" y="35" width="1.12" height="1.15" fill="#ddddfb"/>
<rect x="27" y="36" width="1.12" height="1.15" fill="#d7d7fa"/>
<rect x="27" y="37" width="1.12" height="1.15" fill="#d3d3f9"/>
<rect x="27" y="38" width="1.12" height="1.15" fill="#dfdffb"/>
<rect x="27" y="39" width="1.12" height="1.15" fill="#dedefb"/>
<rect x="27" y="40" width="1.12" height="1.15" fill="#d9d9fa"/>
<rect x="27" y="41" width="1.12" height="1.15" fill="#d0d0f9"/>
<rect x="27" y="42" width="1.12" height="1.15" fill="#e3e3fb"/>
<rect x="27" y="43" width="1.12" height="1.15" fill="#cecef9"/>
<rect x="27" y="44" width="1.12" height="1.15" fill="#d5d5f9"/>
<rect x="27" y="45" width="1.12" height="1.15" fill="#dedefb"/>
<rect x="27" y="46" width="1.12" height="1.15" fill="#d7d7fa"/>
<rect x="27" y="47" width="1.12" height="1.15" fill="#e0e0fb"/>
<rect x="27" y="48" width="1.12" height="1.15" fill="#e7e7fc"/>
<rect x="27" y="49" width="1.12" height="1.15" fill="#d4d4f9"/>
<rect x="27" y="50" width="1.12" height="1.15" fill="#dedefb"/>
<rect x="27" y="51" width="1.12" height="1.15" fill="#dadafa"/>
<rect x="27" y="52" width="1.12" height="1.15" fill="#dbdbfa"/>
<rect x="27" y="53" width="1.12" height="1.15" fill="#d0d0f9"/>
<rect x="27" y="54" width="1.12" height="1.15" fill="#d4d4f9"/>
<rect x="27" y="55" width="1.12" height="1.15" fill="#e8e8fc"/>
<rect x="27" y="56" width="1.12" height="1.15" fill="#d8d8fa"/>
<rect x="27" y="57" width="1.12" height="2.15" fill="#dcdcfa"/>
<rect x="27" y="59" width="1.12" height="1.15" fill="#d2d2f9"/>
<rect x="27" y="60" width="1.12" height="1.15" fill="#ddddfb"/>
<rect x="27" y="61" width="1.12" height="1.15" fill="#dcdcfa"/>
<rect x="27" y="62" width="1.12" height="1.15" fill="#d0d0f9"/>
<rect x="27" y="63" width="1.12" height="1.15" fill="#ddddfa"/>
<rect x="27" y="64" width="1.12" height="2.15" fill="#dbdbfa"/>
<rect x="27" y="66" width="1.12" height="1.15" fill="#d2d2f9"/>
<rect x="27" y="67" width="1.12" height="1.15" fill="#d6d6fa"/>
<rect x="27" y="68" width="1.12" height="1.15" fill="#d5d5f9"/>
<rect x="27" y="69" width="1.12" height="1.15" fill="#dedefb"/>
<rect x="27" y="70" width="1.12" height="1.15" fill="#e7e7fc"/>
<rect x="27" y="71" width="1.12" height="1.15" fill="#d6d6fa"/>
<rect x="27" y="72" width="1.12" height="1.15" fill="#dadafa"/>
<rect x="27" y="73" width="1.12" height="2.15" fill="#d4d4f9"/>
<rect x="28" y="3" width="1.12" height="1.15" fill="#eeeefd"/>
<rect x="28" y="4" width="1.12" height="1.15" fill="#fef6f6"/>
<rect x="28" y="5" width="1.12" height="1.15" fill="#f6f6fe"/>
<rect x="28" y="7" width="1.12" height="1.15" fill="#ebebfc"/>
<rect x="28" y="8" width="1.12" height="1.15" fill="#feefef"/>
<rect x="28" y="9" width="1.12" height="1.15" fill="#f6f6fe"/>
<rect x="28" y="10" width="1.12" height="1.15" fill="#ededfd"/>
<rect x="28" y="12" width="1.12" height="1.15" fill="#ececfc"/>
<rect x="28" y="17" width="1.12" height="1.15" fill="#ececfd"/>
<rect x="28" y="20" width="1.12" height="1.15" fill="#f6f6fe"/>
<rect x="28" y="22" width="1.12" height="1.15" fill="#ebebfc"/>
<rect x="28" y="25" width="1.12" height="1.15" fill="#ebebfc"/>
<rect x="28" y="27" width="1.12" height="1.15" fill="#f1f1fd"/>
<rect x="28" y="28" width="1.12" height="1.15" fill="#f6f6fe"/>
<rect x="28" y="30" width="1.12" height="1.15" fill="#fef2f2"/>
<rect x="28" y="31" width="1.12" height="1.15" fill="#fef4f4"/>
<rect x="28" y="33" width="1.12" height="1.15" fill="#f7f7fe"/>
<rect x="28" y="34" width="1.12" height="1.15" fill="#eaeafc"/>
<rect x="28" y="36" width="1.12" height="1.15" fill="#ececfd"/>
<rect x="28" y="37" width="1.12" height="1.15" fill="#ededfd"/>
<rect x="28" y="38" width="1.12" height="1.15" fill="#f7f7fe"/>
<rect x="28" y="39" width="1.12" height="1.15" fill="#efeffd"/>
<rect x="28" y="40" width="1.12" height="1.15" fill="#ededfd"/>
<rect x="28" y="41" width="1.12" height="1.15" fill="#ebebfc"/>
<rect x="28" y="42" width="1.12" height="2.15" fill="#f4f4fe"/>
<rect x="28" y="46" width="1.12" height="1.15" fill="#ececfc"/>
<rect x="28" y="48" width="1.12" height="1.15" fill="#f6f6fe"/>
<rect x="28" y="49" width="1.12" height="1.15" fill="#feebeb"/>
<rect x="28" y="50" width="1.12" height="1.15" fill="#eaeafc"/>
<rect x="28" y="51" width="1.12" height="1.15" fill="#f2f2fd"/>
<rect x="28" y="52" width="1.12" height="1.15" fill="#ececfc"/>
<rect x="28" y="55" width="1.12" height="1.15" fill="#ececfd"/>
<rect x="28" y="56" width="1.12" height="1.15" fill="#e9e9fc"/>
<rect x="28" y="58" width="1.12" height="1.15" fill="#fde6e5"/>
<rect x="28" y="63" width="1.12" height="1.15" fill="#eaeafc"/>
<rect x="28" y="66" width="1.12" height="1.15" fill="#ececfc"/>
<rect x="28" y="68" width="1.12" height="1.15" fill="#ededfd"/>
<rect x="29" y="0" width="1.12" height="1.15" fill="#fef2f2"/>
<rect x="29" y="4" width="1.12" height="1.15" fill="#feeeee"/>
<rect x="29" y="5" width="1.12" height="1.15" fill="#ebebfc"/>
<rect x="29" y="7" width="1.12" height="1.15" fill="#f1f1fd"/>
<rect x="29" y="8" width="1.12" height="1.15" fill="#fef8f8"/>
<rect x="29" y="10" width="1.12" height="1.15" fill="#fef2f2"/>
<rect x="29" y="12" width="1.12" height="1.15" fill="#fef2f2"/>
<rect x="29" y="15" width="1.12" height="1.15" fill="#feeceb"/>
<rect x="29" y="16" width="1.12" height="1.15" fill="#fef3f2"/>
<rect x="29" y="17" width="1.12" height="1.15" fill="#f6f6fe"/>
<rect x="29" y="19" width="1.12" height="1.15" fill="#fdebea"/>
<rect x="29" y="20" width="1.12" height="1.15" fill="#fef1f0"/>
<rect x="29" y="21" width="1.12" height="1.15" fill="#feeeee"/>
<rect x="29" y="23" width="1.12" height="1.15" fill="#fef2f2"/>
<rect x="29" y="24" width="1.12" height="1.15" fill="#fef6f6"/>
<rect x="29" y="25" width="1.12" height="1.15" fill="#feedec"/>
<rect x="29" y="26" width="1.12" height="1.15" fill="#f4f4fe"/>
<rect x="29" y="28" width="1.12" height="1.15" fill="#fef1f1"/>
<rect x="29" y="29" width="1.12" height="2.15" fill="#fef2f2"/>
<rect x="29" y="32" width="1.12" height="1.15" fill="#fef7f7"/>
<rect x="29" y="33" width="1.12" height="1.15" fill="#feefee"/>
<rect x="29" y="34" width="1.12" height="1.15" fill="#fef1f0"/>
<rect x="29" y="35" width="1.12" height="1.15" fill="#fef1f1"/>
<rect x="29" y="36" width="1.12" height="1.15" fill="#fef5f4"/>
<rect x="29" y="38" width="1.12" height="1.15" fill="#fef4f4"/>
<rect x="29" y="39" width="1.12" height="1.15" fill="#fef0ef"/>
<rect x="29" y="41" width="1.12" height="1.15" fill="#feeded"/>
<rect x="29" y="42" width="1.12" height="1.15" fill="#feeeed"/>
<rect x="29" y="45" width="1.12" height="1.15" fill="#f0f0fd"/>
<rect x="29" y="46" width="1.12" height="1.15" fill="#eeeefd"/>
<rect x="29" y="47" width="1.12" height="1.15" fill="#feefee"/>
<rect x="29" y="48" width="1.12" height="1.15" fill="#feecec"/>
<rect x="29" y="49" width="1.12" height="1.15" fill="#feebeb"/>
<rect x="29" y="50" width="1.12" height="1.15" fill="#fdeae9"/>
<rect x="29" y="51" width="1.12" height="1.15" fill="#fde7e7"/>
<rect x="29" y="52" width="1.12" height="1.15" fill="#fef0f0"/>
<rect x="29" y="57" width="1.12" height="1.15" fill="#fef1f0"/>
<rect x="29" y="58" width="1.12" height="1.15" fill="#fef0f0"/>
<rect x="29" y="62" width="1.12" height="1.15" fill="#e5e5fc"/>
<rect x="29" y="67" width="1.12" height="1.15" fill="#e4e4fb"/>
<rect x="29" y="68" width="1.12" height="1.15" fill="#e6e6fc"/>
<rect x="29" y="72" width="1.12" height="1.15" fill="#f4f4fe"/>
<rect x="29" y="73" width="1.12" height="1.15" fill="#e7e7fc"/>
<rect x="29" y="75" width="1.12" height="1.15" fill="#ebebfc"/>
<rect x="29" y="76" width="1.12" height="1.15" fill="#ececfc"/>
<rect x="30" y="0" width="1.12" height="1.15" fill="#f2f2fd"/>
<rect x="30" y="4" width="1.12" height="1.15" fill="#f3f3fd"/>
<rect x="30" y="7" width="1.12" height="1.15" fill="#eeeefd"/>
<rect x="30" y="8" width="1.12" height="1.15" fill="#ebebfc"/>
<rect x="30" y="10" width="1.12" height="1.15" fill="#f4f4fe"/>
<rect x="30" y="12" width="1.12" height="1.15" fill="#f7f7fe"/>
<rect x="30" y="14" width="1.12" height="2.15" fill="#f5f5fe"/>
<rect x="30" y="16" width="1.12" height="1.15" fill="#fef4f4"/>
<rect x="30" y="19" width="1.12" height="1.15" fill="#f3f3fd"/>
<rect x="30" y="21" width="1.12" height="1.15" fill="#fef6f6"/>
<rect x="30" y="22" width="1.12" height="1.15" fill="#ececfd"/>
<rect x="30" y="26" width="1.12" height="1.15" fill="#ececfc"/>
<rect x="30" y="27" width="1.12" height="1.15" fill="#f6f6fe"/>
<rect x="30" y="29" width="1.12" height="1.15" fill="#efeffd"/>
<rect x="30" y="32" width="1.12" height="1.15" fill="#f0f0fd"/>
<rect x="30" y="36" width="1.12" height="1.15" fill="#eeeefd"/>
<rect x="30" y="39" width="1.12" height="1.15" fill="#f1f1fd"/>
<rect x="30" y="42" width="1.12" height="1.15" fill="#ededfd"/>
<rect x="30" y="43" width="1.12" height="1.15" fill="#f6f6fe"/>
<rect x="30" y="44" width="1.12" height="1.15" fill="#feebeb"/>
<rect x="30" y="45" width="1.12" height="1.15" fill="#fef5f5"/>
<rect x="30" y="46" width="1.12" height="1.15" fill="#f2f2fd"/>
<rect x="30" y="47" width="1.12" height="1.15" fill="#f7f7fe"/>
<rect x="30" y="48" width="1.12" height="1.15" fill="#eeeefd"/>
<rect x="30" y="49" width="1.12" height="1.15" fill="#f6f6fe"/>
<rect x="30" y="50" width="1.12" height="1.15" fill="#feeeed"/>
<rect x="30" y="51" width="1.12" height="1.15" fill="#ececfc"/>
<rect x="30" y="54" width="1.12" height="1.15" fill="#f7f7fe"/>
<rect x="30" y="55" width="1.12" height="1.15" fill="#feecec"/>
<rect x="30" y="57" width="1.12" height="1.15" fill="#f1f1fd"/>
<rect x="30" y="59" width="1.12" height="1.15" fill="#f5f5fe"/>
<rect x="30" y="60" width="1.12" height="1.15" fill="#f6f6fe"/>
<rect x="30" y="61" width="1.12" height="1.15" fill="#feeded"/>
<rect x="30" y="67" width="1.12" height="1.15" fill="#f0f0fd"/>
<rect x="30" y="74" width="1.12" height="1.15" fill="#f5f5fe"/>
<rect x="31" y="0" width="1.12" height="1.15" fill="#fef3f3"/>
<rect x="31" y="1" width="1.12" height="1.15" fill="#fdeaea"/>
<rect x="31" y="2" width="1.12" height="1.15" fill="#f5f5fe"/>
<rect x="31" y="3" width="1.12" height="1.15" fill="#fef6f6"/>
<rect x="31" y="6" width="1.12" height="1.15" fill="#feeceb"/>
<rect x="31" y="9" width="1.12" height="1.15" fill="#fef1f0"/>
<rect x="31" y="11" width="1.12" height="1.15" fill="#fef3f2"/>
<rect x="31" y="13" width="1.12" height="1.15" fill="#fef3f3"/>
<rect x="31" y="14" width="1.12" height="1.15" fill="#feebeb"/>
<rect x="31" y="16" width="1.12" height="1.15" fill="#fdebea"/>
<rect x="31" y="17" width="1.12" height="1.15" fill="#fdeaea"/>
<rect x="31" y="24" width="1.12" height="1.15" fill="#fef6f6"/>
<rect x="31" y="26" width="1.12" height="1.15" fill="#fef6f6"/>
<rect x="31" y="30" width="1.12" height="1.15" fill="#fef6f5"/>
<rect x="31" y="31" width="1.12" height="1.15" fill="#fef5f4"/>
<rect x="31" y="33" width="1.12" height="1.15" fill="#fef2f1"/>
<rect x="31" y="34" width="1.12" height="1.15" fill="#fef7f7"/>
<rect x="31" y="35" width="1.12" height="1.15" fill="#fef1f1"/>
<rect x="31" y="37" width="1.12" height="1.15" fill="#ebebfc"/>
<rect x="31" y="39" width="1.12" height="2.15" fill="#fef0f0"/>
<rect x="31" y="41" width="1.12" height="1.15" fill="#fef3f3"/>
<rect x="31" y="43" width="1.12" height="1.15" fill="#feeceb"/>
<rect x="31" y="44" width="1.12" height="1.15" fill="#fdebea"/>
<rect x="31" y="45" width="1.12" height="1.15" fill="#fef1f1"/>
<rect x="31" y="46" width="1.12" height="1.15" fill="#fdeaea"/>
<rect x="31" y="48" width="1.12" height="1.15" fill="#fef8f7"/>
<rect x="31" y="49" width="1.12" height="1.15" fill="#fef6f5"/>
<rect x="31" y="50" width="1.12" height="1.15" fill="#fef0f0"/>
<rect x="31" y="53" width="1.12" height="1.15" fill="#fef1f1"/>
<rect x="31" y="54" width="1.12" height="1.15" fill="#fef0ef"/>
<rect x="31" y="55" width="1.12" height="1.15" fill="#fdeaea"/>
<rect x="31" y="58" width="1.12" height="1.15" fill="#feeeee"/>
<rect x="31" y="59" width="1.12" height="1.15" fill="#feecec"/>
<rect x="31" y="60" width="1.12" height="1.15" fill="#e4e4fb"/>
<rect x="31" y="65" width="1.12" height="1.15" fill="#e9e9fc"/>
<rect x="31" y="67" width="1.12" height="1.15" fill="#e2e2fb"/>
<rect x="31" y="69" width="1.12" height="1.15" fill="#e3e3fb"/>
<rect x="31" y="71" width="1.12" height="1.15" fill="#e3e3fb"/>
<rect x="31" y="75" width="1.12" height="1.15" fill="#f0f0fd"/>
<rect x="32" y="2" width="1.12" height="1.15" fill="#f4f4fe"/>
<rect x="32" y="4" width="1.12" height="1.15" fill="#ececfc"/>
<rect x="32" y="5" width="1.12" height="1.15" fill="#fef4f4"/>
<rect x="32" y="16" width="1.12" height="1.15" fill="#feeeee"/>
<rect x="32" y="20" width="1.12" height="1.15" fill="#fef7f6"/>
<rect x="32" y="21" width="1.12" height="1.15" fill="#feeeed"/>
<rect x="32" y="27" width="1.12" height="1.15" fill="#efeffd"/>
<rect x="32" y="28" width="1.12" height="1.15" fill="#4646e6"/>
<rect x="32" y="29" width="1.12" height="1.15" fill="#4444e6"/>
<rect x="32" y="30" width="1.12" height="1.15" fill="#4747e6"/>
<rect x="32" y="31" width="1.12" height="1.15" fill="#3636e4"/>
<rect x="32" y="32" width="1.12" height="1.15" fill="#4646e6"/>
<rect x="32" y="33" width="1.12" height="1.15" fill="#4747e6"/>
<rect x="32" y="34" width="1.12" height="1.15" fill="#3838e4"/>
<rect x="32" y="35" width="1.12" height="1.15" fill="#3c3ce5"/>
<rect x="32" y="36" width="1.12" height="1.15" fill="#4848e7"/>
<rect x="32" y="37" width="1.12" height="2.15" fill="#3939e5"/>
<rect x="32" y="39" width="1.12" height="1.15" fill="#3e3ee5"/>
<rect x="32" y="40" width="1.12" height="1.15" fill="#4848e7"/>
<rect x="32" y="41" width="1.12" height="1.15" fill="#3939e5"/>
<rect x="32" y="42" width="1.12" height="1.15" fill="#3f3fe5"/>
<rect x="32" y="43" width="1.12" height="1.15" fill="#3c3ce5"/>
<rect x="32" y="44" width="1.12" height="1.15" fill="#3232e4"/>
<rect x="32" y="45" width="1.12" height="1.15" fill="#3636e4"/>
<rect x="32" y="46" width="1.12" height="1.15" fill="#3535e4"/>
<rect x="32" y="47" width="1.12" height="1.15" fill="#4545e6"/>
<rect x="32" y="48" width="1.12" height="1.15" fill="#4141e6"/>
<rect x="32" y="49" width="1.12" height="1.15" fill="#3d3de5"/>
<rect x="32" y="50" width="1.12" height="1.15" fill="#4949e7"/>
<rect x="32" y="51" width="1.12" height="1.15" fill="#3333e4"/>
<rect x="32" y="52" width="1.12" height="2.15" fill="#4343e6"/>
<rect x="32" y="54" width="1.12" height="1.15" fill="#f6f6fe"/>
<rect x="32" y="55" width="1.12" height="1.15" fill="#eeeefd"/>
<rect x="32" y="56" width="1.12" height="1.15" fill="#efeffd"/>
<rect x="32" y="59" width="1.12" height="1.15" fill="#feeeed"/>
<rect x="32" y="60" width="1.12" height="1.15" fill="#eaeafc"/>
<rect x="32" y="61" width="1.12" height="1.15" fill="#f3f3fd"/>
<rect x="32" y="63" width="1.12" height="1.15" fill="#eeeefd"/>
<rect x="32" y="72" width="1.12" height="1.15" fill="#e5e5fb"/>
<rect x="32" y="76" width="1.12" height="1.15" fill="#f0f0fd"/>
<rect x="33" y="1" width="1.12" height="1.15" fill="#eeeefd"/>
<rect x="33" y="3" width="1.12" height="1.15" fill="#f6f6fe"/>
<rect x="33" y="4" width="1.12" height="1.15" fill="#f3f3fd"/>
<rect x="33" y="5" width="1.12" height="1.15" fill="#f1f1fd"/>
<rect x="33" y="6" width="1.12" height="2.15" fill="#efeffd"/>
<rect x="33" y="9" width="1.12" height="1.15" fill="#fef2f1"/>
<rect x="33" y="10" width="1.12" height="1.15" fill="#f3f3fd"/>
<rect x="33" y="13" width="1.12" height="1.15" fill="#ececfc"/>
<rect x="33" y="16" width="1.12" height="1.15" fill="#e6e6fc"/>
<rect x="33" y="17" width="1.12" height="1.15" fill="#ebebfc"/>
<rect x="33" y="18" width="1.12" height="1.15" fill="#feebeb"/>
<rect x="33" y="19" width="1.12" height="2.15" fill="#f2f2fd"/>
<rect x="33" y="21" width="1.12" height="1.15" fill="#e6e6fc"/>
<rect x="33" y="22" width="1.12" height="1.15" fill="#e9e9fc"/>
<rect x="33" y="24" width="1.12" height="1.15" fill="#fef3f3"/>
<rect x="33" y="25" width="1.12" height="1.15" fill="#e8e8fc"/>
<rect x="33" y="26" width="1.12" height="1.15" fill="#f3f3fd"/>
<rect x="33" y="29" width="1.12" height="1.15" fill="#fef2f1"/>
<rect x="33" y="30" width="1.12" height="1.15" fill="#ebebfc"/>
<rect x="33" y="31" width="1.12" height="1.15" fill="#efeffd"/>
<rect x="33" y="32" width="1.12" height="1.15" fill="#eaeafc"/>
<rect x="33" y="37" width="1.12" height="1.15" fill="#ececfc"/>
<rect x="33" y="38" width="1.12" height="1.15" fill="#4b4be7"/>
<rect x="33" y="39" width="1.12" height="1.15" fill="#4c4ce7"/>
<rect x="33" y="40" width="1.12" height="1.15" fill="#3e3ee5"/>
<rect x="33" y="41" width="1.12" height="1.15" fill="#4545e6"/>
<rect x="33" y="42" width="1.12" height="1.15" fill="#4646e6"/>
<rect x="33" y="43" width="1.12" height="1.15" fill="#4848e7"/>
<rect x="33" y="44" width="1.12" height="1.15" fill="#5151e8"/>
<rect x="33" y="45" width="1.12" height="1.15" fill="#7f7fee"/>
<rect x="33" y="46" width="1.12" height="1.15" fill="#6b6beb"/>
<rect x="33" y="47" width="1.12" height="1.15" fill="#6d6dec"/>
<rect x="33" y="48" width="1.12" height="1.15" fill="#6b6beb"/>
<rect x="33" y="49" width="1.12" height="1.15" fill="#8181ee"/>
<rect x="33" y="50" width="1.12" height="1.15" fill="#8383ee"/>
<rect x="33" y="51" width="1.12" height="1.15" fill="#8888ef"/>
<rect x="33" y="52" width="1.12" height="1.15" fill="#7777ed"/>
<rect x="33" y="53" width="1.12" height="1.15" fill="#7d7dee"/>
<rect x="33" y="55" width="1.12" height="1.15" fill="#f0f0fd"/>
<rect x="33" y="56" width="1.12" height="1.15" fill="#eaeafc"/>
<rect x="33" y="58" width="1.12" height="1.15" fill="#fef7f7"/>
<rect x="33" y="59" width="1.12" height="1.15" fill="#efeffd"/>
<rect x="33" y="61" width="1.12" height="1.15" fill="#e9e9fc"/>
<rect x="33" y="65" width="1.12" height="1.15" fill="#f4f4fe"/>
<rect x="33" y="66" width="1.12" height="1.15" fill="#f1f1fd"/>
<rect x="33" y="67" width="1.12" height="1.15" fill="#efeffd"/>
<rect x="33" y="68" width="1.12" height="1.15" fill="#f6f6fe"/>
<rect x="33" y="70" width="1.12" height="1.15" fill="#f3f3fd"/>
<rect x="33" y="72" width="1.12" height="1.15" fill="#e9e9fc"/>
<rect x="33" y="73" width="1.12" height="1.15" fill="#f5f5fe"/>
<rect x="34" y="3" width="1.12" height="1.15" fill="#f1f1fd"/>
<rect x="34" y="4" width="1.12" height="1.15" fill="#f3f3fd"/>
<rect x="34" y="6" width="1.12" height="1.15" fill="#f5f5fe"/>
<rect x="34" y="9" width="1.12" height="1.15" fill="#fef8f8"/>
<rect x="34" y="10" width="1.12" height="1.15" fill="#f5f5fe"/>
<rect x="34" y="11" width="1.12" height="1.15" fill="#eeeefd"/>
<rect x="34" y="15" width="1.12" height="1.15" fill="#fef1f1"/>
<rect x="34" y="16" width="1.12" height="1.15" fill="#ececfc"/>
<rect x="34" y="18" width="1.12" height="1.15" fill="#f1f1fd"/>
<rect x="34" y="19" width="1.12" height="1.15" fill="#ececfc"/>
<rect x="34" y="45" width="1.12" height="1.15" fill="#b2b2f5"/>
<rect x="34" y="46" width="1.12" height="1.15" fill="#a3a3f3"/>
<rect x="34" y="47" width="1.12" height="1.15" fill="#c0c0f7"/>
<rect x="34" y="48" width="1.12" height="1.15" fill="#b3b3f5"/>
<rect x="34" y="49" width="1.12" height="1.15" fill="#ababf4"/>
<rect x="34" y="50" width="1.12" height="1.15" fill="#c0c0f7"/>
<rect x="34" y="51" width="1.12" height="1.15" fill="#a3a3f3"/>
<rect x="34" y="52" width="1.12" height="1.15" fill="#c0c0f7"/>
<rect x="34" y="53" width="1.12" height="1.15" fill="#adadf4"/>
<rect x="34" y="54" width="1.12" height="1.15" fill="#bcbcf6"/>
<rect x="34" y="55" width="1.12" height="1.15" fill="#a1a1f2"/>
<rect x="34" y="56" width="1.12" height="1.15" fill="#aeaef4"/>
<rect x="34" y="57" width="1.12" height="1.15" fill="#a5a5f3"/>
<rect x="34" y="58" width="1.12" height="1.15" fill="#b0b0f5"/>
<rect x="34" y="59" width="1.12" height="2.15" fill="#aaaaf4"/>
<rect x="34" y="61" width="1.12" height="1.15" fill="#b8b8f5"/>
<rect x="34" y="62" width="1.12" height="1.15" fill="#f5f5fe"/>
<rect x="34" y="64" width="1.12" height="1.15" fill="#eaeafc"/>
<rect x="34" y="68" width="1.12" height="1.15" fill="#e3e3fb"/>
<rect x="34" y="69" width="1.12" height="1.15" fill="#8282ee"/>
<rect x="34" y="70" width="1.12" height="1.15" fill="#6c6ceb"/>
<rect x="34" y="71" width="1.12" height="1.15" fill="#e5e5fb"/>
<rect x="34" y="74" width="1.12" height="1.15" fill="#e5e5fc"/>
<rect x="34" y="76" width="1.12" height="1.15" fill="#e8e8fc"/>
<rect x="35" y="1" width="1.12" height="1.15" fill="#f0f0fd"/>
<rect x="35" y="2" width="1.12" height="1.15" fill="#f3f3fd"/>
<rect x="35" y="3" width="1.12" height="1.15" fill="#ececfc"/>
<rect x="35" y="4" width="1.12" height="1.15" fill="#ebebfc"/>
<rect x="35" y="5" width="1.12" height="1.15" fill="#f2f2fd"/>
<rect x="35" y="6" width="1.12" height="1.15" fill="#f4f4fe"/>
<rect x="35" y="7" width="1.12" height="1.15" fill="#f6f6fe"/>
<rect x="35" y="8" width="1.12" height="1.15" fill="#e8e8fc"/>
<rect x="35" y="9" width="1.12" height="1.15" fill="#f1f1fd"/>
<rect x="35" y="10" width="1.12" height="1.15" fill="#fef6f6"/>
<rect x="35" y="11" width="1.12" height="1.15" fill="#e7e7fc"/>
<rect x="35" y="12" width="1.12" height="1.15" fill="#eaeafc"/>
<rect x="35" y="13" width="1.12" height="1.15" fill="#efeffd"/>
<rect x="35" y="16" width="1.12" height="1.15" fill="#9090f0"/>
<rect x="35" y="17" width="1.12" height="1.15" fill="#7474ec"/>
<rect x="35" y="18" width="1.12" height="1.15" fill="#8e8ef0"/>
<rect x="35" y="19" width="1.12" height="2.15" fill="#9292f0"/>
<rect x="35" y="21" width="1.12" height="1.15" fill="#8d8df0"/>
<rect x="35" y="22" width="1.12" height="1.15" fill="#8888ef"/>
<rect x="35" y="23" width="1.12" height="1.15" fill="#8686ef"/>
<rect x="35" y="24" width="1.12" height="1.15" fill="#7e7eee"/>
<rect x="35" y="25" width="1.12" height="1.15" fill="#dbdbfa"/>
<rect x="35" y="26" width="1.12" height="1.15" fill="#c3c3f7"/>
<rect x="35" y="27" width="1.12" height="1.15" fill="#cbcbf8"/>
<rect x="35" y="28" width="1.12" height="1.15" fill="#b6b6f5"/>
<rect x="35" y="29" width="1.12" height="1.15" fill="#b9b9f6"/>
<rect x="35" y="30" width="1.12" height="1.15" fill="#a2a2f3"/>
<rect x="35" y="31" width="1.12" height="1.15" fill="#babaf6"/>
<rect x="35" y="32" width="1.12" height="1.15" fill="#9d9df2"/>
<rect x="35" y="33" width="1.12" height="1.15" fill="#b1b1f5"/>
<rect x="35" y="34" width="1.12" height="1.15" fill="#b3b3f5"/>
<rect x="35" y="35" width="1.12" height="1.15" fill="#a7a7f3"/>
<rect x="35" y="36" width="1.12" height="1.15" fill="#b0b0f4"/>
<rect x="35" y="37" width="1.12" height="1.15" fill="#a7a7f3"/>
<rect x="35" y="38" width="1.12" height="1.15" fill="#b6b6f5"/>
<rect x="35" y="39" width="1.12" height="1.15" fill="#9b9bf2"/>
<rect x="35" y="40" width="1.12" height="1.15" fill="#b0b0f4"/>
<rect x="35" y="41" width="1.12" height="1.15" fill="#9d9df2"/>
<rect x="35" y="42" width="1.12" height="1.15" fill="#b6b6f5"/>
<rect x="35" y="43" width="1.12" height="1.15" fill="#9f9ff2"/>
<rect x="35" y="44" width="1.12" height="1.15" fill="#9898f1"/>
<rect x="35" y="45" width="1.12" height="1.15" fill="#c4c4f7"/>
<rect x="35" y="46" width="1.12" height="1.15" fill="#babaf6"/>
<rect x="35" y="47" width="1.12" height="1.15" fill="#aeaef4"/>
<rect x="35" y="48" width="1.12" height="1.15" fill="#a4a4f3"/>
<rect x="35" y="49" width="1.12" height="1.15" fill="#b3b3f5"/>
<rect x="35" y="50" width="1.12" height="1.15" fill="#a8a8f3"/>
<rect x="35" y="51" width="1.12" height="1.15" fill="#b8b8f6"/>
<rect x="35" y="53" width="1.12" height="1.15" fill="#f5f5fe"/>
<rect x="35" y="55" width="1.12" height="1.15" fill="#f6f6fe"/>
<rect x="35" y="57" width="1.12" height="1.15" fill="#f4f4fe"/>
<rect x="35" y="59" width="1.12" height="1.15" fill="#f3f3fd"/>
<rect x="35" y="60" width="1.12" height="2.15" fill="#f2f2fd"/>
<rect x="35" y="65" width="1.12" height="1.15" fill="#f5f5fe"/>
<rect x="35" y="67" width="1.12" height="1.15" fill="#f2f2fd"/>
<rect x="35" y="70" width="1.12" height="1.15" fill="#f3f3fd"/>
<rect x="35" y="71" width="1.12" height="1.15" fill="#f7f7fe"/>
<rect x="35" y="76" width="1.12" height="1.15" fill="#f3f3fd"/>
<rect x="36" y="0" width="1.12" height="1.15" fill="#ececfd"/>
<rect x="36" y="2" width="1.12" height="1.15" fill="#c6c6f7"/>
<rect x="36" y="3" width="1.12" height="1.15" fill="#dcdcfa"/>
<rect x="36" y="4" width="1.12" height="1.15" fill="#c3c3f7"/>
<rect x="36" y="5" width="1.12" height="1.15" fill="#b6b6f5"/>
<rect x="36" y="6" width="1.12" height="1.15" fill="#a1a1f3"/>
<rect x="36" y="7" width="1.12" height="1.15" fill="#9494f1"/>
<rect x="36" y="8" width="1.12" height="1.15" fill="#ababf4"/>
<rect x="36" y="9" width="1.12" height="1.15" fill="#9595f1"/>
<rect x="36" y="10" width="1.12" height="1.15" fill="#9f9ff2"/>
<rect x="36" y="11" width="1.12" height="1.15" fill="#b5b5f5"/>
<rect x="36" y="12" width="1.12" height="1.15" fill="#ababf4"/>
<rect x="36" y="13" width="1.12" height="1.15" fill="#a7a7f3"/>
<rect x="36" y="14" width="1.12" height="1.15" fill="#aeaef4"/>
<rect x="36" y="15" width="1.12" height="1.15" fill="#6060ea"/>
<rect x="36" y="16" width="1.12" height="1.15" fill="#7979ed"/>
<rect x="36" y="17" width="1.12" height="1.15" fill="#5e5ee9"/>
<rect x="36" y="18" width="1.12" height="1.15" fill="#7474ec"/>
<rect x="36" y="19" width="1.12" height="1.15" fill="#7e7eee"/>
<rect x="36" y="20" width="1.12" height="1.15" fill="#6868eb"/>
<rect x="36" y="21" width="1.12" height="1.15" fill="#9090f0"/>
<rect x="36" y="22" width="1.12" height="1.15" fill="#7f7fee"/>
<rect x="36" y="23" width="1.12" height="1.15" fill="#5e5ee9"/>
<rect x="36" y="24" width="1.12" height="1.15" fill="#6666eb"/>
<rect x="36" y="25" width="1.12" height="1.15" fill="#6c6ceb"/>
<rect x="36" y="26" width="1.12" height="1.15" fill="#7f7fee"/>
<rect x="36" y="27" width="1.12" height="1.15" fill="#6a6aeb"/>
<rect x="36" y="28" width="1.12" height="1.15" fill="#7d7dee"/>
<rect x="36" y="29" width="1.12" height="1.15" fill="#6464ea"/>
<rect x="36" y="30" width="1.12" height="1.15" fill="#7b7bed"/>
<rect x="36" y="31" width="1.12" height="1.15" fill="#6767eb"/>
<rect x="36" y="32" width="1.12" height="1.15" fill="#7171ec"/>
<rect x="36" y="33" width="1.12" height="1.15" fill="#7070ec"/>
<rect x="36" y="34" width="1.12" height="1.15" fill="#6363ea"/>
<rect x="36" y="35" width="1.12" height="1.15" fill="#7a7aed"/>
<rect x="36" y="36" width="1.12" height="1.15" fill="#7979ed"/>
<rect x="36" y="37" width="1.12" height="1.15" fill="#5757e9"/>
<rect x="36" y="38" width="1.12" height="1.15" fill="#7272ec"/>
<rect x="36" y="39" width="1.12" height="1.15" fill="#5b5be9"/>
<rect x="36" y="40" width="1.12" height="1.15" fill="#5a5ae9"/>
<rect x="36" y="41" width="1.12" height="1.15" fill="#6b6beb"/>
<rect x="36" y="42" width="1.12" height="1.15" fill="#7a7aed"/>
<rect x="36" y="43" width="1.12" height="1.15" fill="#7d7dee"/>
<rect x="36" y="44" width="1.12" height="1.15" fill="#5959e9"/>
<rect x="36" y="45" width="1.12" height="1.15" fill="#a0a0f2"/>
<rect x="36" y="46" width="1.12" height="1.15" fill="#6b6beb"/>
<rect x="36" y="47" width="1.12" height="1.15" fill="#6969eb"/>
<rect x="36" y="48" width="1.12" height="1.15" fill="#7c7ced"/>
<rect x="36" y="49" width="1.12" height="1.15" fill="#6c6ceb"/>
<rect x="36" y="50" width="1.12" height="1.15" fill="#7a7aed"/>
<rect x="36" y="51" width="1.12" height="1.15" fill="#6969eb"/>
<rect x="36" y="52" width="1.12" height="1.15" fill="#6a6aeb"/>
<rect x="36" y="53" width="1.12" height="1.15" fill="#7070ec"/>
<rect x="36" y="54" width="1.12" height="1.15" fill="#7878ed"/>
<rect x="36" y="55" width="1.12" height="1.15" fill="#6f6fec"/>
<rect x="36" y="56" width="1.12" height="1.15" fill="#7878ed"/>
<rect x="36" y="57" width="1.12" height="1.15" fill="#7b7bed"/>
<rect x="36" y="58" width="1.12" height="1.15" fill="#a6a6f3"/>
<rect x="36" y="59" width="1.12" height="1.15" fill="#5a5ae9"/>
<rect x="36" y="60" width="1.12" height="1.15" fill="#6a6aeb"/>
<rect x="36" y="61" width="1.12" height="1.15" fill="#5959e9"/>
<rect x="36" y="62" width="1.12" height="1.15" fill="#8080ee"/>
<rect x="36" y="63" width="1.12" height="1.15" fill="#5757e9"/>
<rect x="36" y="64" width="1.12" height="1.15" fill="#6b6beb"/>
<rect x="36" y="65" width="1.12" height="1.15" fill="#5d5de9"/>
<rect x="36" y="66" width="1.12" height="1.15" fill="#6767eb"/>
<rect x="36" y="67" width="1.12" height="1.15" fill="#6262ea"/>
<rect x="36" y="68" width="1.12" height="1.15" fill="#7777ed"/>
<rect x="36" y="69" width="1.12" height="1.15" fill="#5f5fea"/>
<rect x="36" y="70" width="1.12" height="1.15" fill="#7a7aed"/>
<rect x="36" y="71" width="1.12" height="1.15" fill="#7575ed"/>
<rect x="36" y="72" width="1.12" height="1.15" fill="#8080ee"/>
<rect x="36" y="73" width="1.12" height="1.15" fill="#6f6fec"/>
<rect x="36" y="74" width="1.12" height="1.15" fill="#6a6aeb"/>
<rect x="36" y="75" width="1.12" height="1.15" fill="#c3c3f7"/>
<rect x="36" y="76" width="1.12" height="1.15" fill="#adadf4"/>
<rect x="37" y="8" width="1.12" height="1.15" fill="#3737e4"/>
<rect x="37" y="9" width="1.12" height="1.15" fill="#3030e3"/>
<rect x="37" y="10" width="1.12" height="1.15" fill="#4141e6"/>
<rect x="37" y="11" width="1.12" height="1.15" fill="#3737e4"/>
<rect x="37" y="15" width="1.12" height="1.15" fill="#4242e6"/>
<rect x="37" y="16" width="1.12" height="1.15" fill="#5151e8"/>
<rect x="37" y="17" width="1.12" height="1.15" fill="#3d3de5"/>
<rect x="37" y="18" width="1.12" height="1.15" fill="#6666eb"/>
<rect x="37" y="19" width="1.12" height="1.15" fill="#3c3ce5"/>
<rect x="37" y="20" width="1.12" height="1.15" fill="#5353e8"/>
<rect x="37" y="21" width="1.12" height="1.15" fill="#6d6dec"/>
<rect x="37" y="22" width="1.12" height="1.15" fill="#7a7aed"/>
<rect x="37" y="23" width="1.12" height="1.15" fill="#5b5be9"/>
<rect x="37" y="24" width="1.12" height="1.15" fill="#4545e6"/>
<rect x="37" y="25" width="1.12" height="1.15" fill="#4747e7"/>
<rect x="37" y="26" width="1.12" height="1.15" fill="#5f5fea"/>
<rect x="37" y="27" width="1.12" height="1.15" fill="#5757e9"/>
<rect x="37" y="28" width="1.12" height="1.15" fill="#6060ea"/>
<rect x="37" y="29" width="1.12" height="1.15" fill="#5d5de9"/>
<rect x="37" y="30" width="1.12" height="1.15" fill="#5c5ce9"/>
<rect x="37" y="31" width="1.12" height="1.15" fill="#5757e9"/>
<rect x="37" y="32" width="1.12" height="1.15" fill="#3a3ae5"/>
<rect x="37" y="33" width="1.12" height="1.15" fill="#3939e5"/>
<rect x="37" y="34" width="1.12" height="1.15" fill="#4242e6"/>
<rect x="37" y="35" width="1.12" height="2.15" fill="#5050e8"/>
<rect x="37" y="37" width="1.12" height="1.15" fill="#4343e6"/>
<rect x="37" y="38" width="1.12" height="1.15" fill="#3d3de5"/>
<rect x="37" y="39" width="1.12" height="1.15" fill="#4444e6"/>
<rect x="37" y="40" width="1.12" height="1.15" fill="#4949e7"/>
<rect x="37" y="41" width="1.12" height="1.15" fill="#5d5de9"/>
<rect x="37" y="42" width="1.12" height="1.15" fill="#4a4ae7"/>
<rect x="37" y="43" width="1.12" height="1.15" fill="#4040e6"/>
<rect x="37" y="44" width="1.12" height="1.15" fill="#4343e6"/>
<rect x="37" y="45" width="1.12" height="1.15" fill="#8e8ef0"/>
<rect x="37" y="46" width="1.12" height="1.15" fill="#4646e6"/>
<rect x="37" y="47" width="1.12" height="1.15" fill="#5656e9"/>
<rect x="37" y="48" width="1.12" height="1.15" fill="#5f5fea"/>
<rect x="37" y="49" width="1.12" height="1.15" fill="#3b3be5"/>
<rect x="37" y="50" width="1.12" height="1.15" fill="#4848e7"/>
<rect x="37" y="51" width="1.12" height="1.15" fill="#4444e6"/>
<rect x="37" y="52" width="1.12" height="1.15" fill="#6060ea"/>
<rect x="37" y="53" width="1.12" height="1.15" fill="#4141e6"/>
<rect x="37" y="54" width="1.12" height="1.15" fill="#3c3ce5"/>
<rect x="37" y="55" width="1.12" height="1.15" fill="#3d3de5"/>
<rect x="37" y="56" width="1.12" height="1.15" fill="#4444e6"/>
<rect x="37" y="57" width="1.12" height="1.15" fill="#4141e6"/>
<rect x="37" y="58" width="1.12" height="1.15" fill="#8484ef"/>
<rect x="37" y="59" width="1.12" height="1.15" fill="#4b4be7"/>
<rect x="37" y="60" width="1.12" height="1.15" fill="#5252e8"/>
<rect x="37" y="61" width="1.12" height="1.15" fill="#4141e6"/>
<rect x="37" y="62" width="1.12" height="1.15" fill="#4343e6"/>
<rect x="37" y="63" width="1.12" height="1.15" fill="#3f3fe5"/>
<rect x="37" y="64" width="1.12" height="1.15" fill="#5959e9"/>
<rect x="37" y="65" width="1.12" height="1.15" fill="#3b3be5"/>
<rect x="37" y="66" width="1.12" height="1.15" fill="#4e4ee7"/>
<rect x="37" y="67" width="1.12" height="1.15" fill="#3b3be5"/>
<rect x="37" y="68" width="1.12" height="1.15" fill="#6161ea"/>
<rect x="37" y="69" width="1.12" height="1.15" fill="#3a3ae5"/>
<rect x="37" y="70" width="1.12" height="1.15" fill="#4343e6"/>
<rect x="37" y="71" width="1.12" height="1.15" fill="#5b5be9"/>
<rect x="37" y="72" width="1.12" height="1.15" fill="#4040e6"/>
<rect x="37" y="73" width="1.12" height="1.15" fill="#5c5ce9"/>
<rect x="37" y="74" width="1.12" height="1.15" fill="#5d5de9"/>
<rect x="37" y="75" width="1.12" height="1.15" fill="#bdbdf6"/>
<rect x="37" y="76" width="1.12" height="1.15" fill="#c5c5f7"/>
<rect x="38" y="3" width="1.12" height="1.15" fill="#fef5f5"/>
<rect x="38" y="4" width="1.12" height="1.15" fill="#fef5f4"/>
<rect x="38" y="5" width="1.12" height="1.15" fill="#3939e5"/>
<rect x="38" y="6" width="1.12" height="1.15" fill="#3232e4"/>
<rect x="38" y="7" width="1.12" height="1.15" fill="#3636e4"/>
<rect x="38" y="8" width="1.12" height="1.15" fill="#3535e4"/>
<rect x="38" y="9" width="1.12" height="1.15" fill="#3b3be5"/>
<rect x="38" y="10" width="1.12" height="2.15" fill="#3434e4"/>
<rect x="38" y="15" width="1.12" height="1.15" fill="#5858e9"/>
<rect x="38" y="16" width="1.12" height="1.15" fill="#6767eb"/>
<rect x="38" y="17" width="1.12" height="1.15" fill="#4d4de7"/>
<rect x="38" y="18" width="1.12" height="1.15" fill="#4545e6"/>
<rect x="38" y="19" width="1.12" height="1.15" fill="#5b5be9"/>
<rect x="38" y="20" width="1.12" height="1.15" fill="#5050e8"/>
<rect x="38" y="21" width="1.12" height="1.15" fill="#6161ea"/>
<rect x="38" y="22" width="1.12" height="1.15" fill="#6262ea"/>
<rect x="38" y="23" width="1.12" height="1.15" fill="#6a6aeb"/>
<rect x="38" y="24" width="1.12" height="1.15" fill="#5454e8"/>
<rect x="38" y="25" width="1.12" height="1.15" fill="#6a6aeb"/>
<rect x="38" y="26" width="1.12" height="1.15" fill="#6666eb"/>
<rect x="38" y="27" width="1.12" height="1.15" fill="#4646e6"/>
<rect x="38" y="28" width="1.12" height="1.15" fill="#5858e9"/>
<rect x="38" y="29" width="1.12" height="1.15" fill="#4f4fe8"/>
<rect x="38" y="30" width="1.12" height="1.15" fill="#5656e8"/>
<rect x="38" y="31" width="1.12" height="1.15" fill="#5b5be9"/>
<rect x="38" y="32" width="1.12" height="1.15" fill="#6161ea"/>
<rect x="38" y="33" width="1.12" height="1.15" fill="#5b5be9"/>
<rect x="38" y="34" width="1.12" height="1.15" fill="#4444e6"/>
<rect x="38" y="35" width="1.12" height="1.15" fill="#4f4fe7"/>
<rect x="38" y="36" width="1.12" height="1.15" fill="#5d5de9"/>
<rect x="38" y="37" width="1.12" height="1.15" fill="#6767eb"/>
<rect x="38" y="38" width="1.12" height="1.15" fill="#5e5eea"/>
<rect x="38" y="39" width="1.12" height="1.15" fill="#4b4be7"/>
<rect x="38" y="40" width="1.12" height="1.15" fill="#5757e9"/>
<rect x="38" y="41" width="1.12" height="1.15" fill="#4d4de7"/>
<rect x="38" y="42" width="1.12" height="1.15" fill="#4646e6"/>
<rect x="38" y="43" width="1.12" height="1.15" fill="#6565ea"/>
<rect x="38" y="44" width="1.12" height="1.15" fill="#4c4ce7"/>
<rect x="38" y="45" width="1.12" height="1.15" fill="#9393f1"/>
<rect x="38" y="46" width="1.12" height="1.15" fill="#4545e6"/>
<rect x="38" y="47" width="1.12" height="1.15" fill="#6262ea"/>
<rect x="38" y="48" width="1.12" height="1.15" fill="#5e5eea"/>
<rect x="38" y="49" width="1.12" height="1.15" fill="#3f3fe5"/>
<rect x="38" y="50" width="1.12" height="1.15" fill="#5a5ae9"/>
<rect x="38" y="51" width="1.12" height="1.15" fill="#6060ea"/>
<rect x="38" y="52" width="1.12" height="1.15" fill="#4242e6"/>
<rect x="38" y="53" width="1.12" height="1.15" fill="#4f4fe8"/>
<rect x="38" y="54" width="1.12" height="1.15" fill="#4242e6"/>
<rect x="38" y="55" width="1.12" height="1.15" fill="#5959e9"/>
<rect x="38" y="56" width="1.12" height="1.15" fill="#5454e8"/>
<rect x="38" y="57" width="1.12" height="1.15" fill="#3f3fe5"/>
<rect x="38" y="58" width="1.12" height="1.15" fill="#9090f0"/>
<rect x="38" y="59" width="1.12" height="1.15" fill="#3e3ee5"/>
<rect x="38" y="60" width="1.12" height="1.15" fill="#6262ea"/>
<rect x="38" y="61" width="1.12" height="1.15" fill="#4545e6"/>
<rect x="38" y="62" width="1.12" height="1.15" fill="#6363ea"/>
<rect x="38" y="63" width="1.12" height="1.15" fill="#5353e8"/>
<rect x="38" y="66" width="1.12" height="1.15" fill="#f6f6fe"/>
<rect x="38" y="76" width="1.12" height="1.15" fill="#f7f7fe"/>
<rect x="39" y="1" width="1.12" height="1.15" fill="#4848e7"/>
<rect x="39" y="2" width="1.12" height="1.15" fill="#e3e3fb"/>
<rect x="39" y="4" width="1.12" height="1.15" fill="#e4e4fb"/>
<rect x="39" y="5" width="1.12" height="1.15" fill="#7b7bed"/>
<rect x="39" y="6" width="1.12" height="1.15" fill="#6363ea"/>
<rect x="39" y="7" width="1.12" height="1.15" fill="#7e7eee"/>
<rect x="39" y="8" width="1.12" height="1.15" fill="#7171ec"/>
<rect x="39" y="9" width="1.12" height="1.15" fill="#7272ec"/>
<rect x="39" y="10" width="1.12" height="1.15" fill="#7e7eee"/>
<rect x="39" y="11" width="1.12" height="1.15" fill="#7777ed"/>
<rect x="39" y="12" width="1.12" height="1.15" fill="#7070ec"/>
<rect x="39" y="13" width="1.12" height="1.15" fill="#6666eb"/>
<rect x="39" y="14" width="1.12" height="1.15" fill="#7878ed"/>
<rect x="39" y="15" width="1.12" height="1.15" fill="#7e7eee"/>
<rect x="39" y="16" width="1.12" height="1.15" fill="#6363ea"/>
<rect x="39" y="17" width="1.12" height="1.15" fill="#8c8cf0"/>
<rect x="39" y="18" width="1.12" height="1.15" fill="#6969eb"/>
<rect x="39" y="19" width="1.12" height="1.15" fill="#7070ec"/>
<rect x="39" y="20" width="1.12" height="1.15" fill="#7575ed"/>
<rect x="39" y="21" width="1.12" height="1.15" fill="#8e8ef0"/>
<rect x="39" y="22" width="1.12" height="1.15" fill="#8383ee"/>
<rect x="39" y="23" width="1.12" height="1.15" fill="#6666eb"/>
<rect x="39" y="24" width="1.12" height="1.15" fill="#6e6eec"/>
<rect x="39" y="25" width="1.12" height="1.15" fill="#6d6dec"/>
<rect x="39" y="26" width="1.12" height="1.15" fill="#8d8df0"/>
<rect x="39" y="27" width="1.12" height="1.15" fill="#8080ee"/>
<rect x="39" y="28" width="1.12" height="1.15" fill="#8888ef"/>
<rect x="39" y="29" width="1.12" height="1.15" fill="#6464ea"/>
<rect x="39" y="30" width="1.12" height="1.15" fill="#6666eb"/>
<rect x="39" y="31" width="1.12" height="1.15" fill="#8888ef"/>
<rect x="39" y="32" width="1.12" height="1.15" fill="#7474ec"/>
<rect x="39" y="33" width="1.12" height="1.15" fill="#7575ed"/>
<rect x="39" y="34" width="1.12" height="1.15" fill="#8c8cf0"/>
<rect x="39" y="35" width="1.12" height="1.15" fill="#7d7dee"/>
<rect x="39" y="36" width="1.12" height="1.15" fill="#6d6dec"/>
<rect x="39" y="37" width="1.12" height="1.15" fill="#7272ec"/>
<rect x="39" y="38" width="1.12" height="1.15" fill="#8282ee"/>
<rect x="39" y="39" width="1.12" height="1.15" fill="#6c6ceb"/>
<rect x="39" y="40" width="1.12" height="1.15" fill="#8181ee"/>
<rect x="39" y="41" width="1.12" height="1.15" fill="#7676ed"/>
<rect x="39" y="42" width="1.12" height="1.15" fill="#7c7ced"/>
<rect x="39" y="43" width="1.12" height="1.15" fill="#6262ea"/>
<rect x="39" y="44" width="1.12" height="1.15" fill="#7171ec"/>
<rect x="39" y="45" width="1.12" height="1.15" fill="#9494f1"/>
<rect x="39" y="46" width="1.12" height="1.15" fill="#7070ec"/>
<rect x="39" y="47" width="1.12" height="1.15" fill="#7d7dee"/>
<rect x="39" y="48" width="1.12" height="1.15" fill="#6363ea"/>
<rect x="39" y="49" width="1.12" height="2.15" fill="#6f6fec"/>
<rect x="39" y="51" width="1.12" height="1.15" fill="#8282ee"/>
<rect x="39" y="52" width="1.12" height="1.15" fill="#8787ef"/>
<rect x="39" y="53" width="1.12" height="1.15" fill="#7575ed"/>
<rect x="39" y="54" width="1.12" height="1.15" fill="#6969eb"/>
<rect x="39" y="55" width="1.12" height="1.15" fill="#bfbff6"/>
<rect x="39" y="56" width="1.12" height="1.15" fill="#cbcbf8"/>
<rect x="39" y="57" width="1.12" height="1.15" fill="#d0d0f9"/>
<rect x="39" y="58" width="1.12" height="1.15" fill="#c6c6f7"/>
<rect x="39" y="59" width="1.12" height="1.15" fill="#bdbdf6"/>
<rect x="39" y="60" width="1.12" height="1.15" fill="#d0d0f9"/>
<rect x="39" y="61" width="1.12" height="1.15" fill="#c0c0f7"/>
<rect x="39" y="62" width="1.12" height="1.15" fill="#d0d0f9"/>
<rect x="39" y="63" width="1.12" height="1.15" fill="#ccccf8"/>
<rect x="39" y="64" width="1.12" height="1.15" fill="#d3d3f9"/>
<rect x="39" y="65" width="1.12" height="1.15" fill="#ccccf8"/>
<rect x="39" y="66" width="1.12" height="1.15" fill="#cacaf8"/>
<rect x="39" y="67" width="1.12" height="2.15" fill="#babaf6"/>
<rect x="39" y="69" width="1.12" height="1.15" fill="#cfcff9"/>
<rect x="39" y="70" width="1.12" height="1.15" fill="#ccccf8"/>
<rect x="39" y="71" width="1.12" height="1.15" fill="#bbbbf6"/>
<rect x="39" y="72" width="1.12" height="1.15" fill="#cfcff9"/>
<rect x="39" y="73" width="1.12" height="1.15" fill="#ccccf8"/>
<rect x="39" y="74" width="1.12" height="1.15" fill="#c8c8f8"/>
<rect x="39" y="75" width="1.12" height="1.15" fill="#d1d1f9"/>
<rect x="39" y="76" width="1.12" height="1.15" fill="#cdcdf8"/>
<rect x="40" y="0" width="1.12" height="1.15" fill="#fbc6c5"/>
<rect x="40" y="1" width="1.12" height="1.15" fill="#fbc7c5"/>
<rect x="40" y="2" width="1.12" height="1.15" fill="#f7908d"/>
<rect x="40" y="3" width="1.12" height="1.15" fill="#f8a19e"/>
<rect x="40" y="4" width="1.12" height="1.15" fill="#f8a2a0"/>
<rect x="40" y="5" width="1.12" height="1.15" fill="#f7918e"/>
<rect x="40" y="6" width="1.12" height="1.15" fill="#f89c9a"/>
<rect x="40" y="7" width="1.12" height="1.15" fill="#f79390"/>
<rect x="40" y="8" width="1.12" height="1.15" fill="#f79895"/>
<rect x="40" y="9" width="1.12" height="1.15" fill="#f79492"/>
<rect x="40" y="10" width="1.12" height="1.15" fill="#f89f9d"/>
<rect x="40" y="11" width="1.12" height="1.15" fill="#f8a3a1"/>
<rect x="40" y="12" width="1.12" height="1.15" fill="#f79592"/>
<rect x="40" y="13" width="1.12" height="1.15" fill="#f89c99"/>
<rect x="40" y="14" width="1.12" height="1.15" fill="#f79a97"/>
<rect x="40" y="15" width="1.12" height="1.15" fill="#f79794"/>
<rect x="40" y="16" width="1.12" height="1.15" fill="#f79592"/>
<rect x="40" y="17" width="1.12" height="1.15" fill="#f8a09e"/>
<rect x="40" y="18" width="1.12" height="1.15" fill="#f89e9c"/>
<rect x="40" y="19" width="1.12" height="1.15" fill="#f7918e"/>
<rect x="40" y="20" width="1.12" height="1.15" fill="#afaff4"/>
<rect x="40" y="21" width="1.12" height="1.15" fill="#c3c3f7"/>
<rect x="40" y="22" width="1.12" height="1.15" fill="#b8b8f6"/>
<rect x="40" y="23" width="1.12" height="1.15" fill="#b9b9f6"/>
<rect x="40" y="24" width="1.12" height="1.15" fill="#a6a6f3"/>
<rect x="40" y="25" width="1.12" height="1.15" fill="#c1c1f7"/>
<rect x="40" y="26" width="1.12" height="1.15" fill="#a4a4f3"/>
<rect x="40" y="27" width="1.12" height="1.15" fill="#aeaef4"/>
<rect x="40" y="28" width="1.12" height="1.15" fill="#b6b6f5"/>
<rect x="40" y="29" width="1.12" height="1.15" fill="#a0a0f2"/>
<rect x="40" y="30" width="1.12" height="2.15" fill="#b9b9f6"/>
<rect x="40" y="32" width="1.12" height="1.15" fill="#c0c0f7"/>
<rect x="40" y="33" width="1.12" height="1.15" fill="#afaff4"/>
<rect x="40" y="34" width="1.12" height="1.15" fill="#a7a7f3"/>
<rect x="40" y="35" width="1.12" height="1.15" fill="#aaaaf4"/>
<rect x="40" y="36" width="1.12" height="1.15" fill="#b3b3f5"/>
<rect x="40" y="37" width="1.12" height="1.15" fill="#a5a5f3"/>
<rect x="40" y="38" width="1.12" height="1.15" fill="#bebef6"/>
<rect x="40" y="39" width="1.12" height="1.15" fill="#b7b7f5"/>
<rect x="40" y="40" width="1.12" height="1.15" fill="#ababf4"/>
<rect x="40" y="41" width="1.12" height="1.15" fill="#9f9ff2"/>
<rect x="40" y="42" width="1.12" height="1.15" fill="#ababf4"/>
<rect x="40" y="43" width="1.12" height="1.15" fill="#a9a9f4"/>
<rect x="40" y="44" width="1.12" height="1.15" fill="#a6a6f3"/>
<rect x="40" y="45" width="1.12" height="1.15" fill="#c9c9f8"/>
<rect x="40" y="46" width="1.12" height="1.15" fill="#a0a0f2"/>
<rect x="40" y="47" width="1.12" height="1.15" fill="#a8a8f3"/>
<rect x="40" y="48" width="1.12" height="1.15" fill="#b6b6f5"/>
<rect x="40" y="49" width="1.12" height="1.15" fill="#b4b4f5"/>
<rect x="40" y="50" width="1.12" height="1.15" fill="#f89f9c"/>
<rect x="40" y="51" width="1.12" height="1.15" fill="#f8a8a6"/>
<rect x="40" y="52" width="1.12" height="1.15" fill="#f9aba9"/>
<rect x="40" y="53" width="1.12" height="1.15" fill="#f89e9b"/>
<rect x="40" y="54" width="1.12" height="1.15" fill="#f8a4a2"/>
<rect x="40" y="55" width="1.12" height="1.15" fill="#f8a5a2"/>
<rect x="40" y="56" width="1.12" height="1.15" fill="#f8a29f"/>
<rect x="40" y="57" width="1.12" height="1.15" fill="#f89d9b"/>
<rect x="40" y="58" width="1.12" height="1.15" fill="#f47370"/>
<rect x="40" y="59" width="1.12" height="1.15" fill="#f8a8a6"/>
<rect x="40" y="60" width="1.12" height="1.15" fill="#f9aeac"/>
<rect x="40" y="61" width="1.12" height="1.15" fill="#f8a7a5"/>
<rect x="40" y="62" width="1.12" height="1.15" fill="#f8a5a3"/>
<rect x="40" y="63" width="1.12" height="1.15" fill="#f89e9c"/>
<rect x="40" y="64" width="1.12" height="1.15" fill="#f8a29f"/>
<rect x="40" y="65" width="1.12" height="1.15" fill="#f8a3a1"/>
<rect x="40" y="66" width="1.12" height="1.15" fill="#f8a7a5"/>
<rect x="40" y="67" width="1.12" height="1.15" fill="#f8a4a1"/>
<rect x="40" y="68" width="1.12" height="1.15" fill="#f9aaa7"/>
<rect x="40" y="69" width="1.12" height="1.15" fill="#f89e9c"/>
<rect x="40" y="70" width="1.12" height="1.15" fill="#f89f9d"/>
<rect x="40" y="71" width="1.12" height="1.15" fill="#f89e9c"/>
<rect x="40" y="72" width="1.12" height="1.15" fill="#f9acaa"/>
<rect x="40" y="73" width="1.12" height="1.15" fill="#f8a29f"/>
<rect x="40" y="74" width="1.12" height="1.15" fill="#f8a09e"/>
<rect x="40" y="75" width="1.12" height="1.15" fill="#f8a5a3"/>
<rect x="40" y="76" width="1.12" height="1.15" fill="#f89d9b"/>
<rect x="41" y="0" width="1.12" height="1.15" fill="#fac0bf"/>
<rect x="41" y="1" width="1.12" height="1.15" fill="#fbc5c4"/>
<rect x="41" y="2" width="1.12" height="1.15" fill="#9999f1"/>
<rect x="41" y="3" width="1.12" height="1.15" fill="#a0a0f2"/>
<rect x="41" y="4" width="1.12" height="1.15" fill="#9797f1"/>
<rect x="41" y="5" width="1.12" height="1.15" fill="#b2b2f5"/>
<rect x="41" y="6" width="1.12" height="2.15" fill="#9e9ef2"/>
<rect x="41" y="8" width="1.12" height="1.15" fill="#a1a1f2"/>
<rect x="41" y="9" width="1.12" height="1.15" fill="#adadf4"/>
<rect x="41" y="10" width="1.12" height="1.15" fill="#b5b5f5"/>
<rect x="41" y="11" width="1.12" height="1.15" fill="#a1a1f3"/>
<rect x="41" y="12" width="1.12" height="1.15" fill="#9999f1"/>
<rect x="41" y="13" width="1.12" height="1.15" fill="#adadf4"/>
<rect x="41" y="14" width="1.12" height="2.15" fill="#afaff4"/>
<rect x="41" y="16" width="1.12" height="1.15" fill="#b4b4f5"/>
<rect x="41" y="17" width="1.12" height="1.15" fill="#9f9ff2"/>
<rect x="41" y="18" width="1.12" height="1.15" fill="#9494f1"/>
<rect x="41" y="19" width="1.12" height="1.15" fill="#9a9af2"/>
<rect x="41" y="20" width="1.12" height="1.15" fill="#aaaaf4"/>
<rect x="41" y="21" width="1.12" height="1.15" fill="#acacf4"/>
<rect x="41" y="22" width="1.12" height="1.15" fill="#a9a9f3"/>
<rect x="41" y="23" width="1.12" height="1.15" fill="#7e7eee"/>
<rect x="41" y="24" width="1.12" height="1.15" fill="#9090f0"/>
<rect x="41" y="25" width="1.12" height="1.15" fill="#9c9cf2"/>
<rect x="41" y="26" width="1.12" height="1.15" fill="#8585ef"/>
<rect x="41" y="27" width="1.12" height="1.15" fill="#9797f1"/>
<rect x="41" y="28" width="1.12" height="1.15" fill="#9292f0"/>
<rect x="41" y="29" width="1.12" height="1.15" fill="#9a9af2"/>
<rect x="41" y="30" width="1.12" height="1.15" fill="#8c8cf0"/>
<rect x="41" y="31" width="1.12" height="1.15" fill="#8888ef"/>
<rect x="41" y="32" width="1.12" height="1.15" fill="#7f7fee"/>
<rect x="41" y="33" width="1.12" height="1.15" fill="#9b9bf2"/>
<rect x="41" y="34" width="1.12" height="1.15" fill="#7e7eee"/>
<rect x="41" y="35" width="1.12" height="1.15" fill="#9898f1"/>
<rect x="41" y="36" width="1.12" height="1.15" fill="#9494f1"/>
<rect x="41" y="37" width="1.12" height="1.15" fill="#8585ef"/>
<rect x="41" y="38" width="1.12" height="2.15" fill="#9090f0"/>
<rect x="41" y="40" width="1.12" height="1.15" fill="#8888ef"/>
<rect x="41" y="41" width="1.12" height="1.15" fill="#9494f1"/>
<rect x="41" y="42" width="1.12" height="1.15" fill="#7f7fee"/>
<rect x="41" y="43" width="1.12" height="1.15" fill="#9494f1"/>
<rect x="41" y="44" width="1.12" height="1.15" fill="#7e7eee"/>
<rect x="41" y="45" width="1.12" height="1.15" fill="#a3a3f3"/>
<rect x="41" y="46" width="1.12" height="1.15" fill="#8989ef"/>
<rect x="41" y="47" width="1.12" height="1.15" fill="#9b9bf2"/>
<rect x="41" y="48" width="1.12" height="1.15" fill="#8080ee"/>
<rect x="41" y="49" width="1.12" height="1.15" fill="#9b9bf2"/>
<rect x="41" y="50" width="1.12" height="1.15" fill="#8a8aef"/>
<rect x="41" y="51" width="1.12" height="1.15" fill="#8d8df0"/>
<rect x="41" y="52" width="1.12" height="1.15" fill="#9a9af1"/>
<rect x="41" y="53" width="1.12" height="1.15" fill="#8585ef"/>
<rect x="41" y="54" width="1.12" height="1.15" fill="#8282ee"/>
<rect x="41" y="55" width="1.12" height="1.15" fill="#b5b5f5"/>
<rect x="41" y="56" width="1.12" height="1.15" fill="#babaf6"/>
<rect x="41" y="57" width="1.12" height="1.15" fill="#b7b7f5"/>
<rect x="41" y="58" width="1.12" height="1.15" fill="#cfcff9"/>
<rect x="41" y="59" width="1.12" height="1.15" fill="#bebef6"/>
<rect x="41" y="60" width="1.12" height="1.15" fill="#adadf4"/>
<rect x="41" y="61" width="1.12" height="1.15" fill="#aaaaf4"/>
<rect x="41" y="62" width="1.12" height="1.15" fill="#afaff4"/>
<rect x="41" y="63" width="1.12" height="1.15" fill="#ababf4"/>
<rect x="41" y="64" width="1.12" height="1.15" fill="#bcbcf6"/>
<rect x="41" y="65" width="1.12" height="1.15" fill="#aaaaf4"/>
<rect x="41" y="66" width="1.12" height="1.15" fill="#c3c3f7"/>
<rect x="41" y="67" width="1.12" height="1.15" fill="#b8b8f5"/>
<rect x="41" y="68" width="1.12" height="1.15" fill="#c1c1f7"/>
<rect x="41" y="69" width="1.12" height="1.15" fill="#b8b8f6"/>
<rect x="41" y="70" width="1.12" height="1.15" fill="#b2b2f5"/>
<rect x="41" y="71" width="1.12" height="1.15" fill="#b1b1f5"/>
<rect x="41" y="72" width="1.12" height="1.15" fill="#b8b8f6"/>
<rect x="41" y="73" width="1.12" height="1.15" fill="#bbbbf6"/>
<rect x="41" y="74" width="1.12" height="1.15" fill="#bfbff7"/>
<rect x="41" y="75" width="1.12" height="1.15" fill="#babaf6"/>
<rect x="41" y="76" width="1.12" height="1.15" fill="#bdbdf6"/>
<rect x="42" y="0" width="1.12" height="1.15" fill="#fde1e0"/>
<rect x="42" y="1" width="1.12" height="1.15" fill="#fbcfce"/>
<rect x="42" y="2" width="1.12" height="1.15" fill="#fef5f5"/>
<rect x="42" y="3" width="1.12" height="1.15" fill="#fef6f6"/>
<rect x="42" y="5" width="1.12" height="1.15" fill="#fef3f2"/>
<rect x="42" y="7" width="1.12" height="1.15" fill="#fef8f8"/>
<rect x="42" y="8" width="1.12" height="1.15" fill="#fef4f4"/>
<rect x="42" y="9" width="1.12" height="1.15" fill="#fef3f2"/>
<rect x="42" y="10" width="1.12" height="1.15" fill="#feefef"/>
<rect x="42" y="11" width="1.12" height="1.15" fill="#fef2f2"/>
<rect x="42" y="12" width="1.12" height="1.15" fill="#fef0ef"/>
<rect x="42" y="13" width="1.12" height="1.15" fill="#fef0f0"/>
<rect x="42" y="14" width="1.12" height="2.15" fill="#fef2f2"/>
<rect x="42" y="19" width="1.12" height="1.15" fill="#fef1f0"/>
<rect x="42" y="20" width="1.12" height="1.15" fill="#fef2f2"/>
<rect x="42" y="21" width="1.12" height="1.15" fill="#8787ef"/>
<rect x="42" y="22" width="1.12" height="1.15" fill="#9595f1"/>
<rect x="42" y="23" width="1.12" height="1.15" fill="#7f7fee"/>
<rect x="42" y="24" width="1.12" height="1.15" fill="#8787ef"/>
<rect x="42" y="25" width="1.12" height="1.15" fill="#7272ec"/>
<rect x="42" y="26" width="1.12" height="1.15" fill="#6262ea"/>
<rect x="42" y="27" width="1.12" height="1.15" fill="#8181ee"/>
<rect x="42" y="28" width="1.12" height="1.15" fill="#8d8df0"/>
<rect x="42" y="29" width="1.12" height="1.15" fill="#8787ef"/>
<rect x="42" y="30" width="1.12" height="1.15" fill="#7f7fee"/>
<rect x="42" y="31" width="1.12" height="1.15" fill="#6666eb"/>
<rect x="42" y="32" width="1.12" height="1.15" fill="#6a6aeb"/>
<rect x="42" y="33" width="1.12" height="1.15" fill="#7a7aed"/>
<rect x="42" y="34" width="1.12" height="2.15" fill="#8a8aef"/>
<rect x="42" y="36" width="1.12" height="1.15" fill="#8888ef"/>
<rect x="42" y="37" width="1.12" height="1.15" fill="#6c6ceb"/>
<rect x="42" y="38" width="1.12" height="1.15" fill="#7979ed"/>
<rect x="42" y="39" width="1.12" height="1.15" fill="#6262ea"/>
<rect x="42" y="40" width="1.12" height="1.15" fill="#6565eb"/>
<rect x="42" y="41" width="1.12" height="1.15" fill="#6b6beb"/>
<rect x="42" y="42" width="1.12" height="1.15" fill="#7979ed"/>
<rect x="42" y="43" width="1.12" height="1.15" fill="#6a6aeb"/>
<rect x="42" y="44" width="1.12" height="1.15" fill="#8989ef"/>
<rect x="42" y="45" width="1.12" height="1.15" fill="#aaaaf4"/>
<rect x="42" y="46" width="1.12" height="1.15" fill="#7575ed"/>
<rect x="42" y="47" width="1.12" height="1.15" fill="#7878ed"/>
<rect x="42" y="48" width="1.12" height="1.15" fill="#8585ef"/>
<rect x="42" y="49" width="1.12" height="1.15" fill="#8383ee"/>
<rect x="42" y="50" width="1.12" height="1.15" fill="#8e8ef0"/>
<rect x="42" y="51" width="1.12" height="1.15" fill="#6666eb"/>
<rect x="42" y="52" width="1.12" height="1.15" fill="#6f6fec"/>
<rect x="42" y="53" width="1.12" height="1.15" fill="#6464ea"/>
<rect x="42" y="54" width="1.12" height="1.15" fill="#6262ea"/>
<rect x="42" y="55" width="1.12" height="1.15" fill="#7b7bed"/>
<rect x="42" y="56" width="1.12" height="1.15" fill="#6e6eec"/>
<rect x="42" y="57" width="1.12" height="1.15" fill="#7d7dee"/>
<rect x="42" y="58" width="1.12" height="1.15" fill="#9e9ef2"/>
<rect x="42" y="59" width="1.12" height="1.15" fill="#6969eb"/>
<rect x="42" y="60" width="1.12" height="1.15" fill="#8888ef"/>
<rect x="42" y="61" width="1.12" height="1.15" fill="#8e8ef0"/>
<rect x="42" y="62" width="1.12" height="1.15" fill="#8585ef"/>
<rect x="42" y="63" width="1.12" height="1.15" fill="#7474ec"/>
<rect x="42" y="64" width="1.12" height="1.15" fill="#7d7dee"/>
<rect x="42" y="65" width="1.12" height="1.15" fill="#8e8ef0"/>
<rect x="42" y="66" width="1.12" height="1.15" fill="#6969eb"/>
<rect x="42" y="67" width="1.12" height="1.15" fill="#6b6beb"/>
<rect x="42" y="68" width="1.12" height="1.15" fill="#7a7aed"/>
<rect x="42" y="69" width="1.12" height="1.15" fill="#8d8df0"/>
<rect x="42" y="70" width="1.12" height="1.15" fill="#6666eb"/>
<rect x="42" y="71" width="1.12" height="1.15" fill="#7676ed"/>
<rect x="42" y="72" width="1.12" height="1.15" fill="#8b8bf0"/>
<rect x="42" y="73" width="1.12" height="1.15" fill="#8080ee"/>
<rect x="42" y="74" width="1.12" height="1.15" fill="#7272ec"/>
<rect x="42" y="75" width="1.12" height="1.15" fill="#6767eb"/>
<rect x="42" y="76" width="1.12" height="1.15" fill="#7979ed"/>
<rect x="43" y="0" width="1.12" height="1.15" fill="#f2f2fd"/>
<rect x="43" y="1" width="1.12" height="1.15" fill="#e7e7fc"/>
<rect x="43" y="2" width="1.12" height="1.15" fill="#7272ec"/>
<rect x="43" y="3" width="1.12" height="1.15" fill="#8585ef"/>
<rect x="43" y="4" width="1.12" height="1.15" fill="#8484ef"/>
<rect x="43" y="5" width="1.12" height="1.15" fill="#6666eb"/>
<rect x="43" y="6" width="1.12" height="1.15" fill="#7d7dee"/>
<rect x="43" y="7" width="1.12" height="1.15" fill="#8a8aef"/>
<rect x="43" y="8" width="1.12" height="1.15" fill="#7474ec"/>
<rect x="43" y="9" width="1.12" height="1.15" fill="#8989ef"/>
<rect x="43" y="10" width="1.12" height="1.15" fill="#8686ef"/>
<rect x="43" y="11" width="1.12" height="1.15" fill="#7a7aed"/>
<rect x="43" y="12" width="1.12" height="1.15" fill="#7474ec"/>
<rect x="43" y="13" width="1.12" height="1.15" fill="#7272ec"/>
<rect x="43" y="14" width="1.12" height="1.15" fill="#6f6fec"/>
<rect x="43" y="15" width="1.12" height="1.15" fill="#7b7bed"/>
<rect x="43" y="16" width="1.12" height="1.15" fill="#8b8bf0"/>
<rect x="43" y="17" width="1.12" height="1.15" fill="#6e6eec"/>
<rect x="43" y="18" width="1.12" height="1.15" fill="#8c8cf0"/>
<rect x="43" y="19" width="1.12" height="1.15" fill="#7979ed"/>
<rect x="43" y="20" width="1.12" height="1.15" fill="#7c7cee"/>
<rect x="43" y="21" width="1.12" height="1.15" fill="#8686ef"/>
<rect x="43" y="22" width="1.12" height="2.15" fill="#8484ef"/>
<rect x="43" y="24" width="1.12" height="1.15" fill="#7171ec"/>
<rect x="43" y="25" width="1.12" height="1.15" fill="#6f6fec"/>
<rect x="43" y="26" width="1.12" height="1.15" fill="#7979ed"/>
<rect x="43" y="27" width="1.12" height="1.15" fill="#8888ef"/>
<rect x="43" y="28" width="1.12" height="1.15" fill="#6666eb"/>
<rect x="43" y="29" width="1.12" height="1.15" fill="#7474ec"/>
<rect x="43" y="30" width="1.12" height="1.15" fill="#8c8cf0"/>
<rect x="43" y="31" width="1.12" height="1.15" fill="#8484ef"/>
<rect x="43" y="32" width="1.12" height="1.15" fill="#6262ea"/>
<rect x="43" y="33" width="1.12" height="1.15" fill="#8484ef"/>
<rect x="43" y="34" width="1.12" height="1.15" fill="#7d7dee"/>
<rect x="43" y="35" width="1.12" height="1.15" fill="#6b6beb"/>
<rect x="43" y="36" width="1.12" height="1.15" fill="#6969eb"/>
<rect x="43" y="37" width="1.12" height="1.15" fill="#7272ec"/>
<rect x="43" y="38" width="1.12" height="1.15" fill="#6d6dec"/>
<rect x="43" y="39" width="1.12" height="1.15" fill="#8d8df0"/>
<rect x="43" y="40" width="1.12" height="1.15" fill="#8a8aef"/>
<rect x="43" y="41" width="1.12" height="1.15" fill="#6363ea"/>
<rect x="43" y="42" width="1.12" height="1.15" fill="#6a6aeb"/>
<rect x="43" y="43" width="1.12" height="1.15" fill="#8d8df0"/>
<rect x="43" y="44" width="1.12" height="1.15" fill="#8c8cf0"/>
<rect x="43" y="45" width="1.12" height="1.15" fill="#a6a6f3"/>
<rect x="43" y="46" width="1.12" height="1.15" fill="#6565ea"/>
<rect x="43" y="47" width="1.12" height="1.15" fill="#8585ef"/>
<rect x="43" y="48" width="1.12" height="1.15" fill="#7070ec"/>
<rect x="43" y="49" width="1.12" height="1.15" fill="#6565ea"/>
<rect x="43" y="50" width="1.12" height="1.15" fill="#7272ec"/>
<rect x="43" y="51" width="1.12" height="1.15" fill="#6565ea"/>
<rect x="43" y="52" width="1.12" height="1.15" fill="#8383ee"/>
<rect x="43" y="53" width="1.12" height="1.15" fill="#8888ef"/>
<rect x="43" y="54" width="1.12" height="1.15" fill="#8e8ef0"/>
<rect x="43" y="55" width="1.12" height="1.15" fill="#6c6ceb"/>
<rect x="43" y="56" width="1.12" height="1.15" fill="#8a8aef"/>
<rect x="43" y="57" width="1.12" height="1.15" fill="#6363ea"/>
<rect x="43" y="58" width="1.12" height="1.15" fill="#a1a1f2"/>
<rect x="43" y="59" width="1.12" height="1.15" fill="#8686ef"/>
<rect x="43" y="60" width="1.12" height="1.15" fill="#6a6aeb"/>
<rect x="43" y="61" width="1.12" height="1.15" fill="#8787ef"/>
<rect x="43" y="62" width="1.12" height="1.15" fill="#7777ed"/>
<rect x="43" y="63" width="1.12" height="1.15" fill="#8a8aef"/>
<rect x="43" y="64" width="1.12" height="1.15" fill="#6b6beb"/>
<rect x="43" y="65" width="1.12" height="1.15" fill="#6666eb"/>
<rect x="43" y="66" width="1.12" height="1.15" fill="#6565eb"/>
<rect x="43" y="67" width="1.12" height="1.15" fill="#8e8ef0"/>
<rect x="43" y="68" width="1.12" height="1.15" fill="#6868eb"/>
<rect x="43" y="69" width="1.12" height="1.15" fill="#7575ed"/>
<rect x="43" y="70" width="1.12" height="1.15" fill="#6a6aeb"/>
<rect x="43" y="71" width="1.12" height="1.15" fill="#7878ed"/>
<rect x="43" y="72" width="1.12" height="1.15" fill="#7373ec"/>
<rect x="43" y="73" width="1.12" height="1.15" fill="#7474ec"/>
<rect x="43" y="74" width="1.12" height="1.15" fill="#6b6beb"/>
<rect x="43" y="75" width="1.12" height="1.15" fill="#8b8bf0"/>
<rect x="43" y="76" width="1.12" height="1.15" fill="#8c8cf0"/>
<rect x="44" y="0" width="1.12" height="1.15" fill="#fef7f7"/>
<rect x="44" y="1" width="1.12" height="1.15" fill="#fef2f2"/>
<rect x="44" y="2" width="1.12" height="1.15" fill="#7676ed"/>
<rect x="44" y="3" width="1.12" height="1.15" fill="#8181ee"/>
<rect x="44" y="4" width="1.12" height="1.15" fill="#7d7dee"/>
<rect x="44" y="5" width="1.12" height="1.15" fill="#8e8ef0"/>
<rect x="44" y="6" width="1.12" height="1.15" fill="#6d6dec"/>
<rect x="44" y="7" width="1.12" height="1.15" fill="#8d8df0"/>
<rect x="44" y="8" width="1.12" height="1.15" fill="#6969eb"/>
<rect x="44" y="9" width="1.12" height="1.15" fill="#6a6aeb"/>
<rect x="44" y="10" width="1.12" height="1.15" fill="#7a7aed"/>
<rect x="44" y="11" width="1.12" height="1.15" fill="#8989ef"/>
<rect x="44" y="12" width="1.12" height="1.15" fill="#7171ec"/>
<rect x="44" y="13" width="1.12" height="1.15" fill="#8585ef"/>
<rect x="44" y="14" width="1.12" height="1.15" fill="#7b7bed"/>
<rect x="44" y="15" width="1.12" height="1.15" fill="#8a8aef"/>
<rect x="44" y="16" width="1.12" height="1.15" fill="#6363ea"/>
<rect x="44" y="17" width="1.12" height="1.15" fill="#7676ed"/>
<rect x="44" y="18" width="1.12" height="1.15" fill="#7f7fee"/>
<rect x="44" y="19" width="1.12" height="1.15" fill="#8a8aef"/>
<rect x="44" y="20" width="1.12" height="1.15" fill="#6e6eec"/>
<rect x="44" y="21" width="1.12" height="2.15" fill="#7f7fee"/>
<rect x="44" y="23" width="1.12" height="1.15" fill="#8a8aef"/>
<rect x="44" y="24" width="1.12" height="1.15" fill="#7e7eee"/>
<rect x="44" y="25" width="1.12" height="1.15" fill="#8181ee"/>
<rect x="44" y="26" width="1.12" height="1.15" fill="#6c6ceb"/>
<rect x="44" y="27" width="1.12" height="1.15" fill="#8888ef"/>
<rect x="44" y="28" width="1.12" height="1.15" fill="#7373ec"/>
<rect x="44" y="29" width="1.12" height="1.15" fill="#6262ea"/>
<rect x="44" y="30" width="1.12" height="1.15" fill="#6c6ceb"/>
<rect x="44" y="31" width="1.12" height="1.15" fill="#8e8ef0"/>
<rect x="44" y="32" width="1.12" height="1.15" fill="#8b8bf0"/>
<rect x="44" y="33" width="1.12" height="1.15" fill="#8989ef"/>
<rect x="44" y="34" width="1.12" height="1.15" fill="#6f6fec"/>
<rect x="44" y="35" width="1.12" height="1.15" fill="#7474ec"/>
<rect x="44" y="36" width="1.12" height="1.15" fill="#7777ed"/>
<rect x="44" y="37" width="1.12" height="1.15" fill="#7a7aed"/>
<rect x="44" y="38" width="1.12" height="1.15" fill="#7c7cee"/>
<rect x="44" y="39" width="1.12" height="1.15" fill="#7373ec"/>
<rect x="44" y="40" width="1.12" height="1.15" fill="#7171ec"/>
<rect x="44" y="41" width="1.12" height="1.15" fill="#6565eb"/>
<rect x="44" y="42" width="1.12" height="1.15" fill="#6e6eec"/>
<rect x="44" y="43" width="1.12" height="1.15" fill="#6b6beb"/>
<rect x="44" y="44" width="1.12" height="1.15" fill="#6565eb"/>
<rect x="44" y="45" width="1.12" height="1.15" fill="#9393f1"/>
<rect x="44" y="46" width="1.12" height="1.15" fill="#6e6eec"/>
<rect x="44" y="47" width="1.12" height="1.15" fill="#8d8df0"/>
<rect x="44" y="48" width="1.12" height="1.15" fill="#7070ec"/>
<rect x="44" y="49" width="1.12" height="1.15" fill="#6868eb"/>
<rect x="44" y="50" width="1.12" height="1.15" fill="#7b7bed"/>
<rect x="44" y="51" width="1.12" height="1.15" fill="#6767eb"/>
<rect x="44" y="52" width="1.12" height="1.15" fill="#8686ef"/>
<rect x="44" y="53" width="1.12" height="1.15" fill="#6464ea"/>
<rect x="44" y="54" width="1.12" height="1.15" fill="#7b7bed"/>
<rect x="44" y="55" width="1.12" height="1.15" fill="#6f6fec"/>
<rect x="44" y="56" width="1.12" height="1.15" fill="#8383ee"/>
<rect x="44" y="57" width="1.12" height="1.15" fill="#8181ee"/>
<rect x="44" y="58" width="1.12" height="1.15" fill="#acacf4"/>
<rect x="44" y="59" width="1.12" height="1.15" fill="#8080ee"/>
<rect x="44" y="60" width="1.12" height="1.15" fill="#8a8aef"/>
<rect x="44" y="61" width="1.12" height="1.15" fill="#7b7bed"/>
<rect x="44" y="62" width="1.12" height="1.15" fill="#6262ea"/>
<rect x="44" y="63" width="1.12" height="1.15" fill="#7171ec"/>
<rect x="44" y="64" width="1.12" height="1.15" fill="#6565ea"/>
<rect x="44" y="65" width="1.12" height="1.15" fill="#6c6ceb"/>
<rect x="44" y="67" width="1.12" height="1.15" fill="#6262ea"/>
<rect x="44" y="68" width="1.12" height="1.15" fill="#6d6deb"/>
<rect x="44" y="69" width="1.12" height="1.15" fill="#8282ee"/>
<rect x="44" y="70" width="1.12" height="1.15" fill="#8383ef"/>
<rect x="44" y="71" width="1.12" height="1.15" fill="#7c7cee"/>
<rect x="44" y="72" width="1.12" height="1.15" fill="#8e8ef0"/>
<rect x="44" y="73" width="1.12" height="1.15" fill="#8484ef"/>
<rect x="44" y="74" width="1.12" height="1.15" fill="#6767eb"/>
<rect x="44" y="75" width="1.12" height="1.15" fill="#6565ea"/>
<rect x="44" y="76" width="1.12" height="1.15" fill="#8080ee"/>
<rect x="45" y="2" width="1.12" height="1.15" fill="#fef6f6"/>
<rect x="45" y="3" width="1.12" height="1.15" fill="#fef2f1"/>
<rect x="45" y="4" width="1.12" height="1.15" fill="#f89e9c"/>
<rect x="45" y="5" width="1.12" height="1.15" fill="#f89c99"/>
<rect x="45" y="6" width="1.12" height="1.15" fill="#f89e9c"/>
<rect x="45" y="7" width="1.12" height="1.15" fill="#f8a4a2"/>
<rect x="45" y="8" width="1.12" height="1.15" fill="#f9aeac"/>
<rect x="45" y="9" width="1.12" height="1.15" fill="#f89d9b"/>
<rect x="45" y="10" width="1.12" height="1.15" fill="#f9a9a7"/>
<rect x="45" y="11" width="1.12" height="1.15" fill="#f8a2a0"/>
<rect x="45" y="12" width="1.12" height="1.15" fill="#7e7eee"/>
<rect x="45" y="13" width="1.12" height="1.15" fill="#7676ed"/>
<rect x="45" y="14" width="1.12" height="1.15" fill="#6363ea"/>
<rect x="45" y="15" width="1.12" height="1.15" fill="#8787ef"/>
<rect x="45" y="16" width="1.12" height="1.15" fill="#7777ed"/>
<rect x="45" y="17" width="1.12" height="1.15" fill="#7171ec"/>
<rect x="45" y="18" width="1.12" height="1.15" fill="#7676ed"/>
<rect x="45" y="19" width="1.12" height="1.15" fill="#6464ea"/>
<rect x="45" y="20" width="1.12" height="2.15" fill="#7c7cee"/>
<rect x="45" y="22" width="1.12" height="1.15" fill="#8585ef"/>
<rect x="45" y="23" width="1.12" height="1.15" fill="#6363ea"/>
<rect x="45" y="24" width="1.12" height="1.15" fill="#8a8aef"/>
<rect x="45" y="25" width="1.12" height="1.15" fill="#8585ef"/>
<rect x="45" y="26" width="1.12" height="1.15" fill="#8282ee"/>
<rect x="45" y="27" width="1.12" height="1.15" fill="#6666eb"/>
<rect x="45" y="28" width="1.12" height="1.15" fill="#8e8ef0"/>
<rect x="45" y="29" width="1.12" height="1.15" fill="#8383ee"/>
<rect x="45" y="30" width="1.12" height="1.15" fill="#6e6eec"/>
<rect x="45" y="31" width="1.12" height="1.15" fill="#6262ea"/>
<rect x="45" y="32" width="1.12" height="1.15" fill="#8787ef"/>
<rect x="45" y="33" width="1.12" height="1.15" fill="#7b7bed"/>
<rect x="45" y="34" width="1.12" height="1.15" fill="#7070ec"/>
<rect x="45" y="35" width="1.12" height="1.15" fill="#6f6fec"/>
<rect x="45" y="36" width="1.12" height="1.15" fill="#6d6dec"/>
<rect x="45" y="37" width="1.12" height="1.15" fill="#6d6deb"/>
<rect x="45" y="38" width="1.12" height="1.15" fill="#8383ef"/>
<rect x="45" y="39" width="1.12" height="1.15" fill="#8383ee"/>
<rect x="45" y="40" width="1.12" height="1.15" fill="#8d8df0"/>
<rect x="45" y="41" width="1.12" height="1.15" fill="#6f6fec"/>
<rect x="45" y="42" width="1.12" height="1.15" fill="#8585ef"/>
<rect x="45" y="43" width="1.12" height="1.15" fill="#8383ee"/>
<rect x="45" y="44" width="1.12" height="1.15" fill="#6363ea"/>
<rect x="45" y="45" width="1.12" height="1.15" fill="#9999f1"/>
<rect x="45" y="46" width="1.12" height="1.15" fill="#7474ec"/>
<rect x="45" y="47" width="1.12" height="1.15" fill="#7171ec"/>
<rect x="45" y="48" width="1.12" height="1.15" fill="#7474ec"/>
<rect x="45" y="49" width="1.12" height="1.15" fill="#6f6fec"/>
<rect x="45" y="50" width="1.12" height="1.15" fill="#8181ee"/>
<rect x="45" y="51" width="1.12" height="1.15" fill="#8c8cf0"/>
<rect x="45" y="52" width="1.12" height="1.15" fill="#8b8bf0"/>
<rect x="45" y="53" width="1.12" height="1.15" fill="#8e8ef0"/>
<rect x="45" y="54" width="1.12" height="1.15" fill="#7e7eee"/>
<rect x="45" y="55" width="1.12" height="1.15" fill="#8888ef"/>
<rect x="45" y="56" width="1.12" height="1.15" fill="#8989ef"/>
<rect x="45" y="57" width="1.12" height="1.15" fill="#7878ed"/>
<rect x="45" y="58" width="1.12" height="1.15" fill="#9a9af1"/>
<rect x="45" y="59" width="1.12" height="1.15" fill="#7070ec"/>
<rect x="45" y="60" width="1.12" height="1.15" fill="#8282ee"/>
<rect x="45" y="61" width="1.12" height="1.15" fill="#6c6ceb"/>
<rect x="45" y="62" width="1.12" height="1.15" fill="#8686ef"/>
<rect x="45" y="63" width="1.12" height="1.15" fill="#8a8aef"/>
<rect x="45" y="64" width="1.12" height="1.15" fill="#8181ee"/>
<rect x="45" y="65" width="1.12" height="1.15" fill="#7c7cee"/>
<rect x="45" y="66" width="1.12" height="1.15" fill="#6f6fec"/>
<rect x="45" y="67" width="1.12" height="1.15" fill="#7a7aed"/>
<rect x="45" y="68" width="1.12" height="1.15" fill="#6e6eec"/>
<rect x="45" y="69" width="1.12" height="1.15" fill="#8a8aef"/>
<rect x="45" y="70" width="1.12" height="1.15" fill="#6565ea"/>
<rect x="45" y="71" width="1.12" height="1.15" fill="#7f7fee"/>
<rect x="45" y="72" width="1.12" height="1.15" fill="#6969eb"/>
<rect x="45" y="73" width="1.12" height="1.15" fill="#8d8df0"/>
<rect x="45" y="74" width="1.12" height="1.15" fill="#6969eb"/>
<rect x="45" y="75" width="1.12" height="1.15" fill="#8484ef"/>
<rect x="45" y="76" width="1.12" height="1.15" fill="#6868eb"/>
</g>
</g>
<rect x="6.50" y="39.80" width="97.80" height="2.20" fill="#111"/>
<rect x="144.20" y="39.80" width="163.10" height="2.00" fill="#111"/>
<rect x="145.00" y="64.00" width="63.10" height="6.90" fill="#f6c51c"/>
<rect x="208.10" y="64.00" width="102.00" height="6.90" fill="#17c6ec"/>
<g clip-path="url(#c1)">
<rect x="357.00" y="79.00" width="163.00" height="165.00" fill="#020214"/>
<g filter="url(#bl1)">
<ellipse cx="367.0" cy="107.0" rx="14.7" ry="27.6" fill="#0a0af0" fill-opacity="0.76"/>
<ellipse cx="431.0" cy="111.0" rx="22.1" ry="23.9" fill="#0a0af0" fill-opacity="0.90"/>
<ellipse cx="459.0" cy="103.0" rx="16.6" ry="16.6" fill="#0a0af0" fill-opacity="0.62"/>
<ellipse cx="492.0" cy="97.0" rx="27.6" ry="20.2" fill="#0a0af0" fill-opacity="0.68"/>
<ellipse cx="509.0" cy="85.0" rx="12.9" ry="9.2" fill="#0a0af0" fill-opacity="0.85"/>
<ellipse cx="500.0" cy="157.0" rx="19.3" ry="24.8" fill="#0a0af0" fill-opacity="0.95"/>
<ellipse cx="427.0" cy="167.0" rx="22.1" ry="22.1" fill="#0a0af0" fill-opacity="0.65"/>
<ellipse cx="365.0" cy="163.0" rx="12.0" ry="23.9" fill="#0a0af0" fill-opacity="0.52"/>
<ellipse cx="373.0" cy="221.0" rx="20.2" ry="23.9" fill="#0a0af0" fill-opacity="0.95"/>
<ellipse cx="429.0" cy="222.0" rx="17.5" ry="22.1" fill="#0a0af0" fill-opacity="0.95"/>
<ellipse cx="449.0" cy="215.0" rx="10.1" ry="22.1" fill="#0a0af0" fill-opacity="0.90"/>
<ellipse cx="495.0" cy="207.0" rx="23.0" ry="22.1" fill="#0a0af0" fill-opacity="0.95"/>
<ellipse cx="447.0" cy="159.0" rx="7.4" ry="11.0" fill="#0a0af0" fill-opacity="0.33"/>
</g>
<rect x="357" y="79" width="163" height="165" filter="url(#tex)" opacity="0.55"/>
<g filter="url(#dot)">
<circle cx="384.0" cy="81.0" r="2.5" fill="#2ec84a" fill-opacity="0.8"/>
<circle cx="386.0" cy="85.0" r="1.7" fill="#2ec84a" fill-opacity="0.8"/>
<circle cx="382.0" cy="79.0" r="1.9" fill="#2ec84a" fill-opacity="0.8"/>
<circle cx="406.0" cy="107.0" r="1.3" fill="#ff3aa0" fill-opacity="0.8"/>
<circle cx="408.0" cy="113.0" r="1.1" fill="#ff3aa0" fill-opacity="0.8"/>
<circle cx="424.0" cy="148.0" r="1.2" fill="#6ad0ff" fill-opacity="0.8"/>
<circle cx="462.0" cy="106.0" r="1.1" fill="#ff3aa0" fill-opacity="0.8"/>
<circle cx="490.0" cy="134.0" r="1.3" fill="#ff3aa0" fill-opacity="0.8"/>
<circle cx="490.0" cy="145.0" r="1.2" fill="#6ad0ff" fill-opacity="0.8"/>
<circle cx="499.0" cy="154.0" r="1.4" fill="#ff40b0" fill-opacity="0.8"/>
<circle cx="503.0" cy="157.0" r="1.4" fill="#ff40b0" fill-opacity="0.8"/>
<circle cx="497.0" cy="159.0" r="1.1" fill="#ff40b0" fill-opacity="0.8"/>
<circle cx="500.0" cy="139.0" r="1.7" fill="#40d080" fill-opacity="0.8"/>
<circle cx="402.0" cy="174.0" r="1.2" fill="#ff3aa0" fill-opacity="0.8"/>
<circle cx="407.0" cy="179.0" r="1.1" fill="#ff3aa0" fill-opacity="0.8"/>
<circle cx="397.0" cy="173.0" r="1.1" fill="#ff3aa0" fill-opacity="0.8"/>
<circle cx="374.0" cy="196.0" r="1.5" fill="#e0f0ff" fill-opacity="0.8"/>
<circle cx="384.0" cy="193.0" r="1.1" fill="#ff3aa0" fill-opacity="0.8"/>
<circle cx="454.0" cy="178.0" r="1.2" fill="#40e070" fill-opacity="0.8"/>
<circle cx="440.0" cy="199.0" r="1.3" fill="#ff3aa0" fill-opacity="0.8"/>
<circle cx="425.0" cy="221.0" r="1.5" fill="#ffffff" fill-opacity="0.8"/>
<circle cx="380.0" cy="213.0" r="2.1" fill="#30b060" fill-opacity="0.8"/>
<circle cx="378.0" cy="219.0" r="1.4" fill="#30b060" fill-opacity="0.8"/>
<circle cx="380.0" cy="222.0" r="1.4" fill="#ff40b0" fill-opacity="0.8"/>
<circle cx="440.0" cy="200.0" r="1.2" fill="#ff3aa0" fill-opacity="0.8"/>
<circle cx="502.0" cy="181.0" r="1.3" fill="#ff3aa0" fill-opacity="0.8"/>
<circle cx="509.0" cy="213.0" r="1.1" fill="#ff3aa0" fill-opacity="0.8"/>
<circle cx="457.0" cy="87.0" r="0.9" fill="#ff3aa0" fill-opacity="0.8"/>
<circle cx="461.0" cy="89.0" r="0.9" fill="#6ad0ff" fill-opacity="0.8"/>
<circle cx="515.0" cy="81.0" r="1.4" fill="#6ad0ff" fill-opacity="0.8"/>
</g>
<g fill="#f4f000">
<polygon points="473.2,131.4 477.6,127.6 478.8,134.2"/>
<polygon points="408.5,212.5 416.5,216.5 408.5,220.5"/>
<polygon points="448,186 454.5,191 447.5,194"/>
<polygon points="505,180.5 511.5,182.5 507,188"/>
</g>
<g fill="#ffffff">
<polygon points="489.6,133.2 495.8,130.5 494.0,129.4 498.4,122.5 495.6,120.7 491.2,127.6 489.4,126.4"/>
<polygon points="422.0,228.0 415.4,229.3 416.8,230.8 411.0,236.6 413.4,239.0 419.2,233.2 420.7,234.6"/>
</g>
</g>
<g clip-path="url(#c2)">
<rect x="368.00" y="324.00" width="143.00" height="122.00" fill="#0e0a6c"/>
<g filter="url(#bl2)">
<ellipse cx="393.0" cy="340.0" rx="36.0" ry="20.0" fill="#1a16b8" fill-opacity="0.68"/>
<ellipse cx="430.0" cy="378.0" rx="18.0" ry="18.0" fill="#1a16b8" fill-opacity="0.68"/>
<ellipse cx="448.0" cy="346.0" rx="30.0" ry="14.0" fill="#1a16b8" fill-opacity="0.47"/>
<ellipse cx="478.0" cy="362.0" rx="18.0" ry="16.0" fill="#1a16b8" fill-opacity="0.59"/>
<ellipse cx="482.0" cy="424.0" rx="20.0" ry="16.0" fill="#1a16b8" fill-opacity="0.51"/>
<ellipse cx="430.0" cy="382.0" rx="12.0" ry="14.0" fill="#1a16b8" fill-opacity="0.42"/>
<ellipse cx="508.0" cy="404.0" rx="8.0" ry="20.0" fill="#1a16b8" fill-opacity="0.34"/>
</g>
<g filter="url(#bl3)">
<ellipse cx="382.0" cy="372.0" rx="10.0" ry="10.0" fill="#000006" fill-opacity="0.95"/>
<ellipse cx="405.0" cy="367.0" rx="7.0" ry="7.0" fill="#000006" fill-opacity="0.90"/>
<ellipse cx="478.0" cy="329.0" rx="10.0" ry="8.0" fill="#000006" fill-opacity="0.95"/>
<ellipse cx="500.0" cy="357.0" rx="9.0" ry="10.0" fill="#000006" fill-opacity="0.85"/>
<ellipse cx="460.0" cy="368.0" rx="5.0" ry="26.0" fill="#000006" fill-opacity="0.60"/>
<ellipse cx="392.0" cy="390.0" rx="10.0" ry="6.0" fill="#000006" fill-opacity="0.60"/>
<ellipse cx="420.0" cy="408.0" rx="20.0" ry="11.0" fill="#000006" fill-opacity="0.85"/>
<ellipse cx="376.0" cy="440.0" rx="10.0" ry="8.0" fill="#000006" fill-opacity="0.85"/>
<ellipse cx="478.0" cy="398.0" rx="9.0" ry="9.0" fill="#000006" fill-opacity="0.95"/>
<ellipse cx="446.0" cy="424.0" rx="8.0" ry="22.0" fill="#000006" fill-opacity="0.70"/>
<ellipse cx="480.0" cy="440.0" rx="10.0" ry="7.0" fill="#000006" fill-opacity="0.80"/>
<ellipse cx="508.0" cy="436.0" rx="6.0" ry="10.0" fill="#000006" fill-opacity="0.60"/>
<ellipse cx="372.0" cy="421.0" rx="7" ry="11" fill="#c02890" fill-opacity="0.55"/>
</g>
<rect x="368" y="324" width="143" height="122" filter="url(#tex)" opacity="0.35"/>
<g stroke="#c03090" stroke-width="0.9" stroke-opacity="0.55" filter="url(#dot)">
<line x1="368" y1="418" x2="380" y2="410"/>
<line x1="368" y1="421" x2="382" y2="418"/>
<line x1="369" y1="424" x2="381" y2="428"/>
<line x1="368" y1="416" x2="376" y2="404"/>
<line x1="370" y1="426" x2="377" y2="434"/>
</g>
<g filter="url(#dot)">
<circle cx="418.0" cy="339.6" r="1.0" fill="#e040c0"/>
<circle cx="441.6" cy="358.5" r="1.3" fill="#e040c0"/>
<circle cx="454.0" cy="389.5" r="1.6" fill="#ff40b0"/>
<circle cx="487.0" cy="386.0" r="0.9" fill="#c040c0"/>
<circle cx="404.0" cy="430.0" r="2.3" fill="#ff3aa0"/>
<circle cx="404.5" cy="442.5" r="2.5" fill="#ff3aa0"/>
<circle cx="403.0" cy="436.0" r="1.0" fill="#c03090"/>
<circle cx="371.0" cy="420.0" r="2.4" fill="#e03090"/>
<circle cx="375.0" cy="416.0" r="1.3" fill="#d03090"/>
<circle cx="370.0" cy="426.0" r="1.4" fill="#d03090"/>
<circle cx="377.0" cy="423.0" r="1.1" fill="#d03090"/>
</g>
</g>
<rect x="78.30" y="420.50" width="16.30" height="9.80" fill="#0606ec"/>
<rect x="94.60" y="420.50" width="19.80" height="9.80" fill="#2a2aea"/>
<rect x="114.40" y="420.50" width="19.40" height="9.80" fill="#5c5ce6"/>
<rect x="133.80" y="420.50" width="19.50" height="9.80" fill="#9898f0"/>
<rect x="153.30" y="420.50" width="19.40" height="9.80" fill="#c8c8f6"/>
<rect x="192.90" y="420.50" width="19.60" height="9.80" fill="#fcc8c8"/>
<rect x="212.50" y="420.50" width="19.40" height="9.80" fill="#f89898"/>
<rect x="231.90" y="420.50" width="19.40" height="9.80" fill="#f66464"/>
<rect x="251.30" y="420.50" width="19.70" height="9.80" fill="#f43434"/>
<rect x="271.00" y="420.50" width="20.20" height="9.80" fill="#fa0606"/>
<polygon points="106.5,271.4 113,267.9 113,270.1 120.7,270.1 120.7,272.7 113,272.7 113,274.9" fill="#000"/>
<polygon points="310.9,273.3 317.4,269.8 317.4,272 324.9,272 324.9,274.6 317.4,274.6 317.4,276.8" fill="#000"/>
<text class="b" transform="translate(-0.6,18.2) scale(1.08,1)" x="0" y="0" font-size="23.5">A</text>
<text class="b" transform="translate(354.6,18.2) scale(1.09,1)" x="0" y="0" font-size="23.5">B</text>
<text class="s" x="36.6" y="36.6" font-size="23.3">MCL</text>
<text class="s" x="194" y="36.5" font-size="22.9">DLBCL</text>
<text class="s" x="155.2" y="58.7" font-size="19.5">GCB</text>
<text class="s" x="246.5" y="58.7" font-size="19.5">ABC</text>
<text class="s" x="93.5" y="69.6" font-size="16">6qcen</text>
<text class="s" x="311" y="71.4" font-size="16">6qcen</text>
<text class="s" x="107.6" y="260.6" font-size="19.8" font-style="italic">A20</text>
<text class="s" x="312" y="262.2" font-size="19.8" font-style="italic">A20</text>
<text class="s" x="312" y="305.5" font-size="16">6q23.3</text>
<text class="s" x="91.5" y="385" font-size="16">6qter</text>
<text class="s" x="310.8" y="399.8" font-size="16">6qter</text>
<text class="s" x="10.9" y="429.5" font-size="14.6">Log2 ratio</text>
<text class="s" x="78.5" y="417.5" font-size="14">-2</text>
<text class="s" x="179" y="417.5" font-size="14">0</text>
<text class="s" x="278.5" y="418" font-size="14">2</text>
<text class="s" x="401.5" y="30.7" font-size="17.9">DLBCL with</text>
<text class="s" x="401.5" y="52.2" font-size="17.9">heterozygous</text>
<text class="s" x="401.5" y="74.2" font-size="17.9"><tspan font-style="italic">A20</tspan> loss</text>
<text class="s" x="389" y="275.4" font-size="17.9">DLBCL with</text>
<text class="s" x="389" y="296.8" font-size="17.9">homozygous</text>
<text class="s" x="389" y="318.4" font-size="17.9"><tspan font-style="italic">A20</tspan> loss</text>
</svg>
</body></html>
